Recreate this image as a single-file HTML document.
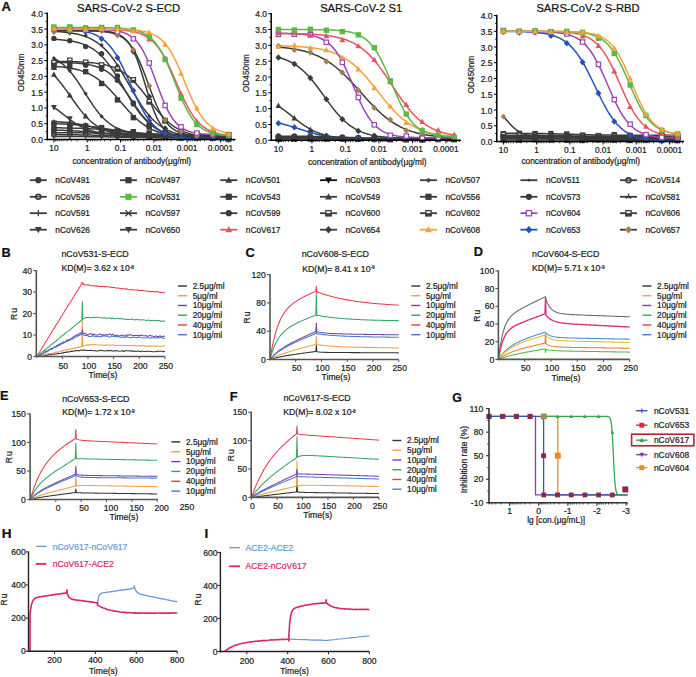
<!DOCTYPE html>
<html><head><meta charset="utf-8"><style>
html,body{margin:0;padding:0;background:#fff;width:696px;height:677px;overflow:hidden}
svg{display:block}
text{font-family:"Liberation Sans", sans-serif; stroke-width:0.22}
</style></head><body>
<svg width="696" height="677" viewBox="0 0 696 677">
<rect width="696" height="677" fill="#fff"/>
<text x="1.5" y="10.8" font-size="13" text-anchor="start" fill="#111" stroke="#111" font-weight="bold" >A</text>
<polyline points="53.9,121.53 56.08,121.66 58.27,121.8 60.45,121.97 62.64,122.15 64.82,122.35 67.01,122.58 69.19,122.83 71.38,123.1 73.56,123.4 75.75,123.73 77.93,124.08 80.12,124.46 82.3,124.86 84.48,125.3 86.67,125.75 88.85,126.22 91.04,126.71 93.22,127.21 95.41,127.72 97.59,128.24 99.78,128.75 101.96,129.26 104.15,129.76 106.33,130.24 108.52,130.71 110.7,131.15 112.88,131.57 115.07,131.97 117.25,132.34 119.44,132.68 121.62,133 123.81,133.29 125.99,133.55 128.18,133.79 130.36,134.01 132.55,134.2 134.73,134.38 136.92,134.54 139.1,134.67 141.28,134.8 143.47,134.91 145.65,135.01 147.84,135.09 150.02,135.17 152.21,135.24 154.39,135.3 156.58,135.35 158.76,135.39 160.95,135.43 163.13,135.47 165.32,135.5 167.5,135.53 169.68,135.55 171.87,135.57 174.05,135.59 176.24,135.6 178.42,135.62 180.61,135.63 182.79,135.64 184.98,135.65 187.16,135.66 189.35,135.67 191.53,135.67 193.72,135.68 195.9,135.68 198.08,135.69 200.27,135.69 202.45,135.69 204.64,135.7 206.82,135.7 209.01,135.7 211.19,135.7 213.38,135.7 215.56,135.7 217.75,135.71 219.93,135.71 222.12,135.71 224.3,135.71 226.48,135.71 228.67,135.71" fill="none" stroke="#3b3b3b" stroke-width="1.5" stroke-linejoin="round" />
<polyline points="53.9,123.68 56.08,123.75 58.27,123.83 60.45,123.91 62.64,124.01 64.82,124.12 67.01,124.24 69.19,124.37 71.38,124.51 73.56,124.67 75.75,124.84 77.93,125.03 80.12,125.23 82.3,125.45 84.48,125.68 86.67,125.93 88.85,126.2 91.04,126.49 93.22,126.78 95.41,127.09 97.59,127.42 99.78,127.75 101.96,128.09 104.15,128.44 106.33,128.79 108.52,129.15 110.7,129.5 112.88,129.84 115.07,130.18 117.25,130.52 119.44,130.84 121.62,131.15 123.81,131.44 125.99,131.72 128.18,131.98 130.36,132.23 132.55,132.46 134.73,132.68 136.92,132.88 139.1,133.06 141.28,133.23 143.47,133.39 145.65,133.53 147.84,133.65 150.02,133.77 152.21,133.87 154.39,133.97 156.58,134.05 158.76,134.13 160.95,134.2 163.13,134.26 165.32,134.32 167.5,134.37 169.68,134.41 171.87,134.45 174.05,134.49 176.24,134.52 178.42,134.55 180.61,134.57 182.79,134.59 184.98,134.61 187.16,134.63 189.35,134.64 191.53,134.66 193.72,134.67 195.9,134.68 198.08,134.69 200.27,134.7 202.45,134.71 204.64,134.71 206.82,134.72 209.01,134.73 211.19,134.73 213.38,134.73 215.56,134.74 217.75,134.74 219.93,134.74 222.12,134.75 224.3,134.75 226.48,134.75 228.67,134.75" fill="none" stroke="#3b3b3b" stroke-width="1.5" stroke-linejoin="round" />
<polyline points="53.9,127.76 56.08,127.79 58.27,127.81 60.45,127.85 62.64,127.88 64.82,127.92 67.01,127.97 69.19,128.01 71.38,128.07 73.56,128.13 75.75,128.19 77.93,128.26 80.12,128.33 82.3,128.42 84.48,128.5 86.67,128.6 88.85,128.71 91.04,128.82 93.22,128.94 95.41,129.07 97.59,129.22 99.78,129.37 101.96,129.53 104.15,129.69 106.33,129.87 108.52,130.06 110.7,130.26 112.88,130.46 115.07,130.67 117.25,130.89 119.44,131.11 121.62,131.34 123.81,131.57 125.99,131.8 128.18,132.04 130.36,132.27 132.55,132.5 134.73,132.73 136.92,132.95 139.1,133.17 141.28,133.38 143.47,133.59 145.65,133.78 147.84,133.97 150.02,134.15 152.21,134.32 154.39,134.48 156.58,134.63 158.76,134.77 160.95,134.9 163.13,135.03 165.32,135.14 167.5,135.25 169.68,135.34 171.87,135.43 174.05,135.52 176.24,135.59 178.42,135.66 180.61,135.73 182.79,135.78 184.98,135.84 187.16,135.89 189.35,135.93 191.53,135.97 193.72,136.01 195.9,136.04 198.08,136.07 200.27,136.1 202.45,136.12 204.64,136.14 206.82,136.16 209.01,136.18 211.19,136.2 213.38,136.21 215.56,136.22 217.75,136.24 219.93,136.25 222.12,136.26 224.3,136.27 226.48,136.27 228.67,136.28" fill="none" stroke="#3b3b3b" stroke-width="1.5" stroke-linejoin="round" />
<polyline points="53.9,130.02 56.08,130.09 58.27,130.16 60.45,130.23 62.64,130.31 64.82,130.4 67.01,130.49 69.19,130.6 71.38,130.71 73.56,130.82 75.75,130.95 77.93,131.08 80.12,131.23 82.3,131.38 84.48,131.54 86.67,131.7 88.85,131.87 91.04,132.05 93.22,132.24 95.41,132.43 97.59,132.62 99.78,132.82 101.96,133.02 104.15,133.22 106.33,133.42 108.52,133.62 110.7,133.81 112.88,134 115.07,134.19 117.25,134.38 119.44,134.55 121.62,134.72 123.81,134.89 125.99,135.04 128.18,135.19 130.36,135.33 132.55,135.46 134.73,135.59 136.92,135.7 139.1,135.81 141.28,135.91 143.47,136.01 145.65,136.09 147.84,136.17 150.02,136.24 152.21,136.31 154.39,136.37 156.58,136.43 158.76,136.48 160.95,136.53 163.13,136.57 165.32,136.61 167.5,136.64 169.68,136.68 171.87,136.7 174.05,136.73 176.24,136.75 178.42,136.78 180.61,136.8 182.79,136.81 184.98,136.83 187.16,136.84 189.35,136.86 191.53,136.87 193.72,136.88 195.9,136.89 198.08,136.9 200.27,136.91 202.45,136.91 204.64,136.92 206.82,136.92 209.01,136.93 211.19,136.93 213.38,136.94 215.56,136.94 217.75,136.95 219.93,136.95 222.12,136.95 224.3,136.95 226.48,136.96 228.67,136.96" fill="none" stroke="#3b3b3b" stroke-width="1.5" stroke-linejoin="round" />
<polyline points="53.9,132.65 56.08,132.66 58.27,132.67 60.45,132.68 62.64,132.69 64.82,132.71 67.01,132.72 69.19,132.74 71.38,132.76 73.56,132.78 75.75,132.8 77.93,132.83 80.12,132.86 82.3,132.89 84.48,132.92 86.67,132.96 88.85,133 91.04,133.05 93.22,133.1 95.41,133.15 97.59,133.21 99.78,133.27 101.96,133.34 104.15,133.41 106.33,133.49 108.52,133.57 110.7,133.66 112.88,133.75 115.07,133.85 117.25,133.95 119.44,134.06 121.62,134.18 123.81,134.3 125.99,134.42 128.18,134.54 130.36,134.67 132.55,134.8 134.73,134.94 136.92,135.07 139.1,135.2 141.28,135.33 143.47,135.47 145.65,135.6 147.84,135.72 150.02,135.84 152.21,135.96 154.39,136.08 156.58,136.19 158.76,136.29 160.95,136.39 163.13,136.49 165.32,136.58 167.5,136.66 169.68,136.74 171.87,136.81 174.05,136.88 176.24,136.95 178.42,137 180.61,137.06 182.79,137.11 184.98,137.15 187.16,137.2 189.35,137.23 191.53,137.27 193.72,137.3 195.9,137.33 198.08,137.36 200.27,137.38 202.45,137.4 204.64,137.42 206.82,137.44 209.01,137.46 211.19,137.47 213.38,137.48 215.56,137.5 217.75,137.51 219.93,137.52 222.12,137.53 224.3,137.53 226.48,137.54 228.67,137.55" fill="none" stroke="#3b3b3b" stroke-width="1.5" stroke-linejoin="round" />
<polyline points="53.9,134.58 56.08,134.6 58.27,134.61 60.45,134.63 62.64,134.65 64.82,134.67 67.01,134.69 69.19,134.72 71.38,134.75 73.56,134.78 75.75,134.81 77.93,134.84 80.12,134.88 82.3,134.92 84.48,134.97 86.67,135.02 88.85,135.07 91.04,135.12 93.22,135.18 95.41,135.25 97.59,135.31 99.78,135.38 101.96,135.46 104.15,135.53 106.33,135.61 108.52,135.7 110.7,135.78 112.88,135.87 115.07,135.96 117.25,136.05 119.44,136.14 121.62,136.23 123.81,136.33 125.99,136.42 128.18,136.51 130.36,136.59 132.55,136.68 134.73,136.76 136.92,136.84 139.1,136.92 141.28,136.99 143.47,137.06 145.65,137.13 147.84,137.19 150.02,137.25 152.21,137.31 154.39,137.36 156.58,137.41 158.76,137.45 160.95,137.49 163.13,137.53 165.32,137.57 167.5,137.6 169.68,137.63 171.87,137.66 174.05,137.68 176.24,137.7 178.42,137.72 180.61,137.74 182.79,137.76 184.98,137.78 187.16,137.79 189.35,137.8 191.53,137.81 193.72,137.83 195.9,137.83 198.08,137.84 200.27,137.85 202.45,137.86 204.64,137.86 206.82,137.87 209.01,137.88 211.19,137.88 213.38,137.88 215.56,137.89 217.75,137.89 219.93,137.89 222.12,137.9 224.3,137.9 226.48,137.9 228.67,137.9" fill="none" stroke="#3b3b3b" stroke-width="1.5" stroke-linejoin="round" />
<polyline points="53.9,136.41 56.08,136.41 58.27,136.42 60.45,136.43 62.64,136.44 64.82,136.44 67.01,136.46 69.19,136.47 71.38,136.48 73.56,136.49 75.75,136.51 77.93,136.52 80.12,136.54 82.3,136.56 84.48,136.58 86.67,136.6 88.85,136.63 91.04,136.65 93.22,136.68 95.41,136.71 97.59,136.74 99.78,136.77 101.96,136.8 104.15,136.84 106.33,136.87 108.52,136.91 110.7,136.95 112.88,136.99 115.07,137.03 117.25,137.07 119.44,137.11 121.62,137.16 123.81,137.2 125.99,137.24 128.18,137.28 130.36,137.32 132.55,137.36 134.73,137.4 136.92,137.43 139.1,137.47 141.28,137.5 143.47,137.53 145.65,137.56 147.84,137.59 150.02,137.62 152.21,137.64 154.39,137.67 156.58,137.69 158.76,137.71 160.95,137.73 163.13,137.74 165.32,137.76 167.5,137.78 169.68,137.79 171.87,137.8 174.05,137.81 176.24,137.82 178.42,137.83 180.61,137.84 182.79,137.85 184.98,137.86 187.16,137.86 189.35,137.87 191.53,137.87 193.72,137.88 195.9,137.88 198.08,137.89 200.27,137.89 202.45,137.89 204.64,137.9 206.82,137.9 209.01,137.9 211.19,137.9 213.38,137.91 215.56,137.91 217.75,137.91 219.93,137.91 222.12,137.91 224.3,137.91 226.48,137.91 228.67,137.91" fill="none" stroke="#3b3b3b" stroke-width="1.5" stroke-linejoin="round" />
<polyline points="53.9,107.32 56.08,108.83 58.27,110.43 60.45,112.09 62.64,113.8 64.82,115.52 67.01,117.24 69.19,118.93 71.38,120.56 73.56,122.11 75.75,123.56 77.93,124.91 80.12,126.15 82.3,127.27 84.48,128.28 86.67,129.18 88.85,129.96 91.04,130.66 93.22,131.26 95.41,131.78 97.59,132.23 99.78,132.61 101.96,132.94 104.15,133.23 106.33,133.47 108.52,133.67 110.7,133.84 112.88,133.99 115.07,134.11 117.25,134.21 119.44,134.3 121.62,134.38 123.81,134.44 125.99,134.49 128.18,134.54 130.36,134.57 132.55,134.6 134.73,134.63 136.92,134.65 139.1,134.67 141.28,134.69 143.47,134.7 145.65,134.71 147.84,134.72 150.02,134.73 152.21,134.73 154.39,134.74 156.58,134.74 158.76,134.75 160.95,134.75 163.13,134.75 165.32,134.76 167.5,134.76 169.68,134.76 171.87,134.76 174.05,134.76 176.24,134.76 178.42,134.76 180.61,134.76 182.79,134.76 184.98,134.77 187.16,134.77 189.35,134.77 191.53,134.77 193.72,134.77 195.9,134.77 198.08,134.77 200.27,134.77 202.45,134.77 204.64,134.77 206.82,134.77 209.01,134.77 211.19,134.77 213.38,134.77 215.56,134.77 217.75,134.77 219.93,134.77 222.12,134.77 224.3,134.77 226.48,134.77 228.67,134.77" fill="none" stroke="#3b3b3b" stroke-width="1.5" stroke-linejoin="round" />
<polyline points="53.9,75.27 56.08,77.55 58.27,80.01 60.45,82.65 62.64,85.44 64.82,88.37 67.01,91.4 69.19,94.49 71.38,97.61 73.56,100.73 75.75,103.8 77.93,106.78 80.12,109.65 82.3,112.38 84.48,114.94 86.67,117.32 88.85,119.52 91.04,121.52 93.22,123.34 95.41,124.97 97.59,126.43 99.78,127.72 101.96,128.87 104.15,129.87 106.33,130.76 108.52,131.53 110.7,132.2 112.88,132.78 115.07,133.28 117.25,133.71 119.44,134.09 121.62,134.41 123.81,134.69 125.99,134.93 128.18,135.13 130.36,135.31 132.55,135.46 134.73,135.59 136.92,135.7 139.1,135.79 141.28,135.87 143.47,135.94 145.65,136 147.84,136.05 150.02,136.09 152.21,136.13 154.39,136.16 156.58,136.19 158.76,136.21 160.95,136.23 163.13,136.25 165.32,136.26 167.5,136.27 169.68,136.28 171.87,136.29 174.05,136.3 176.24,136.31 178.42,136.31 180.61,136.32 182.79,136.32 184.98,136.33 187.16,136.33 189.35,136.33 191.53,136.33 193.72,136.33 195.9,136.34 198.08,136.34 200.27,136.34 202.45,136.34 204.64,136.34 206.82,136.34 209.01,136.34 211.19,136.34 213.38,136.34 215.56,136.34 217.75,136.34 219.93,136.34 222.12,136.34 224.3,136.34 226.48,136.34 228.67,136.34" fill="none" stroke="#3b3b3b" stroke-width="1.5" stroke-linejoin="round" />
<polyline points="53.9,58.32 56.08,59.48 58.27,60.82 60.45,62.33 62.64,64.04 64.82,65.95 67.01,68.08 69.19,70.44 71.38,73.01 73.56,75.8 75.75,78.78 77.93,81.94 80.12,85.23 82.3,88.63 84.48,92.09 86.67,95.56 88.85,98.99 91.04,102.35 93.22,105.58 95.41,108.65 97.59,111.54 99.78,114.22 101.96,116.68 104.15,118.93 106.33,120.95 108.52,122.76 110.7,124.37 112.88,125.79 115.07,127.04 117.25,128.13 119.44,129.08 121.62,129.9 123.81,130.61 125.99,131.22 128.18,131.74 130.36,132.19 132.55,132.57 134.73,132.9 136.92,133.18 139.1,133.42 141.28,133.62 143.47,133.8 145.65,133.94 147.84,134.07 150.02,134.18 152.21,134.27 154.39,134.34 156.58,134.41 158.76,134.46 160.95,134.51 163.13,134.55 165.32,134.58 167.5,134.61 169.68,134.63 171.87,134.65 174.05,134.67 176.24,134.69 178.42,134.7 180.61,134.71 182.79,134.72 184.98,134.73 187.16,134.73 189.35,134.74 191.53,134.74 193.72,134.75 195.9,134.75 198.08,134.75 200.27,134.75 202.45,134.76 204.64,134.76 206.82,134.76 209.01,134.76 211.19,134.76 213.38,134.76 215.56,134.76 217.75,134.76 219.93,134.76 222.12,134.77 224.3,134.77 226.48,134.77 228.67,134.77" fill="none" stroke="#3b3b3b" stroke-width="1.5" stroke-linejoin="round" />
<polyline points="53.9,66.35 56.08,66.49 58.27,66.66 60.45,66.85 62.64,67.07 64.82,67.32 67.01,67.61 69.19,67.94 71.38,68.31 73.56,68.74 75.75,69.22 77.93,69.77 80.12,70.39 82.3,71.09 84.48,71.87 86.67,72.76 88.85,73.74 91.04,74.84 93.22,76.06 95.41,77.41 97.59,78.89 99.78,80.5 101.96,82.26 104.15,84.15 106.33,86.17 108.52,88.31 110.7,90.57 112.88,92.93 115.07,95.37 117.25,97.87 119.44,100.4 121.62,102.95 123.81,105.48 125.99,107.98 128.18,110.42 130.36,112.77 132.55,115.03 134.73,117.17 136.92,119.19 139.1,121.08 141.28,122.82 143.47,124.43 145.65,125.91 147.84,127.25 150.02,128.47 152.21,129.57 154.39,130.55 156.58,131.43 158.76,132.21 160.95,132.91 163.13,133.53 165.32,134.07 167.5,134.55 169.68,134.98 171.87,135.35 174.05,135.68 176.24,135.96 178.42,136.21 180.61,136.43 182.79,136.62 184.98,136.79 187.16,136.94 189.35,137.07 191.53,137.18 193.72,137.27 195.9,137.36 198.08,137.43 200.27,137.5 202.45,137.55 204.64,137.6 206.82,137.64 209.01,137.68 211.19,137.71 213.38,137.74 215.56,137.76 217.75,137.78 219.93,137.8 222.12,137.82 224.3,137.83 226.48,137.84 228.67,137.85" fill="none" stroke="#3b3b3b" stroke-width="1.5" stroke-linejoin="round" />
<polyline points="53.9,62.36 56.08,62.39 58.27,62.43 60.45,62.47 62.64,62.52 64.82,62.58 67.01,62.65 69.19,62.73 71.38,62.83 73.56,62.95 75.75,63.09 77.93,63.26 80.12,63.46 82.3,63.69 84.48,63.96 86.67,64.29 88.85,64.67 91.04,65.12 93.22,65.65 95.41,66.27 97.59,66.99 99.78,67.83 101.96,68.81 104.15,69.93 106.33,71.22 108.52,72.7 110.7,74.37 112.88,76.25 115.07,78.35 117.25,80.66 119.44,83.19 121.62,85.93 123.81,88.85 125.99,91.92 128.18,95.11 130.36,98.37 132.55,101.65 134.73,104.92 136.92,108.11 139.1,111.18 141.28,114.1 143.47,116.85 145.65,119.38 147.84,121.71 150.02,123.81 152.21,125.7 154.39,127.38 156.58,128.86 158.76,130.15 160.95,131.28 163.13,132.26 165.32,133.11 167.5,133.83 169.68,134.46 171.87,134.99 174.05,135.44 176.24,135.83 178.42,136.15 180.61,136.43 182.79,136.66 184.98,136.86 187.16,137.03 189.35,137.17 191.53,137.29 193.72,137.39 195.9,137.47 198.08,137.54 200.27,137.6 202.45,137.66 204.64,137.7 206.82,137.73 209.01,137.76 211.19,137.79 213.38,137.81 215.56,137.83 217.75,137.84 219.93,137.86 222.12,137.87 224.3,137.88 226.48,137.88 228.67,137.89" fill="none" stroke="#3b3b3b" stroke-width="1.5" stroke-linejoin="round" />
<polyline points="53.9,61.36 56.08,61.38 58.27,61.4 60.45,61.43 62.64,61.45 64.82,61.49 67.01,61.52 69.19,61.57 71.38,61.62 73.56,61.68 75.75,61.74 77.93,61.82 80.12,61.91 82.3,62.02 84.48,62.14 86.67,62.29 88.85,62.45 91.04,62.64 93.22,62.86 95.41,63.12 97.59,63.42 99.78,63.76 101.96,64.15 104.15,64.6 106.33,65.12 108.52,65.71 110.7,66.39 112.88,67.16 115.07,68.04 117.25,69.03 119.44,70.15 121.62,71.41 123.81,72.82 125.99,74.38 128.18,76.1 130.36,78 132.55,80.06 134.73,82.28 136.92,84.66 139.1,87.19 141.28,89.84 143.47,92.6 145.65,95.43 147.84,98.31 150.02,101.2 152.21,104.08 154.39,106.9 156.58,109.65 158.76,112.29 160.95,114.8 163.13,117.16 165.32,119.37 167.5,121.41 169.68,123.28 171.87,124.99 174.05,126.53 176.24,127.92 178.42,129.16 180.61,130.27 182.79,131.25 184.98,132.11 187.16,132.87 189.35,133.54 191.53,134.13 193.72,134.63 195.9,135.08 198.08,135.46 200.27,135.8 202.45,136.09 204.64,136.34 206.82,136.56 209.01,136.75 211.19,136.91 213.38,137.05 215.56,137.17 217.75,137.28 219.93,137.37 222.12,137.44 224.3,137.51 226.48,137.57 228.67,137.62" fill="none" stroke="#3b3b3b" stroke-width="1.5" stroke-linejoin="round" />
<polyline points="53.9,39.32 56.08,39.45 58.27,39.6 60.45,39.77 62.64,39.96 64.82,40.19 67.01,40.46 69.19,40.76 71.38,41.11 73.56,41.52 75.75,41.99 77.93,42.53 80.12,43.15 82.3,43.86 84.48,44.68 86.67,45.61 88.85,46.67 91.04,47.87 93.22,49.23 95.41,50.75 97.59,52.47 99.78,54.38 101.96,56.49 104.15,58.82 106.33,61.37 108.52,64.13 110.7,67.11 112.88,70.28 115.07,73.62 117.25,77.12 119.44,80.74 121.62,84.45 123.81,88.19 125.99,91.94 128.18,95.64 130.36,99.27 132.55,102.77 134.73,106.12 136.92,109.29 139.1,112.27 141.28,115.04 143.47,117.59 145.65,119.93 147.84,122.05 150.02,123.96 152.21,125.68 154.39,127.21 156.58,128.57 158.76,129.77 160.95,130.83 163.13,131.77 165.32,132.58 167.5,133.3 169.68,133.92 171.87,134.46 174.05,134.93 176.24,135.34 178.42,135.69 180.61,136 182.79,136.27 184.98,136.49 187.16,136.69 189.35,136.86 191.53,137.01 193.72,137.14 195.9,137.25 198.08,137.34 200.27,137.42 202.45,137.49 204.64,137.55 206.82,137.6 209.01,137.65 211.19,137.69 213.38,137.72 215.56,137.75 217.75,137.77 219.93,137.79 222.12,137.81 224.3,137.83 226.48,137.84 228.67,137.85" fill="none" stroke="#3b3b3b" stroke-width="1.5" stroke-linejoin="round" />
<polyline points="53.9,31.43 56.08,31.55 58.27,31.68 60.45,31.84 62.64,32.02 64.82,32.23 67.01,32.47 69.19,32.75 71.38,33.06 73.56,33.42 75.75,33.84 77.93,34.31 80.12,34.86 82.3,35.47 84.48,36.18 86.67,36.98 88.85,37.89 91.04,38.92 93.22,40.09 95.41,41.4 97.59,42.87 99.78,44.51 101.96,46.34 104.15,48.36 106.33,50.58 108.52,53.02 110.7,55.66 112.88,58.52 115.07,61.58 117.25,64.83 119.44,68.26 121.62,71.83 123.81,75.53 125.99,79.31 128.18,83.15 130.36,86.99 132.55,90.81 134.73,94.56 136.92,98.21 139.1,101.73 141.28,105.09 143.47,108.26 145.65,111.24 147.84,114.01 150.02,116.57 152.21,118.92 154.39,121.06 156.58,123 158.76,124.75 160.95,126.32 163.13,127.73 165.32,128.98 167.5,130.08 169.68,131.07 171.87,131.93 174.05,132.69 176.24,133.36 178.42,133.95 180.61,134.46 182.79,134.91 184.98,135.31 187.16,135.65 189.35,135.95 191.53,136.21 193.72,136.43 195.9,136.63 198.08,136.8 200.27,136.95 202.45,137.08 204.64,137.19 206.82,137.29 209.01,137.37 211.19,137.45 213.38,137.51 215.56,137.56 217.75,137.61 219.93,137.65 222.12,137.69 224.3,137.72 226.48,137.75 228.67,137.77" fill="none" stroke="#3b3b3b" stroke-width="1.5" stroke-linejoin="round" />
<polyline points="53.9,30.65 56.08,30.65 58.27,30.65 60.45,30.66 62.64,30.66 64.82,30.66 67.01,30.66 69.19,30.66 71.38,30.66 73.56,30.67 75.75,30.67 77.93,30.68 80.12,30.69 82.3,30.7 84.48,30.71 86.67,30.73 88.85,30.75 91.04,30.78 93.22,30.82 95.41,30.87 97.59,30.94 99.78,31.03 101.96,31.15 104.15,31.3 106.33,31.5 108.52,31.76 110.7,32.11 112.88,32.55 115.07,33.13 117.25,33.89 119.44,34.86 121.62,36.1 123.81,37.7 125.99,39.71 128.18,42.24 130.36,45.36 132.55,49.16 134.73,53.7 136.92,59 139.1,65.02 141.28,71.65 143.47,78.72 145.65,86 147.84,93.2 150.02,100.1 152.21,106.46 154.39,112.15 156.58,117.1 158.76,121.29 160.95,124.76 163.13,127.59 165.32,129.87 167.5,131.67 169.68,133.09 171.87,134.2 174.05,135.07 176.24,135.73 178.42,136.25 180.61,136.64 182.79,136.94 184.98,137.17 187.16,137.35 189.35,137.49 191.53,137.59 193.72,137.67 195.9,137.73 198.08,137.78 200.27,137.81 202.45,137.84 204.64,137.86 206.82,137.87 209.01,137.88 211.19,137.89 213.38,137.9 215.56,137.91 217.75,137.91 219.93,137.91 222.12,137.92 224.3,137.92 226.48,137.92 228.67,137.92" fill="none" stroke="#3b3b3b" stroke-width="1.5" stroke-linejoin="round" />
<polyline points="53.9,29.27 56.08,29.3 58.27,29.35 60.45,29.4 62.64,29.47 64.82,29.55 67.01,29.64 69.19,29.75 71.38,29.89 73.56,30.05 75.75,30.24 77.93,30.47 80.12,30.74 82.3,31.06 84.48,31.45 86.67,31.91 88.85,32.46 91.04,33.1 93.22,33.87 95.41,34.77 97.59,35.84 99.78,37.08 101.96,38.54 104.15,40.23 106.33,42.18 108.52,44.43 110.7,46.98 112.88,49.87 115.07,53.11 117.25,56.69 119.44,60.61 121.62,64.85 123.81,69.36 125.99,74.1 128.18,79.01 130.36,83.99 132.55,88.99 134.73,93.9 136.92,98.67 139.1,103.21 141.28,107.48 143.47,111.44 145.65,115.07 147.84,118.34 150.02,121.27 152.21,123.86 154.39,126.14 156.58,128.13 158.76,129.85 160.95,131.33 163.13,132.6 165.32,133.68 167.5,134.61 169.68,135.39 171.87,136.05 174.05,136.6 176.24,137.07 178.42,137.47 180.61,137.8 182.79,138.08 184.98,138.31 187.16,138.51 189.35,138.67 191.53,138.81 193.72,138.92 195.9,139.02 198.08,139.1 200.27,139.16 202.45,139.22 204.64,139.27 206.82,139.3 209.01,139.34 211.19,139.36 213.38,139.39 215.56,139.41 217.75,139.42 219.93,139.43 222.12,139.44 224.3,139.45 226.48,139.46 228.67,139.47" fill="none" stroke="#2552b0" stroke-width="1.5" stroke-linejoin="round" />
<polyline points="53.9,30.66 56.08,30.66 58.27,30.66 60.45,30.66 62.64,30.67 64.82,30.67 67.01,30.68 69.19,30.68 71.38,30.69 73.56,30.7 75.75,30.71 77.93,30.73 80.12,30.74 82.3,30.77 84.48,30.8 86.67,30.83 88.85,30.88 91.04,30.93 93.22,31.01 95.41,31.1 97.59,31.21 99.78,31.35 101.96,31.52 104.15,31.74 106.33,32.02 108.52,32.36 110.7,32.78 112.88,33.31 115.07,33.97 117.25,34.78 119.44,35.78 121.62,37 123.81,38.5 125.99,40.31 128.18,42.49 130.36,45.09 132.55,48.15 134.73,51.72 136.92,55.8 139.1,60.39 141.28,65.47 143.47,70.95 145.65,76.73 147.84,82.68 150.02,88.65 152.21,94.49 154.39,100.06 156.58,105.25 158.76,109.98 160.95,114.21 163.13,117.92 165.32,121.11 167.5,123.84 169.68,126.13 171.87,128.04 174.05,129.61 176.24,130.91 178.42,131.96 180.61,132.82 182.79,133.52 184.98,134.08 187.16,134.53 189.35,134.89 191.53,135.18 193.72,135.42 195.9,135.6 198.08,135.75 200.27,135.87 202.45,135.97 204.64,136.04 206.82,136.11 209.01,136.15 211.19,136.19 213.38,136.22 215.56,136.25 217.75,136.27 219.93,136.28 222.12,136.3 224.3,136.31 226.48,136.31 228.67,136.32" fill="none" stroke="#3a3a3a" stroke-width="1.5" stroke-linejoin="round" />
<polyline points="53.9,29.08 56.08,29.08 58.27,29.08 60.45,29.08 62.64,29.08 64.82,29.08 67.01,29.09 69.19,29.09 71.38,29.09 73.56,29.1 75.75,29.1 77.93,29.11 80.12,29.11 82.3,29.12 84.48,29.14 86.67,29.15 88.85,29.17 91.04,29.2 93.22,29.23 95.41,29.27 97.59,29.32 99.78,29.38 101.96,29.46 104.15,29.55 106.33,29.68 108.52,29.83 110.7,30.02 112.88,30.25 115.07,30.55 117.25,30.92 119.44,31.37 121.62,31.94 123.81,32.65 125.99,33.52 128.18,34.59 130.36,35.9 132.55,37.5 134.73,39.43 136.92,41.75 139.1,44.5 141.28,47.74 143.47,51.48 145.65,55.74 147.84,60.5 150.02,65.72 152.21,71.32 154.39,77.17 156.58,83.14 158.76,89.09 160.95,94.85 163.13,100.3 165.32,105.35 167.5,109.91 169.68,113.96 171.87,117.49 174.05,120.52 176.24,123.09 178.42,125.24 180.61,127.03 182.79,128.51 184.98,129.72 187.16,130.7 189.35,131.5 191.53,132.15 193.72,132.67 195.9,133.09 198.08,133.42 200.27,133.69 202.45,133.91 204.64,134.08 206.82,134.22 209.01,134.33 211.19,134.42 213.38,134.49 215.56,134.55 217.75,134.59 219.93,134.63 222.12,134.65 224.3,134.68 226.48,134.7 228.67,134.71" fill="none" stroke="#9c44b8" stroke-width="1.5" stroke-linejoin="round" />
<polyline points="53.9,29.08 56.08,29.08 58.27,29.08 60.45,29.08 62.64,29.08 64.82,29.08 67.01,29.08 69.19,29.09 71.38,29.09 73.56,29.09 75.75,29.09 77.93,29.1 80.12,29.1 82.3,29.11 84.48,29.11 86.67,29.12 88.85,29.13 91.04,29.14 93.22,29.16 95.41,29.17 97.59,29.19 99.78,29.22 101.96,29.25 104.15,29.28 106.33,29.32 108.52,29.38 110.7,29.44 112.88,29.51 115.07,29.61 117.25,29.71 119.44,29.85 121.62,30.01 123.81,30.2 125.99,30.43 128.18,30.7 130.36,31.04 132.55,31.44 134.73,31.91 136.92,32.48 139.1,33.17 141.28,33.98 143.47,34.94 145.65,36.08 147.84,37.42 150.02,39 152.21,40.83 154.39,42.96 156.58,45.41 158.76,48.19 160.95,51.34 163.13,54.86 165.32,58.74 167.5,62.95 169.68,67.47 171.87,72.24 174.05,77.19 176.24,82.23 178.42,87.29 180.61,92.26 182.79,97.07 184.98,101.64 187.16,105.92 189.35,109.86 191.53,113.44 193.72,116.66 195.9,119.52 198.08,122.03 200.27,124.21 202.45,126.1 204.64,127.72 206.82,129.1 209.01,130.28 211.19,131.27 213.38,132.11 215.56,132.82 217.75,133.41 219.93,133.9 222.12,134.31 224.3,134.66 226.48,134.94 228.67,135.18" fill="none" stroke="#e8545e" stroke-width="1.5" stroke-linejoin="round" />
<polyline points="53.9,27.5 56.08,27.5 58.27,27.5 60.45,27.5 62.64,27.5 64.82,27.5 67.01,27.5 69.19,27.5 71.38,27.5 73.56,27.51 75.75,27.51 77.93,27.51 80.12,27.51 82.3,27.52 84.48,27.52 86.67,27.53 88.85,27.53 91.04,27.54 93.22,27.55 95.41,27.56 97.59,27.58 99.78,27.6 101.96,27.62 104.15,27.65 106.33,27.68 108.52,27.72 110.7,27.77 112.88,27.83 115.07,27.91 117.25,28 119.44,28.12 121.62,28.25 123.81,28.42 125.99,28.63 128.18,28.88 130.36,29.19 132.55,29.57 134.73,30.03 136.92,30.58 139.1,31.26 141.28,32.07 143.47,33.05 145.65,34.23 147.84,35.64 150.02,37.32 152.21,39.3 154.39,41.62 156.58,44.32 158.76,47.43 160.95,50.97 163.13,54.94 165.32,59.33 167.5,64.11 169.68,69.22 171.87,74.58 174.05,80.08 176.24,85.62 178.42,91.09 180.61,96.37 182.79,101.38 184.98,106.03 187.16,110.29 189.35,114.11 191.53,117.5 193.72,120.47 195.9,123.04 198.08,125.25 200.27,127.12 202.45,128.7 204.64,130.03 206.82,131.14 209.01,132.06 211.19,132.83 213.38,133.46 215.56,133.98 217.75,134.41 219.93,134.76 222.12,135.05 224.3,135.29 226.48,135.48 228.67,135.64" fill="none" stroke="#5db843" stroke-width="1.5" stroke-linejoin="round" />
<polyline points="53.9,29.08 56.08,29.08 58.27,29.08 60.45,29.08 62.64,29.08 64.82,29.08 67.01,29.08 69.19,29.08 71.38,29.08 73.56,29.08 75.75,29.08 77.93,29.08 80.12,29.08 82.3,29.08 84.48,29.08 86.67,29.09 88.85,29.09 91.04,29.09 93.22,29.1 95.41,29.1 97.59,29.11 99.78,29.11 101.96,29.12 104.15,29.13 106.33,29.14 108.52,29.16 110.7,29.18 112.88,29.2 115.07,29.23 117.25,29.27 119.44,29.31 121.62,29.37 123.81,29.43 125.99,29.51 128.18,29.61 130.36,29.73 132.55,29.88 134.73,30.06 136.92,30.27 139.1,30.54 141.28,30.87 143.47,31.27 145.65,31.75 147.84,32.34 150.02,33.05 152.21,33.9 154.39,34.93 156.58,36.17 158.76,37.64 160.95,39.39 163.13,41.46 165.32,43.86 167.5,46.65 169.68,49.85 171.87,53.46 174.05,57.5 176.24,61.93 178.42,66.71 180.61,71.78 182.79,77.06 184.98,82.43 187.16,87.8 189.35,93.04 191.53,98.07 193.72,102.79 195.9,107.15 198.08,111.1 200.27,114.64 202.45,117.75 204.64,120.47 206.82,122.81 209.01,124.8 211.19,126.5 213.38,127.93 215.56,129.12 217.75,130.12 219.93,130.94 222.12,131.63 224.3,132.19 226.48,132.66 228.67,133.04" fill="none" stroke="#f2a33a" stroke-width="1.5" stroke-linejoin="round" />
<polygon points="53.9,119.12 56.87,124.52 50.93,124.52" fill="#3b3b3b"/>
<polygon points="69.79,119.14 72.76,124.54 66.82,124.54" fill="#3b3b3b"/>
<polygon points="85.68,121.94 88.65,127.34 82.71,127.34" fill="#3b3b3b"/>
<polygon points="101.56,126.52 104.53,131.92 98.59,131.92" fill="#3b3b3b"/>
<polygon points="117.45,129.27 120.42,134.67 114.48,134.67" fill="#3b3b3b"/>
<polygon points="133.34,131.26 136.31,136.66 130.37,136.66" fill="#3b3b3b"/>
<polygon points="149.23,131.75 152.2,137.15 146.26,137.15" fill="#3b3b3b"/>
<polygon points="165.12,131.84 168.09,137.24 162.15,137.24" fill="#3b3b3b"/>
<polygon points="181.01,133.3 183.98,138.7 178.04,138.7" fill="#3b3b3b"/>
<polygon points="196.89,133.47 199.86,138.87 193.92,138.87" fill="#3b3b3b"/>
<polygon points="212.78,131.96 215.75,137.36 209.81,137.36" fill="#3b3b3b"/>
<polygon points="228.67,132.73 231.64,138.13 225.7,138.13" fill="#3b3b3b"/>
<rect x="51.2" y="120.48" width="5.4" height="5.4" fill="#3b3b3b"/>
<rect x="67.09" y="122.65" width="5.4" height="5.4" fill="#3b3b3b"/>
<rect x="82.98" y="123.22" width="5.4" height="5.4" fill="#3b3b3b"/>
<rect x="98.86" y="124.91" width="5.4" height="5.4" fill="#3b3b3b"/>
<rect x="114.75" y="128.36" width="5.4" height="5.4" fill="#3b3b3b"/>
<rect x="130.64" y="129" width="5.4" height="5.4" fill="#3b3b3b"/>
<rect x="146.53" y="130.27" width="5.4" height="5.4" fill="#3b3b3b"/>
<rect x="162.42" y="132.5" width="5.4" height="5.4" fill="#3b3b3b"/>
<rect x="178.31" y="132.77" width="5.4" height="5.4" fill="#3b3b3b"/>
<rect x="194.19" y="131.91" width="5.4" height="5.4" fill="#3b3b3b"/>
<rect x="210.08" y="131.2" width="5.4" height="5.4" fill="#3b3b3b"/>
<rect x="225.97" y="132.28" width="5.4" height="5.4" fill="#3b3b3b"/>
<rect x="51.2" y="125.6" width="5.4" height="5.4" fill="#3b3b3b"/>
<rect x="67.09" y="125.48" width="5.4" height="5.4" fill="#3b3b3b"/>
<rect x="82.98" y="126.75" width="5.4" height="5.4" fill="#3b3b3b"/>
<rect x="98.86" y="127.32" width="5.4" height="5.4" fill="#3b3b3b"/>
<rect x="114.75" y="128.33" width="5.4" height="5.4" fill="#3b3b3b"/>
<rect x="130.64" y="129.89" width="5.4" height="5.4" fill="#3b3b3b"/>
<rect x="146.53" y="131.89" width="5.4" height="5.4" fill="#3b3b3b"/>
<rect x="162.42" y="132.94" width="5.4" height="5.4" fill="#3b3b3b"/>
<rect x="178.31" y="133.57" width="5.4" height="5.4" fill="#3b3b3b"/>
<rect x="194.19" y="133.43" width="5.4" height="5.4" fill="#3b3b3b"/>
<rect x="210.08" y="133.91" width="5.4" height="5.4" fill="#3b3b3b"/>
<rect x="225.97" y="134.49" width="5.4" height="5.4" fill="#3b3b3b"/>
<circle cx="53.9" cy="129.38" r="2.7" fill="#3b3b3b"/>
<circle cx="69.79" cy="130.52" r="2.7" fill="#3b3b3b"/>
<circle cx="85.68" cy="131.36" r="2.7" fill="#3b3b3b"/>
<circle cx="101.56" cy="133.58" r="2.7" fill="#3b3b3b"/>
<circle cx="117.45" cy="133.46" r="2.7" fill="#3b3b3b"/>
<circle cx="133.34" cy="134.83" r="2.7" fill="#3b3b3b"/>
<circle cx="149.23" cy="136.94" r="2.7" fill="#3b3b3b"/>
<circle cx="165.12" cy="136.92" r="2.7" fill="#3b3b3b"/>
<circle cx="181.01" cy="136.38" r="2.7" fill="#3b3b3b"/>
<circle cx="196.89" cy="136.49" r="2.7" fill="#3b3b3b"/>
<circle cx="212.78" cy="136.11" r="2.7" fill="#3b3b3b"/>
<circle cx="228.67" cy="137.11" r="2.7" fill="#3b3b3b"/>
<rect x="51.2" y="129.32" width="5.4" height="5.4" fill="#3b3b3b"/>
<rect x="67.09" y="129.72" width="5.4" height="5.4" fill="#3b3b3b"/>
<rect x="82.98" y="130.62" width="5.4" height="5.4" fill="#3b3b3b"/>
<rect x="98.86" y="130.46" width="5.4" height="5.4" fill="#3b3b3b"/>
<rect x="114.75" y="130.54" width="5.4" height="5.4" fill="#3b3b3b"/>
<rect x="130.64" y="131.5" width="5.4" height="5.4" fill="#3b3b3b"/>
<rect x="146.53" y="133.09" width="5.4" height="5.4" fill="#3b3b3b"/>
<rect x="162.42" y="133.7" width="5.4" height="5.4" fill="#3b3b3b"/>
<rect x="178.31" y="135.25" width="5.4" height="5.4" fill="#3b3b3b"/>
<rect x="194.19" y="135.13" width="5.4" height="5.4" fill="#3b3b3b"/>
<rect x="210.08" y="134.22" width="5.4" height="5.4" fill="#3b3b3b"/>
<rect x="225.97" y="135.01" width="5.4" height="5.4" fill="#3b3b3b"/>
<circle cx="53.9" cy="135" r="2" fill="#fff" stroke="#3b3b3b" stroke-width="1.56"/>
<line x1="51.7" y1="135" x2="56.1" y2="135" stroke="#3b3b3b" stroke-width="1.2"/>
<circle cx="69.79" cy="134.66" r="2" fill="#fff" stroke="#3b3b3b" stroke-width="1.56"/>
<line x1="67.59" y1="134.66" x2="71.99" y2="134.66" stroke="#3b3b3b" stroke-width="1.2"/>
<circle cx="85.68" cy="134.74" r="2" fill="#fff" stroke="#3b3b3b" stroke-width="1.56"/>
<line x1="83.48" y1="134.74" x2="87.88" y2="134.74" stroke="#3b3b3b" stroke-width="1.2"/>
<circle cx="101.56" cy="135.22" r="2" fill="#fff" stroke="#3b3b3b" stroke-width="1.56"/>
<line x1="99.36" y1="135.22" x2="103.76" y2="135.22" stroke="#3b3b3b" stroke-width="1.2"/>
<circle cx="117.45" cy="136.22" r="2" fill="#fff" stroke="#3b3b3b" stroke-width="1.56"/>
<line x1="115.25" y1="136.22" x2="119.65" y2="136.22" stroke="#3b3b3b" stroke-width="1.2"/>
<circle cx="133.34" cy="136.79" r="2" fill="#fff" stroke="#3b3b3b" stroke-width="1.56"/>
<line x1="131.14" y1="136.79" x2="135.54" y2="136.79" stroke="#3b3b3b" stroke-width="1.2"/>
<circle cx="149.23" cy="137.22" r="2" fill="#fff" stroke="#3b3b3b" stroke-width="1.56"/>
<line x1="147.03" y1="137.22" x2="151.43" y2="137.22" stroke="#3b3b3b" stroke-width="1.2"/>
<circle cx="165.12" cy="137.21" r="2" fill="#fff" stroke="#3b3b3b" stroke-width="1.56"/>
<line x1="162.92" y1="137.21" x2="167.32" y2="137.21" stroke="#3b3b3b" stroke-width="1.2"/>
<circle cx="181.01" cy="137.72" r="2" fill="#fff" stroke="#3b3b3b" stroke-width="1.56"/>
<line x1="178.81" y1="137.72" x2="183.21" y2="137.72" stroke="#3b3b3b" stroke-width="1.2"/>
<circle cx="196.89" cy="137.97" r="2" fill="#fff" stroke="#3b3b3b" stroke-width="1.56"/>
<line x1="194.69" y1="137.97" x2="199.09" y2="137.97" stroke="#3b3b3b" stroke-width="1.2"/>
<circle cx="212.78" cy="137.9" r="2" fill="#fff" stroke="#3b3b3b" stroke-width="1.56"/>
<line x1="210.58" y1="137.9" x2="214.98" y2="137.9" stroke="#3b3b3b" stroke-width="1.2"/>
<circle cx="228.67" cy="138.5" r="2" fill="#fff" stroke="#3b3b3b" stroke-width="1.56"/>
<line x1="226.47" y1="138.5" x2="230.87" y2="138.5" stroke="#3b3b3b" stroke-width="1.2"/>
<line x1="53.9" y1="134.28" x2="53.9" y2="139.68" stroke="#3b3b3b" stroke-width="1.2"/>
<line x1="69.79" y1="133.51" x2="69.79" y2="138.91" stroke="#3b3b3b" stroke-width="1.2"/>
<line x1="85.68" y1="133.28" x2="85.68" y2="138.68" stroke="#3b3b3b" stroke-width="1.2"/>
<line x1="101.56" y1="133.98" x2="101.56" y2="139.38" stroke="#3b3b3b" stroke-width="1.2"/>
<line x1="117.45" y1="134.51" x2="117.45" y2="139.91" stroke="#3b3b3b" stroke-width="1.2"/>
<line x1="133.34" y1="135.09" x2="133.34" y2="140.49" stroke="#3b3b3b" stroke-width="1.2"/>
<line x1="149.23" y1="134.91" x2="149.23" y2="140.31" stroke="#3b3b3b" stroke-width="1.2"/>
<line x1="165.12" y1="134.45" x2="165.12" y2="139.85" stroke="#3b3b3b" stroke-width="1.2"/>
<line x1="181.01" y1="134.8" x2="181.01" y2="140.2" stroke="#3b3b3b" stroke-width="1.2"/>
<line x1="196.89" y1="135.13" x2="196.89" y2="140.53" stroke="#3b3b3b" stroke-width="1.2"/>
<line x1="212.78" y1="134.75" x2="212.78" y2="140.15" stroke="#3b3b3b" stroke-width="1.2"/>
<line x1="228.67" y1="135.55" x2="228.67" y2="140.95" stroke="#3b3b3b" stroke-width="1.2"/>
<polygon points="53.9,110.4 56.87,105 50.93,105" fill="#3b3b3b"/>
<polygon points="69.79,121.63 72.76,116.23 66.82,116.23" fill="#3b3b3b"/>
<polygon points="85.68,131.74 88.65,126.34 82.71,126.34" fill="#3b3b3b"/>
<polygon points="101.56,136.07 104.53,130.67 98.59,130.67" fill="#3b3b3b"/>
<polygon points="117.45,137.77 120.42,132.37 114.48,132.37" fill="#3b3b3b"/>
<polygon points="133.34,137.63 136.31,132.23 130.37,132.23" fill="#3b3b3b"/>
<polygon points="149.23,136.96 152.2,131.56 146.26,131.56" fill="#3b3b3b"/>
<polygon points="165.12,138.8 168.09,133.4 162.15,133.4" fill="#3b3b3b"/>
<polygon points="181.01,137.33 183.98,131.93 178.04,131.93" fill="#3b3b3b"/>
<polygon points="196.89,137.26 199.86,131.86 193.92,131.86" fill="#3b3b3b"/>
<polygon points="212.78,137.14 215.75,131.74 209.81,131.74" fill="#3b3b3b"/>
<polygon points="228.67,137.42 231.64,132.02 225.7,132.02" fill="#3b3b3b"/>
<polygon points="53.9,71.38 56.87,76.78 50.93,76.78" fill="#3b3b3b"/>
<polygon points="69.79,92.19 72.76,97.59 66.82,97.59" fill="#3b3b3b"/>
<polygon points="85.68,113 88.65,118.4 82.71,118.4" fill="#3b3b3b"/>
<polygon points="101.56,125.75 104.53,131.15 98.59,131.15" fill="#3b3b3b"/>
<polygon points="117.45,131.77 120.42,137.17 114.48,137.17" fill="#3b3b3b"/>
<polygon points="133.34,131.47 136.31,136.87 130.37,136.87" fill="#3b3b3b"/>
<polygon points="149.23,132.8 152.2,138.2 146.26,138.2" fill="#3b3b3b"/>
<polygon points="165.12,133.91 168.09,139.31 162.15,139.31" fill="#3b3b3b"/>
<polygon points="181.01,133.2 183.98,138.6 178.04,138.6" fill="#3b3b3b"/>
<polygon points="196.89,133.27 199.86,138.67 193.92,138.67" fill="#3b3b3b"/>
<polygon points="212.78,133.6 215.75,139 209.81,139" fill="#3b3b3b"/>
<polygon points="228.67,133.63 231.64,139.03 225.7,139.03" fill="#3b3b3b"/>
<polygon points="53.9,56.06 56.06,58.22 53.9,60.38 51.74,58.22" fill="#3b3b3b"/>
<polygon points="69.79,68.65 71.95,70.81 69.79,72.97 67.63,70.81" fill="#3b3b3b"/>
<polygon points="85.68,91.54 87.84,93.7 85.68,95.86 83.52,93.7" fill="#3b3b3b"/>
<polygon points="101.56,114.2 103.72,116.36 101.56,118.52 99.4,116.36" fill="#3b3b3b"/>
<polygon points="117.45,127.25 119.61,129.41 117.45,131.57 115.29,129.41" fill="#3b3b3b"/>
<polygon points="133.34,131.22 135.5,133.38 133.34,135.54 131.18,133.38" fill="#3b3b3b"/>
<polygon points="149.23,132.79 151.39,134.95 149.23,137.11 147.07,134.95" fill="#3b3b3b"/>
<polygon points="165.12,132.21 167.28,134.37 165.12,136.53 162.96,134.37" fill="#3b3b3b"/>
<polygon points="181.01,131.64 183.17,133.8 181.01,135.96 178.85,133.8" fill="#3b3b3b"/>
<polygon points="196.89,131.84 199.05,134 196.89,136.16 194.73,134" fill="#3b3b3b"/>
<polygon points="212.78,131.85 214.94,134.01 212.78,136.17 210.62,134.01" fill="#3b3b3b"/>
<polygon points="228.67,131.81 230.83,133.97 228.67,136.13 226.51,133.97" fill="#3b3b3b"/>
<rect x="51.2" y="64.57" width="5.4" height="5.4" fill="#3b3b3b"/>
<rect x="67.09" y="64.04" width="5.4" height="5.4" fill="#3b3b3b"/>
<rect x="82.98" y="68.99" width="5.4" height="5.4" fill="#3b3b3b"/>
<rect x="98.86" y="80.81" width="5.4" height="5.4" fill="#3b3b3b"/>
<rect x="114.75" y="97.23" width="5.4" height="5.4" fill="#3b3b3b"/>
<rect x="130.64" y="114.96" width="5.4" height="5.4" fill="#3b3b3b"/>
<rect x="146.53" y="124.37" width="5.4" height="5.4" fill="#3b3b3b"/>
<rect x="162.42" y="132.27" width="5.4" height="5.4" fill="#3b3b3b"/>
<rect x="178.31" y="135.25" width="5.4" height="5.4" fill="#3b3b3b"/>
<rect x="194.19" y="134.22" width="5.4" height="5.4" fill="#3b3b3b"/>
<rect x="210.08" y="135.62" width="5.4" height="5.4" fill="#3b3b3b"/>
<rect x="225.97" y="136.78" width="5.4" height="5.4" fill="#3b3b3b"/>
<circle cx="53.9" cy="63.43" r="2.7" fill="#3b3b3b"/>
<circle cx="69.79" cy="62.67" r="2.7" fill="#3b3b3b"/>
<circle cx="85.68" cy="65.18" r="2.7" fill="#3b3b3b"/>
<circle cx="101.56" cy="69.34" r="2.7" fill="#3b3b3b"/>
<circle cx="117.45" cy="80.22" r="2.7" fill="#3b3b3b"/>
<circle cx="133.34" cy="102.99" r="2.7" fill="#3b3b3b"/>
<circle cx="149.23" cy="123.63" r="2.7" fill="#3b3b3b"/>
<circle cx="165.12" cy="133.12" r="2.7" fill="#3b3b3b"/>
<circle cx="181.01" cy="137.98" r="2.7" fill="#3b3b3b"/>
<circle cx="196.89" cy="137.87" r="2.7" fill="#3b3b3b"/>
<circle cx="212.78" cy="138.05" r="2.7" fill="#3b3b3b"/>
<circle cx="228.67" cy="138.87" r="2.7" fill="#3b3b3b"/>
<rect x="51.7" y="60.4" width="4.4" height="4.4" fill="#fff" stroke="#3b3b3b" stroke-width="1.2"/>
<rect x="51.2" y="62.6" width="5.4" height="2.7" fill="#3b3b3b"/>
<rect x="67.59" y="58.12" width="4.4" height="4.4" fill="#fff" stroke="#3b3b3b" stroke-width="1.2"/>
<rect x="67.09" y="60.32" width="5.4" height="2.7" fill="#3b3b3b"/>
<rect x="83.48" y="59.99" width="4.4" height="4.4" fill="#fff" stroke="#3b3b3b" stroke-width="1.2"/>
<rect x="82.98" y="62.19" width="5.4" height="2.7" fill="#3b3b3b"/>
<rect x="99.36" y="62.79" width="4.4" height="4.4" fill="#fff" stroke="#3b3b3b" stroke-width="1.2"/>
<rect x="98.86" y="64.99" width="5.4" height="2.7" fill="#3b3b3b"/>
<rect x="115.25" y="66.59" width="4.4" height="4.4" fill="#fff" stroke="#3b3b3b" stroke-width="1.2"/>
<rect x="114.75" y="68.79" width="5.4" height="2.7" fill="#3b3b3b"/>
<rect x="131.14" y="77.65" width="4.4" height="4.4" fill="#fff" stroke="#3b3b3b" stroke-width="1.2"/>
<rect x="130.64" y="79.85" width="5.4" height="2.7" fill="#3b3b3b"/>
<rect x="147.03" y="99.46" width="4.4" height="4.4" fill="#fff" stroke="#3b3b3b" stroke-width="1.2"/>
<rect x="146.53" y="101.66" width="5.4" height="2.7" fill="#3b3b3b"/>
<rect x="162.92" y="118.5" width="4.4" height="4.4" fill="#fff" stroke="#3b3b3b" stroke-width="1.2"/>
<rect x="162.42" y="120.7" width="5.4" height="2.7" fill="#3b3b3b"/>
<rect x="178.81" y="129.37" width="4.4" height="4.4" fill="#fff" stroke="#3b3b3b" stroke-width="1.2"/>
<rect x="178.31" y="131.57" width="5.4" height="2.7" fill="#3b3b3b"/>
<rect x="194.69" y="132.37" width="4.4" height="4.4" fill="#fff" stroke="#3b3b3b" stroke-width="1.2"/>
<rect x="194.19" y="134.57" width="5.4" height="2.7" fill="#3b3b3b"/>
<rect x="210.58" y="135.89" width="4.4" height="4.4" fill="#fff" stroke="#3b3b3b" stroke-width="1.2"/>
<rect x="210.08" y="138.09" width="5.4" height="2.7" fill="#3b3b3b"/>
<rect x="226.47" y="134.77" width="4.4" height="4.4" fill="#fff" stroke="#3b3b3b" stroke-width="1.2"/>
<rect x="225.97" y="136.97" width="5.4" height="2.7" fill="#3b3b3b"/>
<circle cx="53.9" cy="38.42" r="2.7" fill="#3b3b3b"/>
<circle cx="69.79" cy="40.63" r="2.7" fill="#3b3b3b"/>
<circle cx="85.68" cy="46.58" r="2.7" fill="#3b3b3b"/>
<circle cx="101.56" cy="53.69" r="2.7" fill="#3b3b3b"/>
<circle cx="117.45" cy="75.95" r="2.7" fill="#3b3b3b"/>
<circle cx="133.34" cy="103.92" r="2.7" fill="#3b3b3b"/>
<circle cx="149.23" cy="124.68" r="2.7" fill="#3b3b3b"/>
<circle cx="165.12" cy="131.76" r="2.7" fill="#3b3b3b"/>
<circle cx="181.01" cy="136.58" r="2.7" fill="#3b3b3b"/>
<circle cx="196.89" cy="136.91" r="2.7" fill="#3b3b3b"/>
<circle cx="212.78" cy="138.61" r="2.7" fill="#3b3b3b"/>
<circle cx="228.67" cy="137.19" r="2.7" fill="#3b3b3b"/>
<polygon points="53.9,30.38 56.06,32.54 53.9,34.7 51.74,32.54" fill="#3b3b3b"/>
<polygon points="69.79,31.18 71.95,33.34 69.79,35.5 67.63,33.34" fill="#3b3b3b"/>
<polygon points="85.68,33.26 87.84,35.42 85.68,37.58 83.52,35.42" fill="#3b3b3b"/>
<polygon points="101.56,42.88 103.72,45.04 101.56,47.2 99.4,45.04" fill="#3b3b3b"/>
<polygon points="117.45,63.46 119.61,65.62 117.45,67.78 115.29,65.62" fill="#3b3b3b"/>
<polygon points="133.34,89.12 135.5,91.28 133.34,93.44 131.18,91.28" fill="#3b3b3b"/>
<polygon points="149.23,113.99 151.39,116.15 149.23,118.31 147.07,116.15" fill="#3b3b3b"/>
<polygon points="165.12,125.6 167.28,127.76 165.12,129.92 162.96,127.76" fill="#3b3b3b"/>
<polygon points="181.01,131.77 183.17,133.93 181.01,136.09 178.85,133.93" fill="#3b3b3b"/>
<polygon points="196.89,134.76 199.05,136.92 196.89,139.08 194.73,136.92" fill="#3b3b3b"/>
<polygon points="212.78,135.96 214.94,138.12 212.78,140.28 210.62,138.12" fill="#3b3b3b"/>
<polygon points="228.67,136.85 230.83,139.01 228.67,141.17 226.51,139.01" fill="#3b3b3b"/>
<polygon points="53.9,26.46 56.87,29.7 53.9,32.94 50.93,29.7" fill="#3b3b3b"/>
<polygon points="69.79,28.59 72.76,31.83 69.79,35.07 66.82,31.83" fill="#3b3b3b"/>
<polygon points="85.68,26.67 88.65,29.91 85.68,33.15 82.71,29.91" fill="#3b3b3b"/>
<polygon points="101.56,26.72 104.53,29.96 101.56,33.2 98.59,29.96" fill="#3b3b3b"/>
<polygon points="117.45,30.55 120.42,33.79 117.45,37.03 114.48,33.79" fill="#3b3b3b"/>
<polygon points="133.34,48.31 136.31,51.55 133.34,54.79 130.37,51.55" fill="#3b3b3b"/>
<polygon points="149.23,93.47 152.2,96.71 149.23,99.95 146.26,96.71" fill="#3b3b3b"/>
<polygon points="165.12,125.24 168.09,128.48 165.12,131.72 162.15,128.48" fill="#3b3b3b"/>
<polygon points="181.01,132.95 183.98,136.19 181.01,139.43 178.04,136.19" fill="#3b3b3b"/>
<polygon points="196.89,134.49 199.86,137.73 196.89,140.97 193.92,137.73" fill="#3b3b3b"/>
<polygon points="212.78,134.97 215.75,138.21 212.78,141.45 209.81,138.21" fill="#3b3b3b"/>
<polygon points="228.67,135.07 231.64,138.31 228.67,141.55 225.7,138.31" fill="#3b3b3b"/>
<polygon points="53.9,26.58 56.87,29.82 53.9,33.06 50.93,29.82" fill="#2552b0"/>
<polygon points="69.79,26.22 72.76,29.46 69.79,32.7 66.82,29.46" fill="#2552b0"/>
<polygon points="85.68,28.58 88.65,31.82 85.68,35.06 82.71,31.82" fill="#2552b0"/>
<polygon points="101.56,35.6 104.53,38.84 101.56,42.08 98.59,38.84" fill="#2552b0"/>
<polygon points="117.45,54.54 120.42,57.78 117.45,61.02 114.48,57.78" fill="#2552b0"/>
<polygon points="133.34,87.23 136.31,90.47 133.34,93.71 130.37,90.47" fill="#2552b0"/>
<polygon points="149.23,117.39 152.2,120.63 149.23,123.87 146.26,120.63" fill="#2552b0"/>
<polygon points="165.12,130.35 168.09,133.59 165.12,136.83 162.15,133.59" fill="#2552b0"/>
<polygon points="181.01,134.95 183.98,138.19 181.01,141.43 178.04,138.19" fill="#2552b0"/>
<polygon points="196.89,135.11 199.86,138.35 196.89,141.59 193.92,138.35" fill="#2552b0"/>
<polygon points="212.78,135.38 215.75,138.62 212.78,141.86 209.81,138.62" fill="#2552b0"/>
<polygon points="228.67,136.26 231.64,139.5 228.67,142.74 225.7,139.5" fill="#2552b0"/>
<polygon points="53.9,28.17 56.87,31.41 53.9,34.65 50.93,31.41" fill="#a57d4a"/>
<polygon points="69.79,27.88 72.76,31.12 69.79,34.36 66.82,31.12" fill="#a57d4a"/>
<polygon points="85.68,26.35 88.65,29.59 85.68,32.83 82.71,29.59" fill="#a57d4a"/>
<polygon points="101.56,27.54 104.53,30.78 101.56,34.02 98.59,30.78" fill="#a57d4a"/>
<polygon points="117.45,32.03 120.42,35.27 117.45,38.51 114.48,35.27" fill="#a57d4a"/>
<polygon points="133.34,46.87 136.31,50.11 133.34,53.35 130.37,50.11" fill="#a57d4a"/>
<polygon points="149.23,82.8 152.2,86.04 149.23,89.28 146.26,86.04" fill="#a57d4a"/>
<polygon points="165.12,116.75 168.09,119.99 165.12,123.23 162.15,119.99" fill="#a57d4a"/>
<polygon points="181.01,128.63 183.98,131.87 181.01,135.11 178.04,131.87" fill="#a57d4a"/>
<polygon points="196.89,132.83 199.86,136.07 196.89,139.31 193.92,136.07" fill="#a57d4a"/>
<polygon points="212.78,132.01 215.75,135.25 212.78,138.49 209.81,135.25" fill="#a57d4a"/>
<polygon points="228.67,132.61 231.64,135.85 228.67,139.09 225.7,135.85" fill="#a57d4a"/>
<rect x="51.7" y="26.91" width="4.4" height="4.4" fill="#fff" stroke="#9c44b8" stroke-width="1.2"/>
<rect x="67.59" y="25.97" width="4.4" height="4.4" fill="#fff" stroke="#9c44b8" stroke-width="1.2"/>
<rect x="83.48" y="27.45" width="4.4" height="4.4" fill="#fff" stroke="#9c44b8" stroke-width="1.2"/>
<rect x="99.36" y="26.82" width="4.4" height="4.4" fill="#fff" stroke="#9c44b8" stroke-width="1.2"/>
<rect x="115.25" y="29.54" width="4.4" height="4.4" fill="#fff" stroke="#9c44b8" stroke-width="1.2"/>
<rect x="131.14" y="36.59" width="4.4" height="4.4" fill="#fff" stroke="#9c44b8" stroke-width="1.2"/>
<rect x="147.03" y="60.8" width="4.4" height="4.4" fill="#fff" stroke="#9c44b8" stroke-width="1.2"/>
<rect x="162.92" y="103.25" width="4.4" height="4.4" fill="#fff" stroke="#9c44b8" stroke-width="1.2"/>
<rect x="178.81" y="124.63" width="4.4" height="4.4" fill="#fff" stroke="#9c44b8" stroke-width="1.2"/>
<rect x="194.69" y="130.86" width="4.4" height="4.4" fill="#fff" stroke="#9c44b8" stroke-width="1.2"/>
<rect x="210.58" y="131.63" width="4.4" height="4.4" fill="#fff" stroke="#9c44b8" stroke-width="1.2"/>
<rect x="226.47" y="132.76" width="4.4" height="4.4" fill="#fff" stroke="#9c44b8" stroke-width="1.2"/>
<polygon points="53.9,26.28 56.87,31.68 50.93,31.68" fill="#e8545e"/>
<polygon points="69.79,26.38 72.76,31.78 66.82,31.78" fill="#e8545e"/>
<polygon points="85.68,25.32 88.65,30.72 82.71,30.72" fill="#e8545e"/>
<polygon points="101.56,25.94 104.53,31.34 98.59,31.34" fill="#e8545e"/>
<polygon points="117.45,25.76 120.42,31.16 114.48,31.16" fill="#e8545e"/>
<polygon points="133.34,27.76 136.31,33.16 130.37,33.16" fill="#e8545e"/>
<polygon points="149.23,35.98 152.2,41.38 146.26,41.38" fill="#e8545e"/>
<polygon points="165.12,55.17 168.09,60.57 162.15,60.57" fill="#e8545e"/>
<polygon points="181.01,90.79 183.98,96.19 178.04,96.19" fill="#e8545e"/>
<polygon points="196.89,118.47 199.86,123.87 193.92,123.87" fill="#e8545e"/>
<polygon points="212.78,129.6 215.75,135 209.81,135" fill="#e8545e"/>
<polygon points="228.67,131.38 231.64,136.78 225.7,136.78" fill="#e8545e"/>
<rect x="51.2" y="24.25" width="5.4" height="5.4" fill="#5db843"/>
<rect x="67.09" y="24.18" width="5.4" height="5.4" fill="#5db843"/>
<rect x="82.98" y="25.13" width="5.4" height="5.4" fill="#5db843"/>
<rect x="98.86" y="24.7" width="5.4" height="5.4" fill="#5db843"/>
<rect x="114.75" y="24.78" width="5.4" height="5.4" fill="#5db843"/>
<rect x="130.64" y="27.26" width="5.4" height="5.4" fill="#5db843"/>
<rect x="146.53" y="33.84" width="5.4" height="5.4" fill="#5db843"/>
<rect x="162.42" y="56.74" width="5.4" height="5.4" fill="#5db843"/>
<rect x="178.31" y="95.4" width="5.4" height="5.4" fill="#5db843"/>
<rect x="194.19" y="121.83" width="5.4" height="5.4" fill="#5db843"/>
<rect x="210.08" y="129.86" width="5.4" height="5.4" fill="#5db843"/>
<rect x="225.97" y="132.82" width="5.4" height="5.4" fill="#5db843"/>
<polygon points="53.9,25.17 56.87,30.57 50.93,30.57" fill="#f2a33a"/>
<polygon points="69.79,26.05 72.76,31.45 66.82,31.45" fill="#f2a33a"/>
<polygon points="85.68,26.4 88.65,31.8 82.71,31.8" fill="#f2a33a"/>
<polygon points="101.56,25.47 104.53,30.87 98.59,30.87" fill="#f2a33a"/>
<polygon points="117.45,25.55 120.42,30.95 114.48,30.95" fill="#f2a33a"/>
<polygon points="133.34,27.76 136.31,33.16 130.37,33.16" fill="#f2a33a"/>
<polygon points="149.23,29.34 152.2,34.74 146.26,34.74" fill="#f2a33a"/>
<polygon points="165.12,41.3 168.09,46.7 162.15,46.7" fill="#f2a33a"/>
<polygon points="181.01,70.36 183.98,75.76 178.04,75.76" fill="#f2a33a"/>
<polygon points="196.89,105.16 199.86,110.56 193.92,110.56" fill="#f2a33a"/>
<polygon points="212.78,125.33 215.75,130.73 209.81,130.73" fill="#f2a33a"/>
<polygon points="228.67,130.43 231.64,135.83 225.7,135.83" fill="#f2a33a"/>
<line x1="47.3" y1="12.6" x2="47.3" y2="140.3" stroke="#000" stroke-width="1.5"/>
<line x1="46.6" y1="139.5" x2="235.5" y2="139.5" stroke="#000" stroke-width="1.5"/>
<line x1="44.3" y1="139.5" x2="47.3" y2="139.5" stroke="#000" stroke-width="1.0"/>
<text x="43" y="143" font-size="8.4" text-anchor="end" fill="#1a1a1a" stroke="#1a1a1a" font-weight="normal" >0.0</text>
<line x1="45.7" y1="131.61" x2="47.3" y2="131.61" stroke="#000" stroke-width="1.0"/>
<line x1="44.3" y1="123.72" x2="47.3" y2="123.72" stroke="#000" stroke-width="1.0"/>
<text x="43" y="127.22" font-size="8.4" text-anchor="end" fill="#1a1a1a" stroke="#1a1a1a" font-weight="normal" >0.5</text>
<line x1="45.7" y1="115.84" x2="47.3" y2="115.84" stroke="#000" stroke-width="1.0"/>
<line x1="44.3" y1="107.95" x2="47.3" y2="107.95" stroke="#000" stroke-width="1.0"/>
<text x="43" y="111.45" font-size="8.4" text-anchor="end" fill="#1a1a1a" stroke="#1a1a1a" font-weight="normal" >1.0</text>
<line x1="45.7" y1="100.06" x2="47.3" y2="100.06" stroke="#000" stroke-width="1.0"/>
<line x1="44.3" y1="92.17" x2="47.3" y2="92.17" stroke="#000" stroke-width="1.0"/>
<text x="43" y="95.67" font-size="8.4" text-anchor="end" fill="#1a1a1a" stroke="#1a1a1a" font-weight="normal" >1.5</text>
<line x1="45.7" y1="84.29" x2="47.3" y2="84.29" stroke="#000" stroke-width="1.0"/>
<line x1="44.3" y1="76.4" x2="47.3" y2="76.4" stroke="#000" stroke-width="1.0"/>
<text x="43" y="79.9" font-size="8.4" text-anchor="end" fill="#1a1a1a" stroke="#1a1a1a" font-weight="normal" >2.0</text>
<line x1="45.7" y1="68.51" x2="47.3" y2="68.51" stroke="#000" stroke-width="1.0"/>
<line x1="44.3" y1="60.62" x2="47.3" y2="60.62" stroke="#000" stroke-width="1.0"/>
<text x="43" y="64.12" font-size="8.4" text-anchor="end" fill="#1a1a1a" stroke="#1a1a1a" font-weight="normal" >2.5</text>
<line x1="45.7" y1="52.74" x2="47.3" y2="52.74" stroke="#000" stroke-width="1.0"/>
<line x1="44.3" y1="44.85" x2="47.3" y2="44.85" stroke="#000" stroke-width="1.0"/>
<text x="43" y="48.35" font-size="8.4" text-anchor="end" fill="#1a1a1a" stroke="#1a1a1a" font-weight="normal" >3.0</text>
<line x1="45.7" y1="36.96" x2="47.3" y2="36.96" stroke="#000" stroke-width="1.0"/>
<line x1="44.3" y1="29.08" x2="47.3" y2="29.08" stroke="#000" stroke-width="1.0"/>
<text x="43" y="32.58" font-size="8.4" text-anchor="end" fill="#1a1a1a" stroke="#1a1a1a" font-weight="normal" >3.5</text>
<line x1="45.7" y1="21.19" x2="47.3" y2="21.19" stroke="#000" stroke-width="1.0"/>
<line x1="44.3" y1="13.3" x2="47.3" y2="13.3" stroke="#000" stroke-width="1.0"/>
<text x="43" y="16.8" font-size="8.4" text-anchor="end" fill="#1a1a1a" stroke="#1a1a1a" font-weight="normal" >4.0</text>
<line x1="53.9" y1="139.5" x2="53.9" y2="142.5" stroke="#000" stroke-width="1.0"/>
<text x="53.9" y="150.8" font-size="8.3" text-anchor="middle" fill="#222" stroke="#222" font-weight="normal" >10</text>
<line x1="87.2" y1="139.5" x2="87.2" y2="142.5" stroke="#000" stroke-width="1.0"/>
<text x="87.2" y="150.8" font-size="8.3" text-anchor="middle" fill="#222" stroke="#222" font-weight="normal" >1</text>
<line x1="120.5" y1="139.5" x2="120.5" y2="142.5" stroke="#000" stroke-width="1.0"/>
<text x="120.5" y="150.8" font-size="8.3" text-anchor="middle" fill="#222" stroke="#222" font-weight="normal" >0.1</text>
<line x1="153.8" y1="139.5" x2="153.8" y2="142.5" stroke="#000" stroke-width="1.0"/>
<text x="153.8" y="150.8" font-size="8.3" text-anchor="middle" fill="#222" stroke="#222" font-weight="normal" >0.01</text>
<line x1="187.1" y1="139.5" x2="187.1" y2="142.5" stroke="#000" stroke-width="1.0"/>
<text x="187.1" y="150.8" font-size="8.3" text-anchor="middle" fill="#222" stroke="#222" font-weight="normal" >0.001</text>
<line x1="220.4" y1="139.5" x2="220.4" y2="142.5" stroke="#000" stroke-width="1.0"/>
<text x="220.4" y="150.8" font-size="8.3" text-anchor="middle" fill="#222" stroke="#222" font-weight="normal" >0.0001</text>
<line x1="77.18" y1="139.5" x2="77.18" y2="141.3" stroke="#000" stroke-width="0.8"/>
<line x1="71.31" y1="139.5" x2="71.31" y2="141.3" stroke="#000" stroke-width="0.8"/>
<line x1="67.15" y1="139.5" x2="67.15" y2="141.3" stroke="#000" stroke-width="0.8"/>
<line x1="63.92" y1="139.5" x2="63.92" y2="141.3" stroke="#000" stroke-width="0.8"/>
<line x1="61.29" y1="139.5" x2="61.29" y2="141.3" stroke="#000" stroke-width="0.8"/>
<line x1="59.06" y1="139.5" x2="59.06" y2="141.3" stroke="#000" stroke-width="0.8"/>
<line x1="57.13" y1="139.5" x2="57.13" y2="141.3" stroke="#000" stroke-width="0.8"/>
<line x1="55.42" y1="139.5" x2="55.42" y2="141.3" stroke="#000" stroke-width="0.8"/>
<line x1="110.48" y1="139.5" x2="110.48" y2="141.3" stroke="#000" stroke-width="0.8"/>
<line x1="104.61" y1="139.5" x2="104.61" y2="141.3" stroke="#000" stroke-width="0.8"/>
<line x1="100.45" y1="139.5" x2="100.45" y2="141.3" stroke="#000" stroke-width="0.8"/>
<line x1="97.22" y1="139.5" x2="97.22" y2="141.3" stroke="#000" stroke-width="0.8"/>
<line x1="94.59" y1="139.5" x2="94.59" y2="141.3" stroke="#000" stroke-width="0.8"/>
<line x1="92.36" y1="139.5" x2="92.36" y2="141.3" stroke="#000" stroke-width="0.8"/>
<line x1="90.43" y1="139.5" x2="90.43" y2="141.3" stroke="#000" stroke-width="0.8"/>
<line x1="88.72" y1="139.5" x2="88.72" y2="141.3" stroke="#000" stroke-width="0.8"/>
<line x1="143.78" y1="139.5" x2="143.78" y2="141.3" stroke="#000" stroke-width="0.8"/>
<line x1="137.91" y1="139.5" x2="137.91" y2="141.3" stroke="#000" stroke-width="0.8"/>
<line x1="133.75" y1="139.5" x2="133.75" y2="141.3" stroke="#000" stroke-width="0.8"/>
<line x1="130.52" y1="139.5" x2="130.52" y2="141.3" stroke="#000" stroke-width="0.8"/>
<line x1="127.89" y1="139.5" x2="127.89" y2="141.3" stroke="#000" stroke-width="0.8"/>
<line x1="125.66" y1="139.5" x2="125.66" y2="141.3" stroke="#000" stroke-width="0.8"/>
<line x1="123.73" y1="139.5" x2="123.73" y2="141.3" stroke="#000" stroke-width="0.8"/>
<line x1="122.02" y1="139.5" x2="122.02" y2="141.3" stroke="#000" stroke-width="0.8"/>
<line x1="177.08" y1="139.5" x2="177.08" y2="141.3" stroke="#000" stroke-width="0.8"/>
<line x1="171.21" y1="139.5" x2="171.21" y2="141.3" stroke="#000" stroke-width="0.8"/>
<line x1="167.05" y1="139.5" x2="167.05" y2="141.3" stroke="#000" stroke-width="0.8"/>
<line x1="163.82" y1="139.5" x2="163.82" y2="141.3" stroke="#000" stroke-width="0.8"/>
<line x1="161.19" y1="139.5" x2="161.19" y2="141.3" stroke="#000" stroke-width="0.8"/>
<line x1="158.96" y1="139.5" x2="158.96" y2="141.3" stroke="#000" stroke-width="0.8"/>
<line x1="157.03" y1="139.5" x2="157.03" y2="141.3" stroke="#000" stroke-width="0.8"/>
<line x1="155.32" y1="139.5" x2="155.32" y2="141.3" stroke="#000" stroke-width="0.8"/>
<line x1="210.38" y1="139.5" x2="210.38" y2="141.3" stroke="#000" stroke-width="0.8"/>
<line x1="204.51" y1="139.5" x2="204.51" y2="141.3" stroke="#000" stroke-width="0.8"/>
<line x1="200.35" y1="139.5" x2="200.35" y2="141.3" stroke="#000" stroke-width="0.8"/>
<line x1="197.12" y1="139.5" x2="197.12" y2="141.3" stroke="#000" stroke-width="0.8"/>
<line x1="194.49" y1="139.5" x2="194.49" y2="141.3" stroke="#000" stroke-width="0.8"/>
<line x1="192.26" y1="139.5" x2="192.26" y2="141.3" stroke="#000" stroke-width="0.8"/>
<line x1="190.33" y1="139.5" x2="190.33" y2="141.3" stroke="#000" stroke-width="0.8"/>
<line x1="188.62" y1="139.5" x2="188.62" y2="141.3" stroke="#000" stroke-width="0.8"/>
<line x1="233.65" y1="139.5" x2="233.65" y2="141.3" stroke="#000" stroke-width="0.8"/>
<line x1="230.42" y1="139.5" x2="230.42" y2="141.3" stroke="#000" stroke-width="0.8"/>
<line x1="227.79" y1="139.5" x2="227.79" y2="141.3" stroke="#000" stroke-width="0.8"/>
<line x1="225.56" y1="139.5" x2="225.56" y2="141.3" stroke="#000" stroke-width="0.8"/>
<line x1="223.63" y1="139.5" x2="223.63" y2="141.3" stroke="#000" stroke-width="0.8"/>
<line x1="221.92" y1="139.5" x2="221.92" y2="141.3" stroke="#000" stroke-width="0.8"/>
<text x="128.6" y="11.6" font-size="11.2" text-anchor="middle" fill="#111" stroke="#111" font-weight="normal" >SARS-CoV-2 S-ECD</text>
<text x="23.9" y="72.6" font-size="8.3" text-anchor="middle" fill="#222" stroke="#222" font-weight="normal" transform="rotate(-90 23.9 72.6)">OD450nm</text>
<text x="131.8" y="163.8" font-size="8.3" text-anchor="middle" fill="#222" stroke="#222" font-weight="normal" >concentration of antibody(μg/ml)</text>
<polyline points="278.4,138.41 280.6,138.41 282.8,138.41 284.99,138.41 287.19,138.41 289.39,138.41 291.59,138.42 293.78,138.42 295.98,138.42 298.18,138.42 300.38,138.43 302.58,138.43 304.77,138.44 306.97,138.44 309.17,138.45 311.37,138.46 313.56,138.46 315.76,138.47 317.96,138.48 320.16,138.5 322.35,138.51 324.55,138.52 326.75,138.54 328.95,138.56 331.15,138.57 333.34,138.59 335.54,138.61 337.74,138.64 339.94,138.66 342.13,138.68 344.33,138.71 346.53,138.73 348.73,138.75 350.93,138.78 353.12,138.8 355.32,138.82 357.52,138.84 359.72,138.86 361.91,138.88 364.11,138.9 366.31,138.91 368.51,138.93 370.71,138.94 372.9,138.95 375.1,138.96 377.3,138.97 379.5,138.98 381.69,138.99 383.89,138.99 386.09,139 388.29,139 390.48,139.01 392.68,139.01 394.88,139.01 397.08,139.02 399.28,139.02 401.47,139.02 403.67,139.02 405.87,139.02 408.07,139.03 410.26,139.03 412.46,139.03 414.66,139.03 416.86,139.03 419.06,139.03 421.25,139.03 423.45,139.03 425.65,139.03 427.85,139.03 430.04,139.03 432.24,139.03 434.44,139.03 436.64,139.03 438.84,139.03 441.03,139.03 443.23,139.03 445.43,139.03 447.63,139.03 449.82,139.03 452.02,139.03 454.22,139.03" fill="none" stroke="#3b3b3b" stroke-width="1.5" stroke-linejoin="round" />
<polyline points="278.4,138.72 280.6,138.72 282.8,138.73 284.99,138.73 287.19,138.73 289.39,138.73 291.59,138.73 293.78,138.74 295.98,138.74 298.18,138.74 300.38,138.74 302.58,138.75 304.77,138.75 306.97,138.76 309.17,138.77 311.37,138.77 313.56,138.78 315.76,138.79 317.96,138.8 320.16,138.81 322.35,138.83 324.55,138.84 326.75,138.86 328.95,138.87 331.15,138.89 333.34,138.91 335.54,138.93 337.74,138.95 339.94,138.98 342.13,139 344.33,139.02 346.53,139.05 348.73,139.07 350.93,139.09 353.12,139.12 355.32,139.14 357.52,139.16 359.72,139.18 361.91,139.2 364.11,139.21 366.31,139.23 368.51,139.24 370.71,139.26 372.9,139.27 375.1,139.28 377.3,139.29 379.5,139.3 381.69,139.3 383.89,139.31 386.09,139.31 388.29,139.32 390.48,139.32 392.68,139.33 394.88,139.33 397.08,139.33 399.28,139.34 401.47,139.34 403.67,139.34 405.87,139.34 408.07,139.34 410.26,139.34 412.46,139.34 414.66,139.35 416.86,139.35 419.06,139.35 421.25,139.35 423.45,139.35 425.65,139.35 427.85,139.35 430.04,139.35 432.24,139.35 434.44,139.35 436.64,139.35 438.84,139.35 441.03,139.35 443.23,139.35 445.43,139.35 447.63,139.35 449.82,139.35 452.02,139.35 454.22,139.35" fill="none" stroke="#3b3b3b" stroke-width="1.5" stroke-linejoin="round" />
<polyline points="278.4,137.46 280.6,137.46 282.8,137.46 284.99,137.47 287.19,137.47 289.39,137.47 291.59,137.47 293.78,137.48 295.98,137.48 298.18,137.49 300.38,137.49 302.58,137.5 304.77,137.51 306.97,137.51 309.17,137.52 311.37,137.53 313.56,137.55 315.76,137.56 317.96,137.58 320.16,137.59 322.35,137.61 324.55,137.63 326.75,137.66 328.95,137.68 331.15,137.71 333.34,137.74 335.54,137.77 337.74,137.8 339.94,137.84 342.13,137.87 344.33,137.91 346.53,137.94 348.73,137.98 350.93,138.02 353.12,138.05 355.32,138.08 357.52,138.11 359.72,138.14 361.91,138.17 364.11,138.2 366.31,138.22 368.51,138.24 370.71,138.26 372.9,138.28 375.1,138.29 377.3,138.31 379.5,138.32 381.69,138.33 383.89,138.34 386.09,138.35 388.29,138.35 390.48,138.36 392.68,138.37 394.88,138.37 397.08,138.37 399.28,138.38 401.47,138.38 403.67,138.38 405.87,138.39 408.07,138.39 410.26,138.39 412.46,138.39 414.66,138.39 416.86,138.39 419.06,138.4 421.25,138.4 423.45,138.4 425.65,138.4 427.85,138.4 430.04,138.4 432.24,138.4 434.44,138.4 436.64,138.4 438.84,138.4 441.03,138.4 443.23,138.4 445.43,138.4 447.63,138.4 449.82,138.4 452.02,138.4 454.22,138.4" fill="none" stroke="#3b3b3b" stroke-width="1.5" stroke-linejoin="round" />
<polyline points="278.4,136.21 280.6,136.21 282.8,136.22 284.99,136.22 287.19,136.23 289.39,136.23 291.59,136.24 293.78,136.25 295.98,136.26 298.18,136.27 300.38,136.28 302.58,136.3 304.77,136.31 306.97,136.33 309.17,136.36 311.37,136.38 313.56,136.41 315.76,136.44 317.96,136.48 320.16,136.52 322.35,136.56 324.55,136.61 326.75,136.67 328.95,136.73 331.15,136.79 333.34,136.86 335.54,136.93 337.74,137.01 339.94,137.09 342.13,137.17 344.33,137.25 346.53,137.34 348.73,137.42 350.93,137.5 353.12,137.58 355.32,137.66 357.52,137.73 359.72,137.8 361.91,137.86 364.11,137.92 366.31,137.98 368.51,138.03 370.71,138.07 372.9,138.11 375.1,138.15 377.3,138.18 379.5,138.21 381.69,138.23 383.89,138.25 386.09,138.27 388.29,138.29 390.48,138.31 392.68,138.32 394.88,138.33 397.08,138.34 399.28,138.35 401.47,138.36 403.67,138.36 405.87,138.37 408.07,138.37 410.26,138.38 412.46,138.38 414.66,138.38 416.86,138.38 419.06,138.39 421.25,138.39 423.45,138.39 425.65,138.39 427.85,138.39 430.04,138.39 432.24,138.4 434.44,138.4 436.64,138.4 438.84,138.4 441.03,138.4 443.23,138.4 445.43,138.4 447.63,138.4 449.82,138.4 452.02,138.4 454.22,138.4" fill="none" stroke="#3b3b3b" stroke-width="1.5" stroke-linejoin="round" />
<polyline points="278.4,123.09 280.6,123.57 282.8,124.09 284.99,124.65 287.19,125.24 289.39,125.86 291.59,126.51 293.78,127.18 295.98,127.88 298.18,128.58 300.38,129.29 302.58,130 304.77,130.7 306.97,131.39 309.17,132.06 311.37,132.7 313.56,133.32 315.76,133.9 317.96,134.45 320.16,134.96 322.35,135.44 324.55,135.88 326.75,136.28 328.95,136.65 331.15,136.99 333.34,137.29 335.54,137.56 337.74,137.8 339.94,138.02 342.13,138.22 344.33,138.39 346.53,138.54 348.73,138.68 350.93,138.8 353.12,138.91 355.32,139 357.52,139.08 359.72,139.15 361.91,139.22 364.11,139.27 366.31,139.32 368.51,139.37 370.71,139.4 372.9,139.44 375.1,139.47 377.3,139.49 379.5,139.51 381.69,139.53 383.89,139.55 386.09,139.56 388.29,139.58 390.48,139.59 392.68,139.6 394.88,139.61 397.08,139.62 399.28,139.62 401.47,139.63 403.67,139.63 405.87,139.64 408.07,139.64 410.26,139.64 412.46,139.65 414.66,139.65 416.86,139.65 419.06,139.65 421.25,139.66 423.45,139.66 425.65,139.66 427.85,139.66 430.04,139.66 432.24,139.66 434.44,139.66 436.64,139.66 438.84,139.66 441.03,139.66 443.23,139.66 445.43,139.66 447.63,139.66 449.82,139.67 452.02,139.67 454.22,139.67" fill="none" stroke="#2552b0" stroke-width="1.5" stroke-linejoin="round" />
<polyline points="278.4,106.07 280.6,107.55 282.8,109.11 284.99,110.74 287.19,112.43 289.39,114.16 291.59,115.92 293.78,117.67 295.98,119.41 298.18,121.11 300.38,122.75 302.58,124.33 304.77,125.82 306.97,127.22 309.17,128.53 311.37,129.73 313.56,130.83 315.76,131.84 317.96,132.74 320.16,133.55 322.35,134.28 324.55,134.92 326.75,135.49 328.95,135.99 331.15,136.43 333.34,136.82 335.54,137.16 337.74,137.45 339.94,137.71 342.13,137.93 344.33,138.13 346.53,138.29 348.73,138.44 350.93,138.56 353.12,138.67 355.32,138.77 357.52,138.85 359.72,138.92 361.91,138.98 364.11,139.03 366.31,139.07 368.51,139.11 370.71,139.15 372.9,139.17 375.1,139.2 377.3,139.22 379.5,139.24 381.69,139.25 383.89,139.27 386.09,139.28 388.29,139.29 390.48,139.3 392.68,139.31 394.88,139.31 397.08,139.32 399.28,139.32 401.47,139.33 403.67,139.33 405.87,139.33 408.07,139.33 410.26,139.34 412.46,139.34 414.66,139.34 416.86,139.34 419.06,139.34 421.25,139.34 423.45,139.35 425.65,139.35 427.85,139.35 430.04,139.35 432.24,139.35 434.44,139.35 436.64,139.35 438.84,139.35 441.03,139.35 443.23,139.35 445.43,139.35 447.63,139.35 449.82,139.35 452.02,139.35 454.22,139.35" fill="none" stroke="#3b3b3b" stroke-width="1.5" stroke-linejoin="round" />
<polyline points="278.4,57.41 280.6,58.02 282.8,58.71 284.99,59.48 287.19,60.36 289.39,61.36 291.59,62.47 293.78,63.72 295.98,65.11 298.18,66.65 300.38,68.35 302.58,70.22 304.77,72.25 306.97,74.45 309.17,76.82 311.37,79.35 313.56,82.02 315.76,84.82 317.96,87.72 320.16,90.71 322.35,93.75 324.55,96.82 326.75,99.87 328.95,102.89 331.15,105.83 333.34,108.69 335.54,111.42 337.74,114.01 339.94,116.45 342.13,118.73 344.33,120.85 346.53,122.79 348.73,124.57 350.93,126.18 353.12,127.64 355.32,128.95 357.52,130.13 359.72,131.17 361.91,132.1 364.11,132.93 366.31,133.66 368.51,134.3 370.71,134.86 372.9,135.36 375.1,135.79 377.3,136.17 379.5,136.5 381.69,136.79 383.89,137.04 386.09,137.26 388.29,137.46 390.48,137.62 392.68,137.77 394.88,137.89 397.08,138 399.28,138.1 401.47,138.18 403.67,138.25 405.87,138.31 408.07,138.37 410.26,138.41 412.46,138.45 414.66,138.49 416.86,138.52 419.06,138.55 421.25,138.57 423.45,138.59 425.65,138.61 427.85,138.62 430.04,138.63 432.24,138.64 434.44,138.65 436.64,138.66 438.84,138.67 441.03,138.68 443.23,138.68 445.43,138.69 447.63,138.69 449.82,138.69 452.02,138.7 454.22,138.7" fill="none" stroke="#3b3b3b" stroke-width="1.5" stroke-linejoin="round" />
<polyline points="278.4,47.12 280.6,47.31 282.8,47.52 284.99,47.76 287.19,48.02 289.39,48.31 291.59,48.63 293.78,48.98 295.98,49.36 298.18,49.79 300.38,50.26 302.58,50.77 304.77,51.34 306.97,51.96 309.17,52.64 311.37,53.38 313.56,54.2 315.76,55.08 317.96,56.04 320.16,57.08 322.35,58.21 324.55,59.43 326.75,60.74 328.95,62.15 331.15,63.66 333.34,65.26 335.54,66.97 337.74,68.77 339.94,70.68 342.13,72.68 344.33,74.76 346.53,76.93 348.73,79.18 350.93,81.49 353.12,83.86 355.32,86.27 357.52,88.72 359.72,91.18 361.91,93.65 364.11,96.11 366.31,98.54 368.51,100.94 370.71,103.3 372.9,105.59 375.1,107.81 377.3,109.96 379.5,112.02 381.69,113.99 383.89,115.86 386.09,117.64 388.29,119.31 390.48,120.89 392.68,122.37 394.88,123.74 397.08,125.02 399.28,126.21 401.47,127.32 403.67,128.33 405.87,129.27 408.07,130.13 410.26,130.92 412.46,131.64 414.66,132.3 416.86,132.91 419.06,133.46 421.25,133.96 423.45,134.41 425.65,134.83 427.85,135.2 430.04,135.54 432.24,135.85 434.44,136.13 436.64,136.39 438.84,136.61 441.03,136.82 443.23,137.01 445.43,137.18 447.63,137.33 449.82,137.47 452.02,137.59 454.22,137.7" fill="none" stroke="#3a3a3a" stroke-width="1.5" stroke-linejoin="round" />
<polyline points="278.4,45.74 280.6,45.79 282.8,45.84 284.99,45.91 287.19,45.98 289.39,46.06 291.59,46.15 293.78,46.25 295.98,46.36 298.18,46.49 300.38,46.63 302.58,46.8 304.77,46.98 306.97,47.18 309.17,47.41 311.37,47.67 313.56,47.96 315.76,48.29 317.96,48.65 320.16,49.06 322.35,49.51 324.55,50.02 326.75,50.59 328.95,51.22 331.15,51.92 333.34,52.69 335.54,53.55 337.74,54.5 339.94,55.55 342.13,56.7 344.33,57.96 346.53,59.33 348.73,60.83 350.93,62.45 353.12,64.19 355.32,66.07 357.52,68.08 359.72,70.21 361.91,72.47 364.11,74.84 366.31,77.32 368.51,79.89 370.71,82.54 372.9,85.26 375.1,88.02 377.3,90.8 379.5,93.59 381.69,96.37 383.89,99.11 386.09,101.8 388.29,104.41 390.48,106.94 392.68,109.37 394.88,111.69 397.08,113.9 399.28,115.97 401.47,117.92 403.67,119.74 405.87,121.43 408.07,122.99 410.26,124.43 412.46,125.75 414.66,126.96 416.86,128.06 419.06,129.06 421.25,129.97 423.45,130.79 425.65,131.53 427.85,132.2 430.04,132.8 432.24,133.34 434.44,133.82 436.64,134.25 438.84,134.64 441.03,134.98 443.23,135.29 445.43,135.57 447.63,135.81 449.82,136.03 452.02,136.23 454.22,136.4" fill="none" stroke="#f2a33a" stroke-width="1.5" stroke-linejoin="round" />
<polyline points="278.4,33.44 280.6,33.46 282.8,33.49 284.99,33.53 287.19,33.57 289.39,33.63 291.59,33.7 293.78,33.78 295.98,33.88 298.18,34.01 300.38,34.16 302.58,34.34 304.77,34.57 306.97,34.84 309.17,35.17 311.37,35.57 313.56,36.06 315.76,36.65 317.96,37.36 320.16,38.22 322.35,39.25 324.55,40.48 326.75,41.94 328.95,43.66 331.15,45.69 333.34,48.06 335.54,50.79 337.74,53.91 339.94,57.43 342.13,61.35 344.33,65.66 346.53,70.31 348.73,75.23 350.93,80.36 353.12,85.59 355.32,90.82 357.52,95.94 359.72,100.86 361.91,105.51 364.11,109.81 366.31,113.72 368.51,117.24 370.71,120.35 372.9,123.08 375.1,125.44 377.3,127.46 379.5,129.18 381.69,130.64 383.89,131.86 386.09,132.89 388.29,133.74 390.48,134.45 392.68,135.04 394.88,135.52 397.08,135.93 399.28,136.26 401.47,136.53 403.67,136.75 405.87,136.94 408.07,137.09 410.26,137.21 412.46,137.31 414.66,137.39 416.86,137.46 419.06,137.52 421.25,137.56 423.45,137.6 425.65,137.63 427.85,137.66 430.04,137.68 432.24,137.69 434.44,137.71 436.64,137.72 438.84,137.73 441.03,137.73 443.23,137.74 445.43,137.75 447.63,137.75 449.82,137.75 452.02,137.76 454.22,137.76" fill="none" stroke="#9c44b8" stroke-width="1.5" stroke-linejoin="round" />
<polyline points="278.4,33.46 280.6,33.48 282.8,33.5 284.99,33.52 287.19,33.55 289.39,33.58 291.59,33.61 293.78,33.65 295.98,33.7 298.18,33.75 300.38,33.81 302.58,33.87 304.77,33.95 306.97,34.03 309.17,34.13 311.37,34.24 313.56,34.36 315.76,34.5 317.96,34.66 320.16,34.84 322.35,35.05 324.55,35.28 326.75,35.54 328.95,35.84 331.15,36.18 333.34,36.55 335.54,36.98 337.74,37.46 339.94,38 342.13,38.61 344.33,39.3 346.53,40.06 348.73,40.92 350.93,41.87 353.12,42.94 355.32,44.12 357.52,45.43 359.72,46.87 361.91,48.46 364.11,50.19 366.31,52.09 368.51,54.15 370.71,56.37 372.9,58.76 375.1,61.31 377.3,64.02 379.5,66.88 381.69,69.86 383.89,72.97 386.09,76.17 388.29,79.45 390.48,82.78 392.68,86.13 394.88,89.47 397.08,92.79 399.28,96.04 401.47,99.21 403.67,102.28 405.87,105.23 408.07,108.03 410.26,110.68 412.46,113.18 414.66,115.51 416.86,117.68 419.06,119.68 421.25,121.52 423.45,123.2 425.65,124.74 427.85,126.14 430.04,127.4 432.24,128.54 434.44,129.56 436.64,130.48 438.84,131.31 441.03,132.04 443.23,132.7 445.43,133.28 447.63,133.8 449.82,134.26 452.02,134.67 454.22,135.04" fill="none" stroke="#e8545e" stroke-width="1.5" stroke-linejoin="round" />
<polyline points="278.4,29.53 280.6,29.53 282.8,29.53 284.99,29.53 287.19,29.53 289.39,29.54 291.59,29.54 293.78,29.54 295.98,29.55 298.18,29.55 300.38,29.56 302.58,29.56 304.77,29.57 306.97,29.58 309.17,29.59 311.37,29.61 313.56,29.63 315.76,29.65 317.96,29.67 320.16,29.71 322.35,29.75 324.55,29.79 326.75,29.85 328.95,29.92 331.15,30.01 333.34,30.11 335.54,30.24 337.74,30.39 339.94,30.58 342.13,30.8 344.33,31.07 346.53,31.4 348.73,31.8 350.93,32.29 353.12,32.87 355.32,33.56 357.52,34.4 359.72,35.4 361.91,36.59 364.11,38 366.31,39.67 368.51,41.62 370.71,43.9 372.9,46.53 375.1,49.53 377.3,52.92 379.5,56.72 381.69,60.9 383.89,65.44 386.09,70.28 388.29,75.35 390.48,80.58 392.68,85.86 394.88,91.09 397.08,96.17 399.28,101.03 401.47,105.58 403.67,109.77 405.87,113.58 408.07,117 410.26,120.02 412.46,122.66 414.66,124.95 416.86,126.91 419.06,128.59 421.25,130.01 423.45,131.21 425.65,132.22 427.85,133.06 430.04,133.77 432.24,134.35 434.44,134.84 436.64,135.24 438.84,135.57 441.03,135.85 443.23,136.08 445.43,136.26 447.63,136.42 449.82,136.54 452.02,136.65 454.22,136.74" fill="none" stroke="#5db843" stroke-width="1.5" stroke-linejoin="round" />
<rect x="275.7" y="135.42" width="5.4" height="5.4" fill="#3b3b3b"/>
<rect x="291.68" y="135.44" width="5.4" height="5.4" fill="#3b3b3b"/>
<rect x="307.67" y="136.03" width="5.4" height="5.4" fill="#3b3b3b"/>
<rect x="323.65" y="136.1" width="5.4" height="5.4" fill="#3b3b3b"/>
<rect x="339.63" y="135.77" width="5.4" height="5.4" fill="#3b3b3b"/>
<rect x="355.62" y="136" width="5.4" height="5.4" fill="#3b3b3b"/>
<rect x="371.6" y="136.15" width="5.4" height="5.4" fill="#3b3b3b"/>
<rect x="387.58" y="136.43" width="5.4" height="5.4" fill="#3b3b3b"/>
<rect x="403.57" y="136.26" width="5.4" height="5.4" fill="#3b3b3b"/>
<rect x="419.55" y="136.26" width="5.4" height="5.4" fill="#3b3b3b"/>
<rect x="435.54" y="136.28" width="5.4" height="5.4" fill="#3b3b3b"/>
<rect x="451.52" y="136.55" width="5.4" height="5.4" fill="#3b3b3b"/>
<rect x="276.2" y="136.57" width="4.4" height="4.4" fill="#fff" stroke="#3b3b3b" stroke-width="1.2"/>
<rect x="275.7" y="138.77" width="5.4" height="2.7" fill="#3b3b3b"/>
<rect x="292.18" y="136.6" width="4.4" height="4.4" fill="#fff" stroke="#3b3b3b" stroke-width="1.2"/>
<rect x="291.68" y="138.8" width="5.4" height="2.7" fill="#3b3b3b"/>
<rect x="308.17" y="136.43" width="4.4" height="4.4" fill="#fff" stroke="#3b3b3b" stroke-width="1.2"/>
<rect x="307.67" y="138.63" width="5.4" height="2.7" fill="#3b3b3b"/>
<rect x="324.15" y="136.34" width="4.4" height="4.4" fill="#fff" stroke="#3b3b3b" stroke-width="1.2"/>
<rect x="323.65" y="138.54" width="5.4" height="2.7" fill="#3b3b3b"/>
<rect x="340.13" y="136.52" width="4.4" height="4.4" fill="#fff" stroke="#3b3b3b" stroke-width="1.2"/>
<rect x="339.63" y="138.72" width="5.4" height="2.7" fill="#3b3b3b"/>
<rect x="356.12" y="136.94" width="4.4" height="4.4" fill="#fff" stroke="#3b3b3b" stroke-width="1.2"/>
<rect x="355.62" y="139.14" width="5.4" height="2.7" fill="#3b3b3b"/>
<rect x="372.1" y="137.11" width="4.4" height="4.4" fill="#fff" stroke="#3b3b3b" stroke-width="1.2"/>
<rect x="371.6" y="139.31" width="5.4" height="2.7" fill="#3b3b3b"/>
<rect x="388.08" y="137.27" width="4.4" height="4.4" fill="#fff" stroke="#3b3b3b" stroke-width="1.2"/>
<rect x="387.58" y="139.47" width="5.4" height="2.7" fill="#3b3b3b"/>
<rect x="404.07" y="137.43" width="4.4" height="4.4" fill="#fff" stroke="#3b3b3b" stroke-width="1.2"/>
<rect x="403.57" y="139.63" width="5.4" height="2.7" fill="#3b3b3b"/>
<rect x="420.05" y="137.45" width="4.4" height="4.4" fill="#fff" stroke="#3b3b3b" stroke-width="1.2"/>
<rect x="419.55" y="139.65" width="5.4" height="2.7" fill="#3b3b3b"/>
<rect x="436.04" y="137.17" width="4.4" height="4.4" fill="#fff" stroke="#3b3b3b" stroke-width="1.2"/>
<rect x="435.54" y="139.37" width="5.4" height="2.7" fill="#3b3b3b"/>
<rect x="452.02" y="137.27" width="4.4" height="4.4" fill="#fff" stroke="#3b3b3b" stroke-width="1.2"/>
<rect x="451.52" y="139.47" width="5.4" height="2.7" fill="#3b3b3b"/>
<rect x="275.7" y="134.84" width="5.4" height="5.4" fill="#3b3b3b"/>
<rect x="291.68" y="134.53" width="5.4" height="5.4" fill="#3b3b3b"/>
<rect x="307.67" y="134.81" width="5.4" height="5.4" fill="#3b3b3b"/>
<rect x="323.65" y="134.92" width="5.4" height="5.4" fill="#3b3b3b"/>
<rect x="339.63" y="135.34" width="5.4" height="5.4" fill="#3b3b3b"/>
<rect x="355.62" y="135.73" width="5.4" height="5.4" fill="#3b3b3b"/>
<rect x="371.6" y="135.7" width="5.4" height="5.4" fill="#3b3b3b"/>
<rect x="387.58" y="135.89" width="5.4" height="5.4" fill="#3b3b3b"/>
<rect x="403.57" y="135.68" width="5.4" height="5.4" fill="#3b3b3b"/>
<rect x="419.55" y="135.38" width="5.4" height="5.4" fill="#3b3b3b"/>
<rect x="435.54" y="135.59" width="5.4" height="5.4" fill="#3b3b3b"/>
<rect x="451.52" y="135.9" width="5.4" height="5.4" fill="#3b3b3b"/>
<circle cx="278.4" cy="135.96" r="2.7" fill="#3b3b3b"/>
<circle cx="294.38" cy="136.06" r="2.7" fill="#3b3b3b"/>
<circle cx="310.37" cy="136.22" r="2.7" fill="#3b3b3b"/>
<circle cx="326.35" cy="136.4" r="2.7" fill="#3b3b3b"/>
<circle cx="342.33" cy="137.01" r="2.7" fill="#3b3b3b"/>
<circle cx="358.32" cy="137.57" r="2.7" fill="#3b3b3b"/>
<circle cx="374.3" cy="138.23" r="2.7" fill="#3b3b3b"/>
<circle cx="390.28" cy="138" r="2.7" fill="#3b3b3b"/>
<circle cx="406.27" cy="138.08" r="2.7" fill="#3b3b3b"/>
<circle cx="422.25" cy="138.6" r="2.7" fill="#3b3b3b"/>
<circle cx="438.24" cy="138.24" r="2.7" fill="#3b3b3b"/>
<circle cx="454.22" cy="138.26" r="2.7" fill="#3b3b3b"/>
<polygon points="278.4,119.9 281.37,123.14 278.4,126.38 275.43,123.14" fill="#2552b0"/>
<polygon points="294.38,124.09 297.35,127.33 294.38,130.57 291.41,127.33" fill="#2552b0"/>
<polygon points="310.37,129.18 313.34,132.42 310.37,135.66 307.4,132.42" fill="#2552b0"/>
<polygon points="326.35,132.44 329.32,135.68 326.35,138.92 323.38,135.68" fill="#2552b0"/>
<polygon points="342.33,134.99 345.3,138.23 342.33,141.47 339.36,138.23" fill="#2552b0"/>
<polygon points="358.32,135.45 361.29,138.69 358.32,141.93 355.35,138.69" fill="#2552b0"/>
<polygon points="374.3,136.4 377.27,139.64 374.3,142.88 371.33,139.64" fill="#2552b0"/>
<polygon points="390.28,135.86 393.25,139.1 390.28,142.34 387.31,139.1" fill="#2552b0"/>
<polygon points="406.27,135.89 409.24,139.13 406.27,142.37 403.3,139.13" fill="#2552b0"/>
<polygon points="422.25,136.47 425.22,139.71 422.25,142.95 419.28,139.71" fill="#2552b0"/>
<polygon points="438.24,136.34 441.21,139.58 438.24,142.82 435.27,139.58" fill="#2552b0"/>
<polygon points="454.22,135.89 457.19,139.13 454.22,142.37 451.25,139.13" fill="#2552b0"/>
<polygon points="278.4,102.54 281.37,107.94 275.43,107.94" fill="#3b3b3b"/>
<polygon points="294.38,115.07 297.35,120.47 291.41,120.47" fill="#3b3b3b"/>
<polygon points="310.37,126.62 313.34,132.02 307.4,132.02" fill="#3b3b3b"/>
<polygon points="326.35,132.62 329.32,138.02 323.38,138.02" fill="#3b3b3b"/>
<polygon points="342.33,134.47 345.3,139.87 339.36,139.87" fill="#3b3b3b"/>
<polygon points="358.32,136.4 361.29,141.8 355.35,141.8" fill="#3b3b3b"/>
<polygon points="374.3,135.31 377.27,140.71 371.33,140.71" fill="#3b3b3b"/>
<polygon points="390.28,136.63 393.25,142.03 387.31,142.03" fill="#3b3b3b"/>
<polygon points="406.27,135.45 409.24,140.85 403.3,140.85" fill="#3b3b3b"/>
<polygon points="422.25,136.6 425.22,142 419.28,142" fill="#3b3b3b"/>
<polygon points="438.24,135.37 441.21,140.77 435.27,140.77" fill="#3b3b3b"/>
<polygon points="454.22,135.85 457.19,141.25 451.25,141.25" fill="#3b3b3b"/>
<polygon points="278.4,54.17 281.37,57.41 278.4,60.65 275.43,57.41" fill="#3b3b3b"/>
<polygon points="294.38,60.81 297.35,64.05 294.38,67.29 291.41,64.05" fill="#3b3b3b"/>
<polygon points="310.37,74.65 313.34,77.89 310.37,81.13 307.4,77.89" fill="#3b3b3b"/>
<polygon points="326.35,95.91 329.32,99.15 326.35,102.39 323.38,99.15" fill="#3b3b3b"/>
<polygon points="342.33,116.05 345.3,119.29 342.33,122.53 339.36,119.29" fill="#3b3b3b"/>
<polygon points="358.32,127.84 361.29,131.08 358.32,134.32 355.35,131.08" fill="#3b3b3b"/>
<polygon points="374.3,132.38 377.27,135.62 374.3,138.86 371.33,135.62" fill="#3b3b3b"/>
<polygon points="390.28,133.54 393.25,136.78 390.28,140.02 387.31,136.78" fill="#3b3b3b"/>
<polygon points="406.27,134.85 409.24,138.09 406.27,141.33 403.3,138.09" fill="#3b3b3b"/>
<polygon points="422.25,136.14 425.22,139.38 422.25,142.62 419.28,139.38" fill="#3b3b3b"/>
<polygon points="438.24,134.82 441.21,138.06 438.24,141.3 435.27,138.06" fill="#3b3b3b"/>
<polygon points="454.22,135.03 457.19,138.27 454.22,141.51 451.25,138.27" fill="#3b3b3b"/>
<polygon points="278.4,42.84 281.37,46.08 278.4,49.32 275.43,46.08" fill="#a57d4a"/>
<polygon points="294.38,46.62 297.35,49.86 294.38,53.1 291.41,49.86" fill="#a57d4a"/>
<polygon points="310.37,49.18 313.34,52.42 310.37,55.66 307.4,52.42" fill="#a57d4a"/>
<polygon points="326.35,58.37 329.32,61.61 326.35,64.85 323.38,61.61" fill="#a57d4a"/>
<polygon points="342.33,69.24 345.3,72.48 342.33,75.72 339.36,72.48" fill="#a57d4a"/>
<polygon points="358.32,86.95 361.29,90.19 358.32,93.43 355.35,90.19" fill="#a57d4a"/>
<polygon points="374.3,104.47 377.27,107.71 374.3,110.95 371.33,107.71" fill="#a57d4a"/>
<polygon points="390.28,116.56 393.25,119.8 390.28,123.04 387.31,119.8" fill="#a57d4a"/>
<polygon points="406.27,127.19 409.24,130.43 406.27,133.67 403.3,130.43" fill="#a57d4a"/>
<polygon points="422.25,130.87 425.22,134.11 422.25,137.35 419.28,134.11" fill="#a57d4a"/>
<polygon points="438.24,132.42 441.21,135.66 438.24,138.9 435.27,135.66" fill="#a57d4a"/>
<polygon points="454.22,135.11 457.19,138.35 454.22,141.59 451.25,138.35" fill="#a57d4a"/>
<polygon points="278.4,43.37 281.37,48.77 275.43,48.77" fill="#f2a33a"/>
<polygon points="294.38,42.21 297.35,47.61 291.41,47.61" fill="#f2a33a"/>
<polygon points="310.37,44.64 313.34,50.04 307.4,50.04" fill="#f2a33a"/>
<polygon points="326.35,46.82 329.32,52.22 323.38,52.22" fill="#f2a33a"/>
<polygon points="342.33,54.89 345.3,60.29 339.36,60.29" fill="#f2a33a"/>
<polygon points="358.32,66.08 361.29,71.48 355.35,71.48" fill="#f2a33a"/>
<polygon points="374.3,84.73 377.27,90.13 371.33,90.13" fill="#f2a33a"/>
<polygon points="390.28,103.18 393.25,108.58 387.31,108.58" fill="#f2a33a"/>
<polygon points="406.27,119.67 409.24,125.07 403.3,125.07" fill="#f2a33a"/>
<polygon points="422.25,126.1 425.22,131.5 419.28,131.5" fill="#f2a33a"/>
<polygon points="438.24,132.63 441.21,138.03 435.27,138.03" fill="#f2a33a"/>
<polygon points="454.22,132.71 457.19,138.11 451.25,138.11" fill="#f2a33a"/>
<rect x="276.2" y="32.15" width="4.4" height="4.4" fill="#fff" stroke="#9c44b8" stroke-width="1.2"/>
<rect x="292.18" y="32.07" width="4.4" height="4.4" fill="#fff" stroke="#9c44b8" stroke-width="1.2"/>
<rect x="308.17" y="32.59" width="4.4" height="4.4" fill="#fff" stroke="#9c44b8" stroke-width="1.2"/>
<rect x="324.15" y="40.1" width="4.4" height="4.4" fill="#fff" stroke="#9c44b8" stroke-width="1.2"/>
<rect x="340.13" y="60.13" width="4.4" height="4.4" fill="#fff" stroke="#9c44b8" stroke-width="1.2"/>
<rect x="356.12" y="95.19" width="4.4" height="4.4" fill="#fff" stroke="#9c44b8" stroke-width="1.2"/>
<rect x="372.1" y="122.64" width="4.4" height="4.4" fill="#fff" stroke="#9c44b8" stroke-width="1.2"/>
<rect x="388.08" y="133.06" width="4.4" height="4.4" fill="#fff" stroke="#9c44b8" stroke-width="1.2"/>
<rect x="404.07" y="133.83" width="4.4" height="4.4" fill="#fff" stroke="#9c44b8" stroke-width="1.2"/>
<rect x="420.05" y="136.04" width="4.4" height="4.4" fill="#fff" stroke="#9c44b8" stroke-width="1.2"/>
<rect x="436.04" y="136.41" width="4.4" height="4.4" fill="#fff" stroke="#9c44b8" stroke-width="1.2"/>
<rect x="452.02" y="135.85" width="4.4" height="4.4" fill="#fff" stroke="#9c44b8" stroke-width="1.2"/>
<polygon points="278.4,30.06 281.37,35.46 275.43,35.46" fill="#e8545e"/>
<polygon points="294.38,29.95 297.35,35.35 291.41,35.35" fill="#e8545e"/>
<polygon points="310.37,32.06 313.34,37.46 307.4,37.46" fill="#e8545e"/>
<polygon points="326.35,32.8 329.32,38.2 323.38,38.2" fill="#e8545e"/>
<polygon points="342.33,36.75 345.3,42.15 339.36,42.15" fill="#e8545e"/>
<polygon points="358.32,42.96 361.29,48.36 355.35,48.36" fill="#e8545e"/>
<polygon points="374.3,56.59 377.27,61.99 371.33,61.99" fill="#e8545e"/>
<polygon points="390.28,78.76 393.25,84.16 387.31,84.16" fill="#e8545e"/>
<polygon points="406.27,101.62 409.24,107.02 403.3,107.02" fill="#e8545e"/>
<polygon points="422.25,118.55 425.22,123.95 419.28,123.95" fill="#e8545e"/>
<polygon points="438.24,127.07 441.21,132.47 435.27,132.47" fill="#e8545e"/>
<polygon points="454.22,131.41 457.19,136.81 451.25,136.81" fill="#e8545e"/>
<rect x="275.7" y="26.88" width="5.4" height="5.4" fill="#5db843"/>
<rect x="291.68" y="27.36" width="5.4" height="5.4" fill="#5db843"/>
<rect x="307.67" y="26.6" width="5.4" height="5.4" fill="#5db843"/>
<rect x="323.65" y="27.49" width="5.4" height="5.4" fill="#5db843"/>
<rect x="339.63" y="28.88" width="5.4" height="5.4" fill="#5db843"/>
<rect x="355.62" y="32.14" width="5.4" height="5.4" fill="#5db843"/>
<rect x="371.6" y="44.98" width="5.4" height="5.4" fill="#5db843"/>
<rect x="387.58" y="78.11" width="5.4" height="5.4" fill="#5db843"/>
<rect x="403.57" y="111.37" width="5.4" height="5.4" fill="#5db843"/>
<rect x="419.55" y="128.09" width="5.4" height="5.4" fill="#5db843"/>
<rect x="435.54" y="132.76" width="5.4" height="5.4" fill="#5db843"/>
<rect x="451.52" y="134.71" width="5.4" height="5.4" fill="#5db843"/>
<line x1="271.2" y1="13" x2="271.2" y2="141.1" stroke="#000" stroke-width="1.5"/>
<line x1="270.5" y1="140.3" x2="460.9" y2="140.3" stroke="#000" stroke-width="1.5"/>
<line x1="268.2" y1="140.3" x2="271.2" y2="140.3" stroke="#000" stroke-width="1.0"/>
<text x="266.9" y="143.8" font-size="8.4" text-anchor="end" fill="#1a1a1a" stroke="#1a1a1a" font-weight="normal" >0.0</text>
<line x1="269.6" y1="132.39" x2="271.2" y2="132.39" stroke="#000" stroke-width="1.0"/>
<line x1="268.2" y1="124.48" x2="271.2" y2="124.48" stroke="#000" stroke-width="1.0"/>
<text x="266.9" y="127.98" font-size="8.4" text-anchor="end" fill="#1a1a1a" stroke="#1a1a1a" font-weight="normal" >0.5</text>
<line x1="269.6" y1="116.56" x2="271.2" y2="116.56" stroke="#000" stroke-width="1.0"/>
<line x1="268.2" y1="108.65" x2="271.2" y2="108.65" stroke="#000" stroke-width="1.0"/>
<text x="266.9" y="112.15" font-size="8.4" text-anchor="end" fill="#1a1a1a" stroke="#1a1a1a" font-weight="normal" >1.0</text>
<line x1="269.6" y1="100.74" x2="271.2" y2="100.74" stroke="#000" stroke-width="1.0"/>
<line x1="268.2" y1="92.83" x2="271.2" y2="92.83" stroke="#000" stroke-width="1.0"/>
<text x="266.9" y="96.33" font-size="8.4" text-anchor="end" fill="#1a1a1a" stroke="#1a1a1a" font-weight="normal" >1.5</text>
<line x1="269.6" y1="84.91" x2="271.2" y2="84.91" stroke="#000" stroke-width="1.0"/>
<line x1="268.2" y1="77" x2="271.2" y2="77" stroke="#000" stroke-width="1.0"/>
<text x="266.9" y="80.5" font-size="8.4" text-anchor="end" fill="#1a1a1a" stroke="#1a1a1a" font-weight="normal" >2.0</text>
<line x1="269.6" y1="69.09" x2="271.2" y2="69.09" stroke="#000" stroke-width="1.0"/>
<line x1="268.2" y1="61.18" x2="271.2" y2="61.18" stroke="#000" stroke-width="1.0"/>
<text x="266.9" y="64.68" font-size="8.4" text-anchor="end" fill="#1a1a1a" stroke="#1a1a1a" font-weight="normal" >2.5</text>
<line x1="269.6" y1="53.26" x2="271.2" y2="53.26" stroke="#000" stroke-width="1.0"/>
<line x1="268.2" y1="45.35" x2="271.2" y2="45.35" stroke="#000" stroke-width="1.0"/>
<text x="266.9" y="48.85" font-size="8.4" text-anchor="end" fill="#1a1a1a" stroke="#1a1a1a" font-weight="normal" >3.0</text>
<line x1="269.6" y1="37.44" x2="271.2" y2="37.44" stroke="#000" stroke-width="1.0"/>
<line x1="268.2" y1="29.53" x2="271.2" y2="29.53" stroke="#000" stroke-width="1.0"/>
<text x="266.9" y="33.03" font-size="8.4" text-anchor="end" fill="#1a1a1a" stroke="#1a1a1a" font-weight="normal" >3.5</text>
<line x1="269.6" y1="21.61" x2="271.2" y2="21.61" stroke="#000" stroke-width="1.0"/>
<line x1="268.2" y1="13.7" x2="271.2" y2="13.7" stroke="#000" stroke-width="1.0"/>
<text x="266.9" y="17.2" font-size="8.4" text-anchor="end" fill="#1a1a1a" stroke="#1a1a1a" font-weight="normal" >4.0</text>
<line x1="278.4" y1="140.3" x2="278.4" y2="143.3" stroke="#000" stroke-width="1.0"/>
<text x="278.4" y="151.6" font-size="8.3" text-anchor="middle" fill="#222" stroke="#222" font-weight="normal" >10</text>
<line x1="311.9" y1="140.3" x2="311.9" y2="143.3" stroke="#000" stroke-width="1.0"/>
<text x="311.9" y="151.6" font-size="8.3" text-anchor="middle" fill="#222" stroke="#222" font-weight="normal" >1</text>
<line x1="345.4" y1="140.3" x2="345.4" y2="143.3" stroke="#000" stroke-width="1.0"/>
<text x="345.4" y="151.6" font-size="8.3" text-anchor="middle" fill="#222" stroke="#222" font-weight="normal" >0.1</text>
<line x1="378.9" y1="140.3" x2="378.9" y2="143.3" stroke="#000" stroke-width="1.0"/>
<text x="378.9" y="151.6" font-size="8.3" text-anchor="middle" fill="#222" stroke="#222" font-weight="normal" >0.01</text>
<line x1="412.4" y1="140.3" x2="412.4" y2="143.3" stroke="#000" stroke-width="1.0"/>
<text x="412.4" y="151.6" font-size="8.3" text-anchor="middle" fill="#222" stroke="#222" font-weight="normal" >0.001</text>
<line x1="445.9" y1="140.3" x2="445.9" y2="143.3" stroke="#000" stroke-width="1.0"/>
<text x="445.9" y="151.6" font-size="8.3" text-anchor="middle" fill="#222" stroke="#222" font-weight="normal" >0.0001</text>
<line x1="301.82" y1="140.3" x2="301.82" y2="142.1" stroke="#000" stroke-width="0.8"/>
<line x1="295.92" y1="140.3" x2="295.92" y2="142.1" stroke="#000" stroke-width="0.8"/>
<line x1="291.73" y1="140.3" x2="291.73" y2="142.1" stroke="#000" stroke-width="0.8"/>
<line x1="288.48" y1="140.3" x2="288.48" y2="142.1" stroke="#000" stroke-width="0.8"/>
<line x1="285.83" y1="140.3" x2="285.83" y2="142.1" stroke="#000" stroke-width="0.8"/>
<line x1="283.59" y1="140.3" x2="283.59" y2="142.1" stroke="#000" stroke-width="0.8"/>
<line x1="281.65" y1="140.3" x2="281.65" y2="142.1" stroke="#000" stroke-width="0.8"/>
<line x1="279.93" y1="140.3" x2="279.93" y2="142.1" stroke="#000" stroke-width="0.8"/>
<line x1="335.32" y1="140.3" x2="335.32" y2="142.1" stroke="#000" stroke-width="0.8"/>
<line x1="329.42" y1="140.3" x2="329.42" y2="142.1" stroke="#000" stroke-width="0.8"/>
<line x1="325.23" y1="140.3" x2="325.23" y2="142.1" stroke="#000" stroke-width="0.8"/>
<line x1="321.98" y1="140.3" x2="321.98" y2="142.1" stroke="#000" stroke-width="0.8"/>
<line x1="319.33" y1="140.3" x2="319.33" y2="142.1" stroke="#000" stroke-width="0.8"/>
<line x1="317.09" y1="140.3" x2="317.09" y2="142.1" stroke="#000" stroke-width="0.8"/>
<line x1="315.15" y1="140.3" x2="315.15" y2="142.1" stroke="#000" stroke-width="0.8"/>
<line x1="313.43" y1="140.3" x2="313.43" y2="142.1" stroke="#000" stroke-width="0.8"/>
<line x1="368.82" y1="140.3" x2="368.82" y2="142.1" stroke="#000" stroke-width="0.8"/>
<line x1="362.92" y1="140.3" x2="362.92" y2="142.1" stroke="#000" stroke-width="0.8"/>
<line x1="358.73" y1="140.3" x2="358.73" y2="142.1" stroke="#000" stroke-width="0.8"/>
<line x1="355.48" y1="140.3" x2="355.48" y2="142.1" stroke="#000" stroke-width="0.8"/>
<line x1="352.83" y1="140.3" x2="352.83" y2="142.1" stroke="#000" stroke-width="0.8"/>
<line x1="350.59" y1="140.3" x2="350.59" y2="142.1" stroke="#000" stroke-width="0.8"/>
<line x1="348.65" y1="140.3" x2="348.65" y2="142.1" stroke="#000" stroke-width="0.8"/>
<line x1="346.93" y1="140.3" x2="346.93" y2="142.1" stroke="#000" stroke-width="0.8"/>
<line x1="402.32" y1="140.3" x2="402.32" y2="142.1" stroke="#000" stroke-width="0.8"/>
<line x1="396.42" y1="140.3" x2="396.42" y2="142.1" stroke="#000" stroke-width="0.8"/>
<line x1="392.23" y1="140.3" x2="392.23" y2="142.1" stroke="#000" stroke-width="0.8"/>
<line x1="388.98" y1="140.3" x2="388.98" y2="142.1" stroke="#000" stroke-width="0.8"/>
<line x1="386.33" y1="140.3" x2="386.33" y2="142.1" stroke="#000" stroke-width="0.8"/>
<line x1="384.09" y1="140.3" x2="384.09" y2="142.1" stroke="#000" stroke-width="0.8"/>
<line x1="382.15" y1="140.3" x2="382.15" y2="142.1" stroke="#000" stroke-width="0.8"/>
<line x1="380.43" y1="140.3" x2="380.43" y2="142.1" stroke="#000" stroke-width="0.8"/>
<line x1="435.82" y1="140.3" x2="435.82" y2="142.1" stroke="#000" stroke-width="0.8"/>
<line x1="429.92" y1="140.3" x2="429.92" y2="142.1" stroke="#000" stroke-width="0.8"/>
<line x1="425.73" y1="140.3" x2="425.73" y2="142.1" stroke="#000" stroke-width="0.8"/>
<line x1="422.48" y1="140.3" x2="422.48" y2="142.1" stroke="#000" stroke-width="0.8"/>
<line x1="419.83" y1="140.3" x2="419.83" y2="142.1" stroke="#000" stroke-width="0.8"/>
<line x1="417.59" y1="140.3" x2="417.59" y2="142.1" stroke="#000" stroke-width="0.8"/>
<line x1="415.65" y1="140.3" x2="415.65" y2="142.1" stroke="#000" stroke-width="0.8"/>
<line x1="413.93" y1="140.3" x2="413.93" y2="142.1" stroke="#000" stroke-width="0.8"/>
<line x1="459.23" y1="140.3" x2="459.23" y2="142.1" stroke="#000" stroke-width="0.8"/>
<line x1="455.98" y1="140.3" x2="455.98" y2="142.1" stroke="#000" stroke-width="0.8"/>
<line x1="453.33" y1="140.3" x2="453.33" y2="142.1" stroke="#000" stroke-width="0.8"/>
<line x1="451.09" y1="140.3" x2="451.09" y2="142.1" stroke="#000" stroke-width="0.8"/>
<line x1="449.15" y1="140.3" x2="449.15" y2="142.1" stroke="#000" stroke-width="0.8"/>
<line x1="447.43" y1="140.3" x2="447.43" y2="142.1" stroke="#000" stroke-width="0.8"/>
<text x="361.2" y="11.6" font-size="11.2" text-anchor="middle" fill="#111" stroke="#111" font-weight="normal" >SARS-CoV-2 S1</text>
<text x="248.8" y="73.2" font-size="8.3" text-anchor="middle" fill="#222" stroke="#222" font-weight="normal" transform="rotate(-90 248.8 73.2)">OD450nm</text>
<text x="367.3" y="164.6" font-size="8.3" text-anchor="middle" fill="#222" stroke="#222" font-weight="normal" >concentration of antibody(μg/ml)</text>
<polyline points="503.4,133.33 505.58,133.33 507.76,133.34 509.93,133.34 512.11,133.34 514.29,133.35 516.47,133.36 518.65,133.36 520.82,133.37 523,133.38 525.18,133.39 527.36,133.4 529.54,133.42 531.71,133.44 533.89,133.45 536.07,133.48 538.25,133.5 540.43,133.53 542.61,133.56 544.78,133.59 546.96,133.63 549.14,133.67 551.32,133.72 553.5,133.77 555.67,133.83 557.85,133.88 560.03,133.95 562.21,134.01 564.39,134.08 566.56,134.15 568.74,134.22 570.92,134.29 573.1,134.36 575.28,134.43 577.45,134.5 579.63,134.57 581.81,134.63 583.99,134.69 586.17,134.74 588.34,134.79 590.52,134.84 592.7,134.88 594.88,134.92 597.06,134.95 599.23,134.98 601.41,135.01 603.59,135.03 605.77,135.06 607.95,135.07 610.12,135.09 612.3,135.11 614.48,135.12 616.66,135.13 618.84,135.14 621.02,135.15 623.19,135.15 625.37,135.16 627.55,135.17 629.73,135.17 631.91,135.17 634.08,135.18 636.26,135.18 638.44,135.18 640.62,135.19 642.8,135.19 644.97,135.19 647.15,135.19 649.33,135.19 651.51,135.19 653.69,135.19 655.86,135.2 658.04,135.2 660.22,135.2 662.4,135.2 664.58,135.2 666.75,135.2 668.93,135.2 671.11,135.2 673.29,135.2 675.47,135.2 677.64,135.2" fill="none" stroke="#3b3b3b" stroke-width="1.5" stroke-linejoin="round" />
<polyline points="503.4,135.21 505.58,135.21 507.76,135.22 509.93,135.22 512.11,135.22 514.29,135.23 516.47,135.23 518.65,135.24 520.82,135.24 523,135.25 525.18,135.25 527.36,135.26 529.54,135.27 531.71,135.28 533.89,135.3 536.07,135.31 538.25,135.33 540.43,135.35 542.61,135.37 544.78,135.39 546.96,135.41 549.14,135.44 551.32,135.47 553.5,135.51 555.67,135.54 557.85,135.58 560.03,135.62 562.21,135.67 564.39,135.71 566.56,135.76 568.74,135.81 570.92,135.85 573.1,135.9 575.28,135.95 577.45,135.99 579.63,136.04 581.81,136.08 583.99,136.12 586.17,136.15 588.34,136.19 590.52,136.22 592.7,136.25 594.88,136.27 597.06,136.29 599.23,136.32 601.41,136.33 603.59,136.35 605.77,136.36 607.95,136.38 610.12,136.39 612.3,136.4 614.48,136.41 616.66,136.41 618.84,136.42 621.02,136.42 623.19,136.43 625.37,136.43 627.55,136.44 629.73,136.44 631.91,136.44 634.08,136.45 636.26,136.45 638.44,136.45 640.62,136.45 642.8,136.45 644.97,136.45 647.15,136.45 649.33,136.45 651.51,136.46 653.69,136.46 655.86,136.46 658.04,136.46 660.22,136.46 662.4,136.46 664.58,136.46 666.75,136.46 668.93,136.46 671.11,136.46 673.29,136.46 675.47,136.46 677.64,136.46" fill="none" stroke="#3b3b3b" stroke-width="1.5" stroke-linejoin="round" />
<polyline points="503.4,136.47 505.58,136.47 507.76,136.48 509.93,136.48 512.11,136.48 514.29,136.49 516.47,136.49 518.65,136.5 520.82,136.5 523,136.51 525.18,136.51 527.36,136.52 529.54,136.53 531.71,136.54 533.89,136.56 536.07,136.57 538.25,136.59 540.43,136.61 542.61,136.63 544.78,136.65 546.96,136.67 549.14,136.7 551.32,136.73 553.5,136.77 555.67,136.8 557.85,136.84 560.03,136.88 562.21,136.93 564.39,136.97 566.56,137.02 568.74,137.07 570.92,137.11 573.1,137.16 575.28,137.21 577.45,137.25 579.63,137.3 581.81,137.34 583.99,137.38 586.17,137.41 588.34,137.45 590.52,137.48 592.7,137.51 594.88,137.53 597.06,137.55 599.23,137.58 601.41,137.59 603.59,137.61 605.77,137.62 607.95,137.64 610.12,137.65 612.3,137.66 614.48,137.67 616.66,137.67 618.84,137.68 621.02,137.68 623.19,137.69 625.37,137.69 627.55,137.7 629.73,137.7 631.91,137.7 634.08,137.71 636.26,137.71 638.44,137.71 640.62,137.71 642.8,137.71 644.97,137.71 647.15,137.71 649.33,137.71 651.51,137.72 653.69,137.72 655.86,137.72 658.04,137.72 660.22,137.72 662.4,137.72 664.58,137.72 666.75,137.72 668.93,137.72 671.11,137.72 673.29,137.72 675.47,137.72 677.64,137.72" fill="none" stroke="#3b3b3b" stroke-width="1.5" stroke-linejoin="round" />
<polyline points="503.4,137.73 505.58,137.73 507.76,137.73 509.93,137.73 512.11,137.73 514.29,137.73 516.47,137.74 518.65,137.74 520.82,137.74 523,137.74 525.18,137.75 527.36,137.75 529.54,137.76 531.71,137.76 533.89,137.77 536.07,137.78 538.25,137.78 540.43,137.79 542.61,137.8 544.78,137.81 546.96,137.83 549.14,137.84 551.32,137.86 553.5,137.87 555.67,137.89 557.85,137.91 560.03,137.93 562.21,137.95 564.39,137.98 566.56,138 568.74,138.02 570.92,138.05 573.1,138.07 575.28,138.09 577.45,138.12 579.63,138.14 581.81,138.16 583.99,138.18 586.17,138.2 588.34,138.21 590.52,138.23 592.7,138.24 594.88,138.26 597.06,138.27 599.23,138.28 601.41,138.29 603.59,138.29 605.77,138.3 607.95,138.31 610.12,138.31 612.3,138.32 614.48,138.32 616.66,138.33 618.84,138.33 621.02,138.33 623.19,138.33 625.37,138.34 627.55,138.34 629.73,138.34 631.91,138.34 634.08,138.34 636.26,138.34 638.44,138.34 640.62,138.35 642.8,138.35 644.97,138.35 647.15,138.35 649.33,138.35 651.51,138.35 653.69,138.35 655.86,138.35 658.04,138.35 660.22,138.35 662.4,138.35 664.58,138.35 666.75,138.35 668.93,138.35 671.11,138.35 673.29,138.35 675.47,138.35 677.64,138.35" fill="none" stroke="#3b3b3b" stroke-width="1.5" stroke-linejoin="round" />
<polyline points="503.4,138.67 505.58,138.67 507.76,138.67 509.93,138.67 512.11,138.68 514.29,138.68 516.47,138.68 518.65,138.68 520.82,138.69 523,138.69 525.18,138.69 527.36,138.7 529.54,138.7 531.71,138.71 533.89,138.71 536.07,138.72 538.25,138.73 540.43,138.74 542.61,138.75 544.78,138.76 546.96,138.77 549.14,138.79 551.32,138.8 553.5,138.82 555.67,138.84 557.85,138.86 560.03,138.88 562.21,138.9 564.39,138.92 566.56,138.94 568.74,138.97 570.92,138.99 573.1,139.02 575.28,139.04 577.45,139.06 579.63,139.08 581.81,139.1 583.99,139.12 586.17,139.14 588.34,139.16 590.52,139.17 592.7,139.19 594.88,139.2 597.06,139.21 599.23,139.22 601.41,139.23 603.59,139.24 605.77,139.25 607.95,139.25 610.12,139.26 612.3,139.26 614.48,139.27 616.66,139.27 618.84,139.27 621.02,139.28 623.19,139.28 625.37,139.28 627.55,139.28 629.73,139.29 631.91,139.29 634.08,139.29 636.26,139.29 638.44,139.29 640.62,139.29 642.8,139.29 644.97,139.29 647.15,139.29 649.33,139.29 651.51,139.29 653.69,139.29 655.86,139.29 658.04,139.29 660.22,139.29 662.4,139.29 664.58,139.29 666.75,139.29 668.93,139.29 671.11,139.29 673.29,139.29 675.47,139.29 677.64,139.29" fill="none" stroke="#3b3b3b" stroke-width="1.5" stroke-linejoin="round" />
<polyline points="503.4,139.93 505.58,139.93 507.76,139.93 509.93,139.93 512.11,139.93 514.29,139.93 516.47,139.93 518.65,139.93 520.82,139.94 523,139.94 525.18,139.94 527.36,139.94 529.54,139.94 531.71,139.95 533.89,139.95 536.07,139.95 538.25,139.96 540.43,139.96 542.61,139.97 544.78,139.97 546.96,139.98 549.14,139.99 551.32,139.99 553.5,140 555.67,140.01 557.85,140.02 560.03,140.03 562.21,140.04 564.39,140.05 566.56,140.06 568.74,140.08 570.92,140.09 573.1,140.1 575.28,140.11 577.45,140.12 579.63,140.13 581.81,140.14 583.99,140.15 586.17,140.16 588.34,140.17 590.52,140.18 592.7,140.19 594.88,140.19 597.06,140.2 599.23,140.2 601.41,140.21 603.59,140.21 605.77,140.22 607.95,140.22 610.12,140.22 612.3,140.22 614.48,140.23 616.66,140.23 618.84,140.23 621.02,140.23 623.19,140.23 625.37,140.23 627.55,140.23 629.73,140.24 631.91,140.24 634.08,140.24 636.26,140.24 638.44,140.24 640.62,140.24 642.8,140.24 644.97,140.24 647.15,140.24 649.33,140.24 651.51,140.24 653.69,140.24 655.86,140.24 658.04,140.24 660.22,140.24 662.4,140.24 664.58,140.24 666.75,140.24 668.93,140.24 671.11,140.24 673.29,140.24 675.47,140.24 677.64,140.24" fill="none" stroke="#3b3b3b" stroke-width="1.5" stroke-linejoin="round" />
<polyline points="503.4,116.5 505.58,118.93 507.76,121.42 509.93,123.86 512.11,126.15 514.29,128.2 516.47,129.98 518.65,131.47 520.82,132.68 523,133.65 525.18,134.4 527.36,134.99 529.54,135.44 531.71,135.77 533.89,136.03 536.07,136.22 538.25,136.36 540.43,136.47 542.61,136.55 544.78,136.61 546.96,136.65 549.14,136.68 551.32,136.71 553.5,136.72 555.67,136.74 557.85,136.75 560.03,136.75 562.21,136.76 564.39,136.76 566.56,136.77 568.74,136.77 570.92,136.77 573.1,136.77 575.28,136.77 577.45,136.77 579.63,136.77 581.81,136.77 583.99,136.77 586.17,136.77 588.34,136.77 590.52,136.77 592.7,136.77 594.88,136.77 597.06,136.77 599.23,136.77 601.41,136.77 603.59,136.77 605.77,136.77 607.95,136.77 610.12,136.77 612.3,136.77 614.48,136.77 616.66,136.77 618.84,136.77 621.02,136.77 623.19,136.77 625.37,136.77 627.55,136.77 629.73,136.77 631.91,136.77 634.08,136.77 636.26,136.77 638.44,136.77 640.62,136.77 642.8,136.77 644.97,136.77 647.15,136.77 649.33,136.77 651.51,136.77 653.69,136.77 655.86,136.77 658.04,136.77 660.22,136.77 662.4,136.77 664.58,136.77 666.75,136.77 668.93,136.77 671.11,136.77 673.29,136.77 675.47,136.77 677.64,136.77" fill="none" stroke="#3b3b3b" stroke-width="1.5" stroke-linejoin="round" />
<polyline points="503.4,31.35 505.58,31.37 507.76,31.39 509.93,31.42 512.11,31.45 514.29,31.48 516.47,31.52 518.65,31.57 520.82,31.63 523,31.7 525.18,31.78 527.36,31.88 529.54,31.99 531.71,32.12 533.89,32.28 536.07,32.46 538.25,32.68 540.43,32.93 542.61,33.23 544.78,33.58 546.96,34 549.14,34.48 551.32,35.04 553.5,35.7 555.67,36.47 557.85,37.36 560.03,38.39 562.21,39.58 564.39,40.95 566.56,42.53 568.74,44.33 570.92,46.37 573.1,48.67 575.28,51.24 577.45,54.11 579.63,57.27 581.81,60.71 583.99,64.44 586.17,68.41 588.34,72.61 590.52,76.98 592.7,81.49 594.88,86.05 597.06,90.62 599.23,95.14 601.41,99.53 603.59,103.76 605.77,107.77 607.95,111.53 610.12,115.02 612.3,118.21 614.48,121.12 616.66,123.74 618.84,126.08 621.02,128.15 623.19,129.98 625.37,131.59 627.55,132.99 629.73,134.2 631.91,135.26 634.08,136.17 636.26,136.95 638.44,137.62 640.62,138.2 642.8,138.69 644.97,139.11 647.15,139.47 649.33,139.78 651.51,140.04 653.69,140.26 655.86,140.45 658.04,140.61 660.22,140.74 662.4,140.86 664.58,140.96 666.75,141.04 668.93,141.11 671.11,141.17 673.29,141.22 675.47,141.26 677.64,141.3" fill="none" stroke="#2552b0" stroke-width="1.5" stroke-linejoin="round" />
<polyline points="503.4,31.26 505.58,31.27 507.76,31.27 509.93,31.27 512.11,31.28 514.29,31.28 516.47,31.29 518.65,31.3 520.82,31.31 523,31.32 525.18,31.33 527.36,31.35 529.54,31.37 531.71,31.4 533.89,31.43 536.07,31.47 538.25,31.51 540.43,31.56 542.61,31.63 544.78,31.71 546.96,31.8 549.14,31.92 551.32,32.05 553.5,32.22 555.67,32.42 557.85,32.66 560.03,32.95 562.21,33.29 564.39,33.71 566.56,34.21 568.74,34.8 570.92,35.51 573.1,36.35 575.28,37.35 577.45,38.53 579.63,39.93 581.81,41.55 583.99,43.45 586.17,45.65 588.34,48.17 590.52,51.03 592.7,54.26 594.88,57.86 597.06,61.81 599.23,66.09 601.41,70.67 603.59,75.48 605.77,80.45 607.95,85.49 610.12,90.53 612.3,95.46 614.48,100.21 616.66,104.71 618.84,108.91 621.02,112.77 623.19,116.26 625.37,119.39 627.55,122.16 629.73,124.59 631.91,126.7 634.08,128.52 636.26,130.08 638.44,131.41 640.62,132.54 642.8,133.49 644.97,134.3 647.15,134.97 649.33,135.54 651.51,136.01 653.69,136.41 655.86,136.74 658.04,137.01 660.22,137.24 662.4,137.43 664.58,137.59 666.75,137.72 668.93,137.82 671.11,137.91 673.29,137.99 675.47,138.05 677.64,138.1" fill="none" stroke="#9c44b8" stroke-width="1.5" stroke-linejoin="round" />
<polyline points="503.4,31.25 505.58,31.26 507.76,31.26 509.93,31.26 512.11,31.26 514.29,31.26 516.47,31.26 518.65,31.27 520.82,31.27 523,31.27 525.18,31.28 527.36,31.28 529.54,31.29 531.71,31.3 533.89,31.31 536.07,31.32 538.25,31.34 540.43,31.36 542.61,31.38 544.78,31.41 546.96,31.44 549.14,31.48 551.32,31.52 553.5,31.58 555.67,31.65 557.85,31.73 560.03,31.83 562.21,31.95 564.39,32.1 566.56,32.27 568.74,32.48 570.92,32.74 573.1,33.04 575.28,33.4 577.45,33.84 579.63,34.36 581.81,34.99 583.99,35.73 586.17,36.61 588.34,37.66 590.52,38.9 592.7,40.35 594.88,42.04 597.06,44.02 599.23,46.29 601.41,48.9 603.59,51.85 605.77,55.16 607.95,58.83 610.12,62.84 612.3,67.17 614.48,71.77 616.66,76.58 618.84,81.51 621.02,86.49 623.19,91.42 625.37,96.23 627.55,100.83 629.73,105.16 631.91,109.18 634.08,112.85 636.26,116.16 638.44,119.11 640.62,121.72 642.8,124 644.97,125.97 647.15,127.67 649.33,129.12 651.51,130.36 653.69,131.41 655.86,132.29 658.04,133.04 660.22,133.66 662.4,134.18 664.58,134.62 666.75,134.98 668.93,135.29 671.11,135.54 673.29,135.75 675.47,135.93 677.64,136.07" fill="none" stroke="#e8545e" stroke-width="1.5" stroke-linejoin="round" />
<polyline points="503.4,31.25 505.58,31.25 507.76,31.25 509.93,31.25 512.11,31.25 514.29,31.25 516.47,31.25 518.65,31.25 520.82,31.26 523,31.26 525.18,31.26 527.36,31.26 529.54,31.26 531.71,31.27 533.89,31.27 536.07,31.27 538.25,31.28 540.43,31.28 542.61,31.29 544.78,31.3 546.96,31.31 549.14,31.33 551.32,31.34 553.5,31.36 555.67,31.39 557.85,31.42 560.03,31.45 562.21,31.5 564.39,31.55 566.56,31.61 568.74,31.69 570.92,31.79 573.1,31.9 575.28,32.05 577.45,32.22 579.63,32.42 581.81,32.68 583.99,32.98 586.17,33.35 588.34,33.79 590.52,34.33 592.7,34.97 594.88,35.74 597.06,36.67 599.23,37.77 601.41,39.08 603.59,40.62 605.77,42.44 607.95,44.56 610.12,47.01 612.3,49.81 614.48,53 616.66,56.57 618.84,60.52 621.02,64.82 623.19,69.42 625.37,74.28 627.55,79.3 629.73,84.39 631.91,89.47 634.08,94.42 636.26,99.17 638.44,103.65 640.62,107.79 642.8,111.57 644.97,114.96 647.15,117.97 649.33,120.61 651.51,122.9 653.69,124.88 655.86,126.57 658.04,128 660.22,129.21 662.4,130.23 664.58,131.08 666.75,131.79 668.93,132.38 671.11,132.87 673.29,133.28 675.47,133.62 677.64,133.9" fill="none" stroke="#5db843" stroke-width="1.5" stroke-linejoin="round" />
<polyline points="503.4,31.25 505.58,31.25 507.76,31.25 509.93,31.25 512.11,31.25 514.29,31.25 516.47,31.25 518.65,31.25 520.82,31.25 523,31.25 525.18,31.25 527.36,31.26 529.54,31.26 531.71,31.26 533.89,31.26 536.07,31.26 538.25,31.27 540.43,31.27 542.61,31.27 544.78,31.28 546.96,31.29 549.14,31.29 551.32,31.31 553.5,31.32 555.67,31.33 557.85,31.35 560.03,31.37 562.21,31.4 564.39,31.44 566.56,31.48 568.74,31.53 570.92,31.59 573.1,31.67 575.28,31.77 577.45,31.88 579.63,32.02 581.81,32.2 583.99,32.41 586.17,32.67 588.34,32.98 590.52,33.37 592.7,33.84 594.88,34.4 597.06,35.09 599.23,35.92 601.41,36.92 603.59,38.12 605.77,39.54 607.95,41.24 610.12,43.24 612.3,45.58 614.48,48.29 616.66,51.4 618.84,54.92 621.02,58.85 623.19,63.17 625.37,67.85 627.55,72.82 629.73,78 631.91,83.28 634.08,88.56 636.26,93.73 638.44,98.69 640.62,103.37 642.8,107.68 644.97,111.61 647.15,115.12 649.33,118.22 651.51,120.92 653.69,123.25 655.86,125.25 658.04,126.94 660.22,128.36 662.4,129.55 664.58,130.55 666.75,131.38 668.93,132.06 671.11,132.62 673.29,133.09 675.47,133.47 677.64,133.79" fill="none" stroke="#f2a33a" stroke-width="1.5" stroke-linejoin="round" />
<rect x="500.7" y="130.96" width="5.4" height="5.4" fill="#3b3b3b"/>
<rect x="516.54" y="130.61" width="5.4" height="5.4" fill="#3b3b3b"/>
<rect x="532.38" y="130.93" width="5.4" height="5.4" fill="#3b3b3b"/>
<rect x="548.22" y="130.88" width="5.4" height="5.4" fill="#3b3b3b"/>
<rect x="564.06" y="131.3" width="5.4" height="5.4" fill="#3b3b3b"/>
<rect x="579.9" y="132.5" width="5.4" height="5.4" fill="#3b3b3b"/>
<rect x="595.74" y="132.89" width="5.4" height="5.4" fill="#3b3b3b"/>
<rect x="611.58" y="131.99" width="5.4" height="5.4" fill="#3b3b3b"/>
<rect x="627.42" y="132.77" width="5.4" height="5.4" fill="#3b3b3b"/>
<rect x="643.26" y="132.83" width="5.4" height="5.4" fill="#3b3b3b"/>
<rect x="659.1" y="131.87" width="5.4" height="5.4" fill="#3b3b3b"/>
<rect x="674.94" y="132.54" width="5.4" height="5.4" fill="#3b3b3b"/>
<rect x="501.2" y="132.59" width="4.4" height="4.4" fill="#fff" stroke="#3b3b3b" stroke-width="1.2"/>
<rect x="500.7" y="134.79" width="5.4" height="2.7" fill="#3b3b3b"/>
<rect x="517.04" y="133.07" width="4.4" height="4.4" fill="#fff" stroke="#3b3b3b" stroke-width="1.2"/>
<rect x="516.54" y="135.27" width="5.4" height="2.7" fill="#3b3b3b"/>
<rect x="532.88" y="132.93" width="4.4" height="4.4" fill="#fff" stroke="#3b3b3b" stroke-width="1.2"/>
<rect x="532.38" y="135.13" width="5.4" height="2.7" fill="#3b3b3b"/>
<rect x="548.72" y="133.71" width="4.4" height="4.4" fill="#fff" stroke="#3b3b3b" stroke-width="1.2"/>
<rect x="548.22" y="135.91" width="5.4" height="2.7" fill="#3b3b3b"/>
<rect x="564.56" y="133.39" width="4.4" height="4.4" fill="#fff" stroke="#3b3b3b" stroke-width="1.2"/>
<rect x="564.06" y="135.59" width="5.4" height="2.7" fill="#3b3b3b"/>
<rect x="580.4" y="133.43" width="4.4" height="4.4" fill="#fff" stroke="#3b3b3b" stroke-width="1.2"/>
<rect x="579.9" y="135.63" width="5.4" height="2.7" fill="#3b3b3b"/>
<rect x="596.24" y="134.08" width="4.4" height="4.4" fill="#fff" stroke="#3b3b3b" stroke-width="1.2"/>
<rect x="595.74" y="136.28" width="5.4" height="2.7" fill="#3b3b3b"/>
<rect x="612.08" y="133.9" width="4.4" height="4.4" fill="#fff" stroke="#3b3b3b" stroke-width="1.2"/>
<rect x="611.58" y="136.1" width="5.4" height="2.7" fill="#3b3b3b"/>
<rect x="627.92" y="134.03" width="4.4" height="4.4" fill="#fff" stroke="#3b3b3b" stroke-width="1.2"/>
<rect x="627.42" y="136.23" width="5.4" height="2.7" fill="#3b3b3b"/>
<rect x="643.76" y="134.8" width="4.4" height="4.4" fill="#fff" stroke="#3b3b3b" stroke-width="1.2"/>
<rect x="643.26" y="137" width="5.4" height="2.7" fill="#3b3b3b"/>
<rect x="659.6" y="133.93" width="4.4" height="4.4" fill="#fff" stroke="#3b3b3b" stroke-width="1.2"/>
<rect x="659.1" y="136.13" width="5.4" height="2.7" fill="#3b3b3b"/>
<rect x="675.44" y="134.14" width="4.4" height="4.4" fill="#fff" stroke="#3b3b3b" stroke-width="1.2"/>
<rect x="674.94" y="136.34" width="5.4" height="2.7" fill="#3b3b3b"/>
<rect x="500.7" y="134.02" width="5.4" height="5.4" fill="#3b3b3b"/>
<rect x="516.54" y="134.39" width="5.4" height="5.4" fill="#3b3b3b"/>
<rect x="532.38" y="133.4" width="5.4" height="5.4" fill="#3b3b3b"/>
<rect x="548.22" y="134.06" width="5.4" height="5.4" fill="#3b3b3b"/>
<rect x="564.06" y="134.05" width="5.4" height="5.4" fill="#3b3b3b"/>
<rect x="579.9" y="134.18" width="5.4" height="5.4" fill="#3b3b3b"/>
<rect x="595.74" y="134.6" width="5.4" height="5.4" fill="#3b3b3b"/>
<rect x="611.58" y="134.43" width="5.4" height="5.4" fill="#3b3b3b"/>
<rect x="627.42" y="135.13" width="5.4" height="5.4" fill="#3b3b3b"/>
<rect x="643.26" y="134.63" width="5.4" height="5.4" fill="#3b3b3b"/>
<rect x="659.1" y="135.09" width="5.4" height="5.4" fill="#3b3b3b"/>
<rect x="674.94" y="134.47" width="5.4" height="5.4" fill="#3b3b3b"/>
<circle cx="503.4" cy="137.25" r="2.7" fill="#3b3b3b"/>
<circle cx="519.24" cy="138.25" r="2.7" fill="#3b3b3b"/>
<circle cx="535.08" cy="138.23" r="2.7" fill="#3b3b3b"/>
<circle cx="550.92" cy="138.21" r="2.7" fill="#3b3b3b"/>
<circle cx="566.76" cy="137.42" r="2.7" fill="#3b3b3b"/>
<circle cx="582.6" cy="138.25" r="2.7" fill="#3b3b3b"/>
<circle cx="598.44" cy="138.11" r="2.7" fill="#3b3b3b"/>
<circle cx="614.28" cy="138.57" r="2.7" fill="#3b3b3b"/>
<circle cx="630.12" cy="138.33" r="2.7" fill="#3b3b3b"/>
<circle cx="645.96" cy="138.49" r="2.7" fill="#3b3b3b"/>
<circle cx="661.8" cy="138.54" r="2.7" fill="#3b3b3b"/>
<circle cx="677.64" cy="138.24" r="2.7" fill="#3b3b3b"/>
<rect x="500.7" y="135.87" width="5.4" height="5.4" fill="#3b3b3b"/>
<rect x="516.54" y="135.47" width="5.4" height="5.4" fill="#3b3b3b"/>
<rect x="532.38" y="135.79" width="5.4" height="5.4" fill="#3b3b3b"/>
<rect x="548.22" y="135.56" width="5.4" height="5.4" fill="#3b3b3b"/>
<rect x="564.06" y="135.8" width="5.4" height="5.4" fill="#3b3b3b"/>
<rect x="579.9" y="135.79" width="5.4" height="5.4" fill="#3b3b3b"/>
<rect x="595.74" y="136.3" width="5.4" height="5.4" fill="#3b3b3b"/>
<rect x="611.58" y="136.99" width="5.4" height="5.4" fill="#3b3b3b"/>
<rect x="627.42" y="136.13" width="5.4" height="5.4" fill="#3b3b3b"/>
<rect x="643.26" y="136.01" width="5.4" height="5.4" fill="#3b3b3b"/>
<rect x="659.1" y="136.08" width="5.4" height="5.4" fill="#3b3b3b"/>
<rect x="674.94" y="136.51" width="5.4" height="5.4" fill="#3b3b3b"/>
<rect x="500.7" y="137.09" width="5.4" height="5.4" fill="#3b3b3b"/>
<rect x="516.54" y="137.42" width="5.4" height="5.4" fill="#3b3b3b"/>
<rect x="532.38" y="137.04" width="5.4" height="5.4" fill="#3b3b3b"/>
<rect x="548.22" y="137.25" width="5.4" height="5.4" fill="#3b3b3b"/>
<rect x="564.06" y="137.5" width="5.4" height="5.4" fill="#3b3b3b"/>
<rect x="579.9" y="137.72" width="5.4" height="5.4" fill="#3b3b3b"/>
<rect x="595.74" y="137.28" width="5.4" height="5.4" fill="#3b3b3b"/>
<rect x="611.58" y="137.22" width="5.4" height="5.4" fill="#3b3b3b"/>
<rect x="627.42" y="137.79" width="5.4" height="5.4" fill="#3b3b3b"/>
<rect x="643.26" y="137.35" width="5.4" height="5.4" fill="#3b3b3b"/>
<rect x="659.1" y="137.6" width="5.4" height="5.4" fill="#3b3b3b"/>
<rect x="674.94" y="137.76" width="5.4" height="5.4" fill="#3b3b3b"/>
<polygon points="503.4,28.47 506.37,31.71 503.4,34.95 500.43,31.71" fill="#2552b0"/>
<polygon points="519.24,29.15 522.21,32.39 519.24,35.63 516.27,32.39" fill="#2552b0"/>
<polygon points="535.08,28.95 538.05,32.19 535.08,35.43 532.11,32.19" fill="#2552b0"/>
<polygon points="550.92,32.58 553.89,35.82 550.92,39.06 547.95,35.82" fill="#2552b0"/>
<polygon points="566.76,40.02 569.73,43.26 566.76,46.5 563.79,43.26" fill="#2552b0"/>
<polygon points="582.6,58.97 585.57,62.21 582.6,65.45 579.63,62.21" fill="#2552b0"/>
<polygon points="598.44,90.06 601.41,93.3 598.44,96.54 595.47,93.3" fill="#2552b0"/>
<polygon points="614.28,118.28 617.25,121.52 614.28,124.76 611.31,121.52" fill="#2552b0"/>
<polygon points="630.12,132.03 633.09,135.27 630.12,138.51 627.15,135.27" fill="#2552b0"/>
<polygon points="645.96,135.35 648.93,138.59 645.96,141.83 642.99,138.59" fill="#2552b0"/>
<polygon points="661.8,137.94 664.77,141.18 661.8,144.42 658.83,141.18" fill="#2552b0"/>
<polygon points="677.64,137.19 680.61,140.43 677.64,143.67 674.67,140.43" fill="#2552b0"/>
<rect x="501.2" y="28.31" width="4.4" height="4.4" fill="#fff" stroke="#9c44b8" stroke-width="1.2"/>
<rect x="517.04" y="29.33" width="4.4" height="4.4" fill="#fff" stroke="#9c44b8" stroke-width="1.2"/>
<rect x="532.88" y="29.32" width="4.4" height="4.4" fill="#fff" stroke="#9c44b8" stroke-width="1.2"/>
<rect x="548.72" y="29.79" width="4.4" height="4.4" fill="#fff" stroke="#9c44b8" stroke-width="1.2"/>
<rect x="564.56" y="31.78" width="4.4" height="4.4" fill="#fff" stroke="#9c44b8" stroke-width="1.2"/>
<rect x="580.4" y="39.83" width="4.4" height="4.4" fill="#fff" stroke="#9c44b8" stroke-width="1.2"/>
<rect x="596.24" y="62.19" width="4.4" height="4.4" fill="#fff" stroke="#9c44b8" stroke-width="1.2"/>
<rect x="612.08" y="97.36" width="4.4" height="4.4" fill="#fff" stroke="#9c44b8" stroke-width="1.2"/>
<rect x="627.92" y="121.96" width="4.4" height="4.4" fill="#fff" stroke="#9c44b8" stroke-width="1.2"/>
<rect x="643.76" y="132.41" width="4.4" height="4.4" fill="#fff" stroke="#9c44b8" stroke-width="1.2"/>
<rect x="659.6" y="135.31" width="4.4" height="4.4" fill="#fff" stroke="#9c44b8" stroke-width="1.2"/>
<rect x="675.44" y="135.49" width="4.4" height="4.4" fill="#fff" stroke="#9c44b8" stroke-width="1.2"/>
<polygon points="503.4,28.65 506.37,34.05 500.43,34.05" fill="#e8545e"/>
<polygon points="519.24,28.54 522.21,33.94 516.27,33.94" fill="#e8545e"/>
<polygon points="535.08,27.31 538.05,32.71 532.11,32.71" fill="#e8545e"/>
<polygon points="550.92,28.37 553.89,33.77 547.95,33.77" fill="#e8545e"/>
<polygon points="566.76,29.09 569.73,34.49 563.79,34.49" fill="#e8545e"/>
<polygon points="582.6,33.06 585.57,38.46 579.63,38.46" fill="#e8545e"/>
<polygon points="598.44,42.48 601.41,47.88 595.47,47.88" fill="#e8545e"/>
<polygon points="614.28,68.09 617.25,73.49 611.31,73.49" fill="#e8545e"/>
<polygon points="630.12,103.72 633.09,109.12 627.15,109.12" fill="#e8545e"/>
<polygon points="645.96,123.45 648.93,128.85 642.99,128.85" fill="#e8545e"/>
<polygon points="661.8,130.69 664.77,136.09 658.83,136.09" fill="#e8545e"/>
<polygon points="677.64,133.8 680.61,139.2 674.67,139.2" fill="#e8545e"/>
<rect x="500.7" y="28.31" width="5.4" height="5.4" fill="#5db843"/>
<rect x="516.54" y="28.62" width="5.4" height="5.4" fill="#5db843"/>
<rect x="532.38" y="28.23" width="5.4" height="5.4" fill="#5db843"/>
<rect x="548.22" y="28.92" width="5.4" height="5.4" fill="#5db843"/>
<rect x="564.06" y="28.53" width="5.4" height="5.4" fill="#5db843"/>
<rect x="579.9" y="29.63" width="5.4" height="5.4" fill="#5db843"/>
<rect x="595.74" y="35.55" width="5.4" height="5.4" fill="#5db843"/>
<rect x="611.58" y="50.82" width="5.4" height="5.4" fill="#5db843"/>
<rect x="627.42" y="82.29" width="5.4" height="5.4" fill="#5db843"/>
<rect x="643.26" y="112.8" width="5.4" height="5.4" fill="#5db843"/>
<rect x="659.1" y="127.74" width="5.4" height="5.4" fill="#5db843"/>
<rect x="674.94" y="131.28" width="5.4" height="5.4" fill="#5db843"/>
<polygon points="503.4,27.97 506.37,33.37 500.43,33.37" fill="#f2a33a"/>
<polygon points="519.24,28.49 522.21,33.89 516.27,33.89" fill="#f2a33a"/>
<polygon points="535.08,28.41 538.05,33.81 532.11,33.81" fill="#f2a33a"/>
<polygon points="550.92,28.55 553.89,33.95 547.95,33.95" fill="#f2a33a"/>
<polygon points="566.76,28.63 569.73,34.03 563.79,34.03" fill="#f2a33a"/>
<polygon points="582.6,28.98 585.57,34.38 579.63,34.38" fill="#f2a33a"/>
<polygon points="598.44,32.87 601.41,38.27 595.47,38.27" fill="#f2a33a"/>
<polygon points="614.28,45.15 617.25,50.55 611.31,50.55" fill="#f2a33a"/>
<polygon points="630.12,75.33 633.09,80.73 627.15,80.73" fill="#f2a33a"/>
<polygon points="645.96,111.04 648.93,116.44 642.99,116.44" fill="#f2a33a"/>
<polygon points="661.8,126.01 664.77,131.41 658.83,131.41" fill="#f2a33a"/>
<polygon points="677.64,130.24 680.61,135.64 674.67,135.64" fill="#f2a33a"/>
<line x1="496.8" y1="14.8" x2="496.8" y2="142.3" stroke="#000" stroke-width="1.5"/>
<line x1="496.1" y1="141.5" x2="684" y2="141.5" stroke="#000" stroke-width="1.5"/>
<line x1="493.8" y1="141.5" x2="496.8" y2="141.5" stroke="#000" stroke-width="1.0"/>
<text x="492.5" y="145" font-size="8.4" text-anchor="end" fill="#1a1a1a" stroke="#1a1a1a" font-weight="normal" >0.0</text>
<line x1="495.2" y1="133.62" x2="496.8" y2="133.62" stroke="#000" stroke-width="1.0"/>
<line x1="493.8" y1="125.75" x2="496.8" y2="125.75" stroke="#000" stroke-width="1.0"/>
<text x="492.5" y="129.25" font-size="8.4" text-anchor="end" fill="#1a1a1a" stroke="#1a1a1a" font-weight="normal" >0.5</text>
<line x1="495.2" y1="117.88" x2="496.8" y2="117.88" stroke="#000" stroke-width="1.0"/>
<line x1="493.8" y1="110" x2="496.8" y2="110" stroke="#000" stroke-width="1.0"/>
<text x="492.5" y="113.5" font-size="8.4" text-anchor="end" fill="#1a1a1a" stroke="#1a1a1a" font-weight="normal" >1.0</text>
<line x1="495.2" y1="102.12" x2="496.8" y2="102.12" stroke="#000" stroke-width="1.0"/>
<line x1="493.8" y1="94.25" x2="496.8" y2="94.25" stroke="#000" stroke-width="1.0"/>
<text x="492.5" y="97.75" font-size="8.4" text-anchor="end" fill="#1a1a1a" stroke="#1a1a1a" font-weight="normal" >1.5</text>
<line x1="495.2" y1="86.38" x2="496.8" y2="86.38" stroke="#000" stroke-width="1.0"/>
<line x1="493.8" y1="78.5" x2="496.8" y2="78.5" stroke="#000" stroke-width="1.0"/>
<text x="492.5" y="82" font-size="8.4" text-anchor="end" fill="#1a1a1a" stroke="#1a1a1a" font-weight="normal" >2.0</text>
<line x1="495.2" y1="70.62" x2="496.8" y2="70.62" stroke="#000" stroke-width="1.0"/>
<line x1="493.8" y1="62.75" x2="496.8" y2="62.75" stroke="#000" stroke-width="1.0"/>
<text x="492.5" y="66.25" font-size="8.4" text-anchor="end" fill="#1a1a1a" stroke="#1a1a1a" font-weight="normal" >2.5</text>
<line x1="495.2" y1="54.88" x2="496.8" y2="54.88" stroke="#000" stroke-width="1.0"/>
<line x1="493.8" y1="47" x2="496.8" y2="47" stroke="#000" stroke-width="1.0"/>
<text x="492.5" y="50.5" font-size="8.4" text-anchor="end" fill="#1a1a1a" stroke="#1a1a1a" font-weight="normal" >3.0</text>
<line x1="495.2" y1="39.12" x2="496.8" y2="39.12" stroke="#000" stroke-width="1.0"/>
<line x1="493.8" y1="31.25" x2="496.8" y2="31.25" stroke="#000" stroke-width="1.0"/>
<text x="492.5" y="34.75" font-size="8.4" text-anchor="end" fill="#1a1a1a" stroke="#1a1a1a" font-weight="normal" >3.5</text>
<line x1="495.2" y1="23.38" x2="496.8" y2="23.38" stroke="#000" stroke-width="1.0"/>
<line x1="493.8" y1="15.5" x2="496.8" y2="15.5" stroke="#000" stroke-width="1.0"/>
<text x="492.5" y="19" font-size="8.4" text-anchor="end" fill="#1a1a1a" stroke="#1a1a1a" font-weight="normal" >4.0</text>
<line x1="503.4" y1="141.5" x2="503.4" y2="144.5" stroke="#000" stroke-width="1.0"/>
<text x="503.4" y="152.8" font-size="8.3" text-anchor="middle" fill="#222" stroke="#222" font-weight="normal" >10</text>
<line x1="536.6" y1="141.5" x2="536.6" y2="144.5" stroke="#000" stroke-width="1.0"/>
<text x="536.6" y="152.8" font-size="8.3" text-anchor="middle" fill="#222" stroke="#222" font-weight="normal" >1</text>
<line x1="569.8" y1="141.5" x2="569.8" y2="144.5" stroke="#000" stroke-width="1.0"/>
<text x="569.8" y="152.8" font-size="8.3" text-anchor="middle" fill="#222" stroke="#222" font-weight="normal" >0.1</text>
<line x1="603" y1="141.5" x2="603" y2="144.5" stroke="#000" stroke-width="1.0"/>
<text x="603" y="152.8" font-size="8.3" text-anchor="middle" fill="#222" stroke="#222" font-weight="normal" >0.01</text>
<line x1="636.2" y1="141.5" x2="636.2" y2="144.5" stroke="#000" stroke-width="1.0"/>
<text x="636.2" y="152.8" font-size="8.3" text-anchor="middle" fill="#222" stroke="#222" font-weight="normal" >0.001</text>
<line x1="669.4" y1="141.5" x2="669.4" y2="144.5" stroke="#000" stroke-width="1.0"/>
<text x="669.4" y="152.8" font-size="8.3" text-anchor="middle" fill="#222" stroke="#222" font-weight="normal" >0.0001</text>
<line x1="526.61" y1="141.5" x2="526.61" y2="143.3" stroke="#000" stroke-width="0.8"/>
<line x1="520.76" y1="141.5" x2="520.76" y2="143.3" stroke="#000" stroke-width="0.8"/>
<line x1="516.61" y1="141.5" x2="516.61" y2="143.3" stroke="#000" stroke-width="0.8"/>
<line x1="513.39" y1="141.5" x2="513.39" y2="143.3" stroke="#000" stroke-width="0.8"/>
<line x1="510.77" y1="141.5" x2="510.77" y2="143.3" stroke="#000" stroke-width="0.8"/>
<line x1="508.54" y1="141.5" x2="508.54" y2="143.3" stroke="#000" stroke-width="0.8"/>
<line x1="506.62" y1="141.5" x2="506.62" y2="143.3" stroke="#000" stroke-width="0.8"/>
<line x1="504.92" y1="141.5" x2="504.92" y2="143.3" stroke="#000" stroke-width="0.8"/>
<line x1="559.81" y1="141.5" x2="559.81" y2="143.3" stroke="#000" stroke-width="0.8"/>
<line x1="553.96" y1="141.5" x2="553.96" y2="143.3" stroke="#000" stroke-width="0.8"/>
<line x1="549.81" y1="141.5" x2="549.81" y2="143.3" stroke="#000" stroke-width="0.8"/>
<line x1="546.59" y1="141.5" x2="546.59" y2="143.3" stroke="#000" stroke-width="0.8"/>
<line x1="543.97" y1="141.5" x2="543.97" y2="143.3" stroke="#000" stroke-width="0.8"/>
<line x1="541.74" y1="141.5" x2="541.74" y2="143.3" stroke="#000" stroke-width="0.8"/>
<line x1="539.82" y1="141.5" x2="539.82" y2="143.3" stroke="#000" stroke-width="0.8"/>
<line x1="538.12" y1="141.5" x2="538.12" y2="143.3" stroke="#000" stroke-width="0.8"/>
<line x1="593.01" y1="141.5" x2="593.01" y2="143.3" stroke="#000" stroke-width="0.8"/>
<line x1="587.16" y1="141.5" x2="587.16" y2="143.3" stroke="#000" stroke-width="0.8"/>
<line x1="583.01" y1="141.5" x2="583.01" y2="143.3" stroke="#000" stroke-width="0.8"/>
<line x1="579.79" y1="141.5" x2="579.79" y2="143.3" stroke="#000" stroke-width="0.8"/>
<line x1="577.17" y1="141.5" x2="577.17" y2="143.3" stroke="#000" stroke-width="0.8"/>
<line x1="574.94" y1="141.5" x2="574.94" y2="143.3" stroke="#000" stroke-width="0.8"/>
<line x1="573.02" y1="141.5" x2="573.02" y2="143.3" stroke="#000" stroke-width="0.8"/>
<line x1="571.32" y1="141.5" x2="571.32" y2="143.3" stroke="#000" stroke-width="0.8"/>
<line x1="626.21" y1="141.5" x2="626.21" y2="143.3" stroke="#000" stroke-width="0.8"/>
<line x1="620.36" y1="141.5" x2="620.36" y2="143.3" stroke="#000" stroke-width="0.8"/>
<line x1="616.21" y1="141.5" x2="616.21" y2="143.3" stroke="#000" stroke-width="0.8"/>
<line x1="612.99" y1="141.5" x2="612.99" y2="143.3" stroke="#000" stroke-width="0.8"/>
<line x1="610.37" y1="141.5" x2="610.37" y2="143.3" stroke="#000" stroke-width="0.8"/>
<line x1="608.14" y1="141.5" x2="608.14" y2="143.3" stroke="#000" stroke-width="0.8"/>
<line x1="606.22" y1="141.5" x2="606.22" y2="143.3" stroke="#000" stroke-width="0.8"/>
<line x1="604.52" y1="141.5" x2="604.52" y2="143.3" stroke="#000" stroke-width="0.8"/>
<line x1="659.41" y1="141.5" x2="659.41" y2="143.3" stroke="#000" stroke-width="0.8"/>
<line x1="653.56" y1="141.5" x2="653.56" y2="143.3" stroke="#000" stroke-width="0.8"/>
<line x1="649.41" y1="141.5" x2="649.41" y2="143.3" stroke="#000" stroke-width="0.8"/>
<line x1="646.19" y1="141.5" x2="646.19" y2="143.3" stroke="#000" stroke-width="0.8"/>
<line x1="643.57" y1="141.5" x2="643.57" y2="143.3" stroke="#000" stroke-width="0.8"/>
<line x1="641.34" y1="141.5" x2="641.34" y2="143.3" stroke="#000" stroke-width="0.8"/>
<line x1="639.42" y1="141.5" x2="639.42" y2="143.3" stroke="#000" stroke-width="0.8"/>
<line x1="637.72" y1="141.5" x2="637.72" y2="143.3" stroke="#000" stroke-width="0.8"/>
<line x1="682.61" y1="141.5" x2="682.61" y2="143.3" stroke="#000" stroke-width="0.8"/>
<line x1="679.39" y1="141.5" x2="679.39" y2="143.3" stroke="#000" stroke-width="0.8"/>
<line x1="676.77" y1="141.5" x2="676.77" y2="143.3" stroke="#000" stroke-width="0.8"/>
<line x1="674.54" y1="141.5" x2="674.54" y2="143.3" stroke="#000" stroke-width="0.8"/>
<line x1="672.62" y1="141.5" x2="672.62" y2="143.3" stroke="#000" stroke-width="0.8"/>
<line x1="670.92" y1="141.5" x2="670.92" y2="143.3" stroke="#000" stroke-width="0.8"/>
<text x="588" y="11.6" font-size="11.2" text-anchor="middle" fill="#111" stroke="#111" font-weight="normal" >SARS-CoV-2 S-RBD</text>
<text x="474.2" y="74.7" font-size="8.3" text-anchor="middle" fill="#222" stroke="#222" font-weight="normal" transform="rotate(-90 474.2 74.7)">OD450nm</text>
<text x="580.8" y="164" font-size="8.3" text-anchor="middle" fill="#222" stroke="#222" font-weight="normal" >concentration of antibody(μg/ml)</text>
<polygon points="503.4,113.73 506.04,116.61 503.4,119.49 500.76,116.61" fill="#a57d4a"/>
<line x1="29.8" y1="180.2" x2="46.8" y2="180.2" stroke="#3b3b3b" stroke-width="1.8"/>
<circle cx="38.3" cy="180.2" r="3.1" fill="#3b3b3b"/>
<text x="55.3" y="183.4" font-size="8.3" text-anchor="start" fill="#222" stroke="#222" font-weight="normal" >nCoV491</text>
<line x1="120" y1="180.2" x2="137" y2="180.2" stroke="#3b3b3b" stroke-width="1.8"/>
<rect x="125.4" y="177.1" width="6.2" height="6.2" fill="#3b3b3b"/>
<text x="145.5" y="183.4" font-size="8.3" text-anchor="start" fill="#222" stroke="#222" font-weight="normal" >nCoV497</text>
<line x1="220.3" y1="180.2" x2="237.3" y2="180.2" stroke="#3b3b3b" stroke-width="1.8"/>
<polygon points="228.8,176.63 232.21,182.83 225.39,182.83" fill="#3b3b3b"/>
<text x="245.8" y="183.4" font-size="8.3" text-anchor="start" fill="#222" stroke="#222" font-weight="normal" >nCoV501</text>
<line x1="320" y1="180.2" x2="337" y2="180.2" stroke="#111" stroke-width="1.8"/>
<polygon points="328.5,183.76 331.91,177.56 325.09,177.56" fill="#111"/>
<text x="345.5" y="183.4" font-size="8.3" text-anchor="start" fill="#222" stroke="#222" font-weight="normal" >nCoV503</text>
<line x1="420" y1="180.2" x2="437" y2="180.2" stroke="#3b3b3b" stroke-width="1.8"/>
<polygon points="428.5,177.64 431.06,180.2 428.5,182.76 425.94,180.2" fill="#3b3b3b"/>
<text x="445.5" y="183.4" font-size="8.3" text-anchor="start" fill="#222" stroke="#222" font-weight="normal" >nCoV507</text>
<line x1="520.4" y1="180.2" x2="537.4" y2="180.2" stroke="#3b3b3b" stroke-width="1.8"/>
<circle cx="528.9" cy="180.2" r="1.4" fill="#3b3b3b"/>
<text x="545.9" y="183.4" font-size="8.3" text-anchor="start" fill="#222" stroke="#222" font-weight="normal" >nCoV511</text>
<line x1="620" y1="180.2" x2="637" y2="180.2" stroke="#3b3b3b" stroke-width="1.8"/>
<circle cx="628.5" cy="180.2" r="2.4" fill="#fff" stroke="#3b3b3b" stroke-width="1.69"/>
<line x1="625.9" y1="180.2" x2="631.1" y2="180.2" stroke="#3b3b3b" stroke-width="1.3"/>
<text x="645.5" y="183.4" font-size="8.3" text-anchor="start" fill="#222" stroke="#222" font-weight="normal" >nCoV514</text>
<line x1="29.8" y1="196.8" x2="46.8" y2="196.8" stroke="#3b3b3b" stroke-width="1.8"/>
<circle cx="38.3" cy="196.8" r="2.4" fill="#fff" stroke="#3b3b3b" stroke-width="1.69"/>
<line x1="35.7" y1="196.8" x2="40.9" y2="196.8" stroke="#3b3b3b" stroke-width="1.3"/>
<text x="55.3" y="200" font-size="8.3" text-anchor="start" fill="#222" stroke="#222" font-weight="normal" >nCoV526</text>
<line x1="120" y1="196.8" x2="137" y2="196.8" stroke="#5db843" stroke-width="1.8"/>
<rect x="125.4" y="193.7" width="6.2" height="6.2" fill="#5db843"/>
<text x="145.5" y="200" font-size="8.3" text-anchor="start" fill="#222" stroke="#222" font-weight="normal" >nCoV531</text>
<line x1="220.3" y1="196.8" x2="237.3" y2="196.8" stroke="#3b3b3b" stroke-width="1.8"/>
<rect x="225.7" y="193.7" width="6.2" height="6.2" fill="#3b3b3b"/>
<text x="245.8" y="200" font-size="8.3" text-anchor="start" fill="#222" stroke="#222" font-weight="normal" >nCoV543</text>
<line x1="320" y1="196.8" x2="337" y2="196.8" stroke="#3b3b3b" stroke-width="1.8"/>
<polygon points="328.5,193.24 331.91,199.44 325.09,199.44" fill="#3b3b3b"/>
<text x="345.5" y="200" font-size="8.3" text-anchor="start" fill="#222" stroke="#222" font-weight="normal" >nCoV549</text>
<line x1="420" y1="196.8" x2="437" y2="196.8" stroke="#3b3b3b" stroke-width="1.8"/>
<rect x="425.4" y="193.7" width="6.2" height="6.2" fill="#3b3b3b"/>
<text x="445.5" y="200" font-size="8.3" text-anchor="start" fill="#222" stroke="#222" font-weight="normal" >nCoV556</text>
<line x1="520.4" y1="196.8" x2="537.4" y2="196.8" stroke="#3b3b3b" stroke-width="1.8"/>
<circle cx="528.9" cy="196.8" r="3.1" fill="#3b3b3b"/>
<text x="545.9" y="200" font-size="8.3" text-anchor="start" fill="#222" stroke="#222" font-weight="normal" >nCoV573</text>
<line x1="620" y1="196.8" x2="637" y2="196.8" stroke="#3b3b3b" stroke-width="1.8"/>
<line x1="628.5" y1="196.8" x2="628.5" y2="193.7" stroke="#3b3b3b" stroke-width="1.3"/>
<line x1="628.5" y1="196.8" x2="625.82" y2="198.35" stroke="#3b3b3b" stroke-width="1.3"/>
<line x1="628.5" y1="196.8" x2="631.18" y2="198.35" stroke="#3b3b3b" stroke-width="1.3"/>
<line x1="625.4" y1="196.8" x2="631.6" y2="196.8" stroke="#3b3b3b" stroke-width="1.3"/>
<text x="645.5" y="200" font-size="8.3" text-anchor="start" fill="#222" stroke="#222" font-weight="normal" >nCoV581</text>
<line x1="29.8" y1="213.2" x2="46.8" y2="213.2" stroke="#3b3b3b" stroke-width="1.8"/>
<line x1="38.3" y1="210.1" x2="38.3" y2="216.3" stroke="#3b3b3b" stroke-width="1.3"/>
<text x="55.3" y="216.4" font-size="8.3" text-anchor="start" fill="#222" stroke="#222" font-weight="normal" >nCoV591</text>
<line x1="120" y1="213.2" x2="137" y2="213.2" stroke="#3b3b3b" stroke-width="1.8"/>
<line x1="125.4" y1="210.1" x2="131.6" y2="216.3" stroke="#3b3b3b" stroke-width="1.3"/>
<line x1="125.4" y1="216.3" x2="131.6" y2="210.1" stroke="#3b3b3b" stroke-width="1.3"/>
<text x="145.5" y="216.4" font-size="8.3" text-anchor="start" fill="#222" stroke="#222" font-weight="normal" >nCoV597</text>
<line x1="220.3" y1="213.2" x2="237.3" y2="213.2" stroke="#3b3b3b" stroke-width="1.8"/>
<circle cx="228.8" cy="213.2" r="3.1" fill="#3b3b3b"/>
<text x="245.8" y="216.4" font-size="8.3" text-anchor="start" fill="#222" stroke="#222" font-weight="normal" >nCoV599</text>
<line x1="320" y1="213.2" x2="337" y2="213.2" stroke="#3b3b3b" stroke-width="1.8"/>
<rect x="325.9" y="210.6" width="5.2" height="5.2" fill="#fff" stroke="#3b3b3b" stroke-width="1.3"/>
<rect x="325.4" y="213.2" width="6.2" height="3.1" fill="#3b3b3b"/>
<text x="345.5" y="216.4" font-size="8.3" text-anchor="start" fill="#222" stroke="#222" font-weight="normal" >nCoV600</text>
<line x1="420" y1="213.2" x2="437" y2="213.2" stroke="#3b3b3b" stroke-width="1.8"/>
<rect x="425.9" y="210.6" width="5.2" height="5.2" fill="#fff" stroke="#3b3b3b" stroke-width="1.3"/>
<rect x="425.4" y="213.2" width="6.2" height="3.1" fill="#3b3b3b"/>
<text x="445.5" y="216.4" font-size="8.3" text-anchor="start" fill="#222" stroke="#222" font-weight="normal" >nCoV602</text>
<line x1="520.4" y1="213.2" x2="537.4" y2="213.2" stroke="#9c44b8" stroke-width="1.8"/>
<rect x="526.3" y="210.6" width="5.2" height="5.2" fill="#fff" stroke="#9c44b8" stroke-width="1.3"/>
<text x="545.9" y="216.4" font-size="8.3" text-anchor="start" fill="#222" stroke="#222" font-weight="normal" >nCoV604</text>
<line x1="620" y1="213.2" x2="637" y2="213.2" stroke="#3b3b3b" stroke-width="1.8"/>
<rect x="625.9" y="210.6" width="5.2" height="5.2" fill="#fff" stroke="#3b3b3b" stroke-width="1.3"/>
<rect x="625.4" y="213.2" width="6.2" height="3.1" fill="#3b3b3b"/>
<text x="645.5" y="216.4" font-size="8.3" text-anchor="start" fill="#222" stroke="#222" font-weight="normal" >nCoV606</text>
<line x1="29.8" y1="229.7" x2="46.8" y2="229.7" stroke="#3b3b3b" stroke-width="1.8"/>
<polygon points="38.3,233.26 41.71,227.06 34.89,227.06" fill="#3b3b3b"/>
<text x="55.3" y="232.9" font-size="8.3" text-anchor="start" fill="#222" stroke="#222" font-weight="normal" >nCoV626</text>
<line x1="120" y1="229.7" x2="137" y2="229.7" stroke="#3b3b3b" stroke-width="1.8"/>
<polygon points="128.5,233.26 131.91,227.06 125.09,227.06" fill="#3b3b3b"/>
<text x="145.5" y="232.9" font-size="8.3" text-anchor="start" fill="#222" stroke="#222" font-weight="normal" >nCoV650</text>
<line x1="220.3" y1="229.7" x2="237.3" y2="229.7" stroke="#e8545e" stroke-width="1.8"/>
<polygon points="228.8,226.13 232.21,232.33 225.39,232.33" fill="#e8545e"/>
<text x="245.8" y="232.9" font-size="8.3" text-anchor="start" fill="#222" stroke="#222" font-weight="normal" >nCoV617</text>
<line x1="320" y1="229.7" x2="337" y2="229.7" stroke="#3b3b3b" stroke-width="1.8"/>
<polygon points="328.5,225.98 331.91,229.7 328.5,233.42 325.09,229.7" fill="#3b3b3b"/>
<text x="345.5" y="232.9" font-size="8.3" text-anchor="start" fill="#222" stroke="#222" font-weight="normal" >nCoV654</text>
<line x1="420" y1="229.7" x2="437" y2="229.7" stroke="#f2a33a" stroke-width="1.8"/>
<polygon points="428.5,226.13 431.91,232.33 425.09,232.33" fill="#f2a33a"/>
<text x="445.5" y="232.9" font-size="8.3" text-anchor="start" fill="#222" stroke="#222" font-weight="normal" >nCoV608</text>
<line x1="520.4" y1="229.7" x2="537.4" y2="229.7" stroke="#2552b0" stroke-width="1.8"/>
<polygon points="528.9,225.98 532.31,229.7 528.9,233.42 525.49,229.7" fill="#2552b0"/>
<text x="545.9" y="232.9" font-size="8.3" text-anchor="start" fill="#222" stroke="#222" font-weight="normal" >nCoV653</text>
<line x1="620" y1="229.7" x2="637" y2="229.7" stroke="#3a3a3a" stroke-width="1.8"/>
<polygon points="628.5,225.98 631.91,229.7 628.5,233.42 625.09,229.7" fill="#a57d4a"/>
<text x="645.5" y="232.9" font-size="8.3" text-anchor="start" fill="#222" stroke="#222" font-weight="normal" >nCoV657</text>
<polyline points="36.7,356.81 37.45,356.09 38.2,356.06 38.96,356.39 39.71,356.07 40.46,356.01 41.21,355.73 41.97,355.5 42.72,355.99 43.47,355.94 44.22,355.14 44.98,355.38 45.73,354.99 46.48,355.53 47.23,355.04 47.99,354.7 48.74,355.01 49.49,354.29 50.24,354.22 51,354.86 51.75,354.76 52.5,354.21 53.25,353.76 54.01,354.13 54.76,354.17 55.51,353.88 56.26,354.11 57.01,353.84 57.77,353.55 58.52,353.39 59.27,353.51 60.02,353.4 60.78,353.31 61.53,352.99 62.28,353.03 63.03,353.15 63.79,352.34 64.54,352.48 65.29,352.3 66.04,352.58 66.8,351.78 67.55,351.79 68.3,352.32 69.05,352.03 69.81,351.59 70.56,351.49 71.31,351.19 72.06,351.52 72.82,351.06 73.57,351.09 74.32,351.3 75.07,350.95 75.82,350.59 76.58,350.51 77.33,350.7 78.08,350.52 78.83,350.89 79.59,350.6 80.34,350.02 81.09,350.24 81.84,350.34 82.36,350.06 82.87,350.12 82.87,350.11 84.24,350.07 85.61,350.18 86.97,350.5 88.34,350.5 89.71,350.49 91.08,350.3 92.45,350.55 93.81,350.69 95.18,350.64 96.55,351.06 97.92,351.07 99.29,350.53 100.65,350.31 102.02,350.66 103.39,350.85 104.76,351.06 106.13,350.8 107.49,350.41 108.86,350.61 110.23,350.82 111.6,350.57 112.97,351.12 114.33,350.9 115.7,350.54 117.07,350.88 118.44,351 119.81,351.18 121.17,350.96 122.54,350.63 123.91,351.46 125.28,350.81 126.65,350.8 128.01,350.76 129.38,350.9 130.75,350.86 132.12,351.13 133.49,351.11 134.85,351.24 136.22,351.58 137.59,350.9 138.96,351.17 140.33,351.51 141.69,351.27 143.06,351.3 144.43,351.43 145.8,351.46 147.17,351.31 148.53,351.25 149.9,351.28 151.27,351.43 152.64,351.82 154.01,351.66 155.37,351.73 156.74,351.39 158.11,351.17 159.48,351.25 160.85,351.27 162.21,351.27 163.58,351.77 164.95,351.28" fill="none" stroke="#333333" stroke-width="1.05" stroke-linejoin="round" />
<polyline points="36.7,356.11 37.45,355.95 38.2,356.55 38.96,356.36 39.71,355.55 40.46,355.47 41.21,355.37 41.97,355.51 42.72,355.09 43.47,354.93 44.22,354.78 44.98,354.98 45.73,354.58 46.48,354.45 47.23,354 47.99,353.61 48.74,353.48 49.49,353.66 50.24,353.58 51,353.57 51.75,353.61 52.5,353.45 53.25,352.91 54.01,352.87 54.76,352.65 55.51,352.05 56.26,352.2 57.01,352 57.77,352.12 58.52,352.13 59.27,351.71 60.02,351.71 60.78,351.22 61.53,350.64 62.28,350.75 63.03,351.01 63.79,350.23 64.54,350.15 65.29,350.04 66.04,349.73 66.8,349.69 67.55,349.5 68.3,349.71 69.05,349.01 69.81,348.86 70.56,349.38 71.31,348.71 72.06,348.58 72.82,348.63 73.57,348.41 74.32,348.28 75.07,347.74 75.82,347.94 76.58,347.49 77.33,347.73 78.08,347.12 78.83,346.94 79.59,347.15 80.34,346.89 81.09,346.43 81.84,346.43 82.36,320.85 82.87,346.33 82.87,346.01 84.24,345.73 85.61,345.35 86.97,344.87 88.34,345.25 89.71,344.57 91.08,345.11 92.45,344.56 93.81,345.09 95.18,344.55 96.55,344.79 97.92,344.98 99.29,345 100.65,344.9 102.02,344.98 103.39,345.25 104.76,345.36 106.13,345.12 107.49,344.79 108.86,345.08 110.23,345.57 111.6,344.96 112.97,345.06 114.33,344.93 115.7,345.57 117.07,345.12 118.44,345.74 119.81,345.25 121.17,345.6 122.54,345.67 123.91,345.14 125.28,345.82 126.65,345.49 128.01,345.23 129.38,345.78 130.75,345.83 132.12,345.28 133.49,345.7 134.85,345.47 136.22,346.09 137.59,345.83 138.96,346.02 140.33,345.61 141.69,346.14 143.06,345.42 144.43,346.24 145.8,345.66 147.17,346.3 148.53,346.12 149.9,345.67 151.27,346.25 152.64,346.26 154.01,345.85 155.37,346.13 156.74,346.45 158.11,345.66 159.48,346.41 160.85,346.53 162.21,346.29 163.58,346.09 164.95,346" fill="none" stroke="#f0a048" stroke-width="1.05" stroke-linejoin="round" />
<polyline points="36.7,356.95 37.45,356.03 38.2,355.94 38.96,355.14 39.71,354.71 40.46,355.28 41.21,354.97 41.97,353.16 42.72,353.76 43.47,353.41 44.22,351.71 44.98,352.22 45.73,351.2 46.48,351.42 47.23,350.75 47.99,351.19 48.74,349.97 49.49,349.17 50.24,349.37 51,348.61 51.75,348.33 52.5,348.98 53.25,347.39 54.01,347.29 54.76,347.39 55.51,347.46 56.26,345.64 57.01,345.92 57.77,345.1 58.52,344.43 59.27,344.32 60.02,343.57 60.78,344.08 61.53,342.99 62.28,343.21 63.03,341.97 63.79,341.68 64.54,342.62 65.29,342.16 66.04,341.63 66.8,339.95 67.55,340.47 68.3,339.75 69.05,339.91 69.81,339.16 70.56,338.98 71.31,338.65 72.06,337.85 72.82,337.46 73.57,336.51 74.32,336.5 75.07,335.68 75.82,335.41 76.58,334.79 77.33,334.95 78.08,335.42 78.83,333.83 79.59,333.26 80.34,332.97 81.09,333.15 81.84,332.51 82.36,329.66 82.87,333.07 82.87,333.83 84.24,333.15 85.61,333.84 86.97,334.5 88.34,334.98 89.71,333.7 91.08,333.53 92.45,335.13 93.81,333.95 95.18,334.66 96.55,335.15 97.92,334.94 99.29,334.16 100.65,334.02 102.02,335.48 103.39,334.53 104.76,335.55 106.13,334.43 107.49,335.13 108.86,334.22 110.23,334.08 111.6,334.94 112.97,334.12 114.33,335.34 115.7,335.78 117.07,334.92 118.44,335.93 119.81,335.68 121.17,335.35 122.54,335.04 123.91,335.86 125.28,336.09 126.65,334.71 128.01,335.69 129.38,334.62 130.75,334.76 132.12,335.69 133.49,335.59 134.85,335.52 136.22,335.34 137.59,335.46 138.96,335.56 140.33,335.49 141.69,334.97 143.06,335.76 144.43,335.92 145.8,335.46 147.17,336.33 148.53,336.25 149.9,335.13 151.27,335.95 152.64,335.94 154.01,336.89 155.37,336.24 156.74,335.99 158.11,336.99 159.48,336 160.85,336.01 162.21,337.02 163.58,336.09 164.95,336.4" fill="none" stroke="#7444a8" stroke-width="1.05" stroke-linejoin="round" />
<polyline points="36.7,356.84 37.45,356.64 38.2,355.88 38.96,355.82 39.71,355.56 40.46,354.75 41.21,353.71 41.97,353.48 42.72,353.15 43.47,353.48 44.22,352.69 44.98,352.65 45.73,352.41 46.48,352.12 47.23,351.61 47.99,350.31 48.74,350.06 49.49,349.72 50.24,349.35 51,349.75 51.75,349.23 52.5,348.44 53.25,347.93 54.01,347.4 54.76,346.99 55.51,347.64 56.26,346.59 57.01,346.13 57.77,345.97 58.52,346.02 59.27,345.26 60.02,345.38 60.78,343.91 61.53,343.63 62.28,343.66 63.03,343.6 63.79,342.44 64.54,342.5 65.29,341.73 66.04,341.39 66.8,341.46 67.55,341.2 68.3,340.59 69.05,340.43 69.81,340.4 70.56,339.84 71.31,338.81 72.06,339.43 72.82,339.05 73.57,337.92 74.32,337.99 75.07,337.29 75.82,336.99 76.58,336.78 77.33,335.57 78.08,336.22 78.83,335.57 79.59,335.46 80.34,334.53 81.09,334.62 81.84,334.14 82.36,331.8 82.87,334.24 82.87,334.3 84.24,335.42 85.61,335.46 86.97,335.24 88.34,336.41 89.71,336.56 91.08,336.42 92.45,335.79 93.81,336.03 95.18,336.56 96.55,336.48 97.92,336.72 99.29,336.39 100.65,336.96 102.02,336.16 103.39,335.94 104.76,335.9 106.13,336.22 107.49,335.96 108.86,337.21 110.23,336.9 111.6,336.06 112.97,336.34 114.33,336.85 115.7,336.2 117.07,336.65 118.44,336.43 119.81,337.14 121.17,337.31 122.54,337.02 123.91,337.45 125.28,337.17 126.65,336.46 128.01,337.31 129.38,337.76 130.75,337.75 132.12,337.63 133.49,336.87 134.85,337.45 136.22,337.58 137.59,337.86 138.96,336.76 140.33,337.51 141.69,337.83 143.06,338.05 144.43,338.09 145.8,337.98 147.17,337.37 148.53,338.08 149.9,338.26 151.27,337.71 152.64,338.06 154.01,337.13 155.37,338.29 156.74,337.81 158.11,337.53 159.48,338.03 160.85,337.32 162.21,338.02 163.58,338.36 164.95,338.17" fill="none" stroke="#4a78c8" stroke-width="1.05" stroke-linejoin="round" />
<polyline points="36.7,356.39 37.45,355.68 38.2,355.03 38.96,354.29 39.71,353.86 40.46,353.09 41.21,353.25 41.97,352.27 42.72,351.25 43.47,350.9 44.22,350.07 44.98,350.14 45.73,349.23 46.48,348.81 47.23,347.94 47.99,347.31 48.74,347.18 49.49,346.4 50.24,345.74 51,344.58 51.75,344.1 52.5,344.01 53.25,342.86 54.01,342.82 54.76,341.8 55.51,341.61 56.26,341.11 57.01,339.75 57.77,339.71 58.52,339.1 59.27,337.83 60.02,337.32 60.78,337.21 61.53,336.02 62.28,335.78 63.03,335.05 63.79,334.85 64.54,333.61 65.29,333.21 66.04,332.37 66.8,331.82 67.55,331.73 68.3,331.06 69.05,330.62 69.81,330.03 70.56,329.49 71.31,328.68 72.06,327.81 72.82,327.72 73.57,326.53 74.32,326.22 75.07,325.63 75.82,324.59 76.58,324.27 77.33,323.8 78.08,323.05 78.83,322.25 79.59,322.2 80.34,320.8 81.09,321.01 81.84,319.78 82.36,301.74 82.87,319.51 82.87,318.69 84.24,318.58 85.61,317.46 86.97,317.59 88.34,317.3 89.71,317.75 91.08,317.73 92.45,317.65 93.81,317.04 95.18,317.75 96.55,317.33 97.92,317.25 99.29,317.31 100.65,317.89 102.02,317.95 103.39,317.88 104.76,317.73 106.13,318.38 107.49,317.9 108.86,317.93 110.23,317.95 111.6,318.73 112.97,318.02 114.33,318.82 115.7,318.68 117.07,318.52 118.44,318.33 119.81,318.9 121.17,318.46 122.54,318.86 123.91,319.13 125.28,319.2 126.65,319.39 128.01,319.55 129.38,319.56 130.75,319.17 132.12,318.98 133.49,319.76 134.85,319.93 136.22,319.2 137.59,319.66 138.96,319.84 140.33,320.06 141.69,319.82 143.06,319.69 144.43,320.08 145.8,320.18 147.17,320.57 148.53,319.9 149.9,320.73 151.27,320.41 152.64,320.18 154.01,320.86 155.37,320.42 156.74,320.3 158.11,320.65 159.48,320.59 160.85,321.24 162.21,321.03 163.58,321.35 164.95,320.82" fill="none" stroke="#33a865" stroke-width="1.05" stroke-linejoin="round" />
<polyline points="36.7,356.25 37.45,355.01 38.2,354.08 38.96,353.05 39.71,352.06 40.46,350.28 41.21,349.22 41.97,347.76 42.72,346.87 43.47,345.32 44.22,344.53 44.98,342.85 45.73,341.7 46.48,340.75 47.23,339.43 47.99,338.09 48.74,337.29 49.49,335.77 50.24,334.33 51,333.58 51.75,331.9 52.5,330.79 53.25,329.43 54.01,328.65 54.76,327.64 55.51,325.82 56.26,324.6 57.01,323.69 57.77,322.78 58.52,321.47 59.27,319.88 60.02,318.95 60.78,317.17 61.53,316.27 62.28,315.38 63.03,313.77 63.79,312.81 64.54,311.1 65.29,309.91 66.04,309.03 66.8,307.7 67.55,306.44 68.3,305.13 69.05,303.76 69.81,303.36 70.56,301.86 71.31,300.43 72.06,299.47 72.82,298.01 73.57,297.22 74.32,295.33 75.07,294.42 75.82,293.55 76.58,291.86 77.33,290.95 78.08,289.83 78.83,288.37 79.59,287.45 80.34,286.17 81.09,284.39 81.84,283.31 82.36,282.41 82.87,283.65 82.87,284.36 84.24,284.14 85.61,285.1 86.97,285.07 88.34,284.77 89.71,285.19 91.08,285.61 92.45,285.7 93.81,285.83 95.18,286.2 96.55,285.59 97.92,286.54 99.29,286.36 100.65,286.22 102.02,286.65 103.39,286.29 104.76,287.06 106.13,286.56 107.49,286.77 108.86,287.1 110.23,287.05 111.6,287.56 112.97,287.37 114.33,287.53 115.7,287.91 117.07,288.09 118.44,288.02 119.81,288.41 121.17,288.82 122.54,288.39 123.91,288.94 125.28,288.89 126.65,288.77 128.01,289.43 129.38,289.7 130.75,289.74 132.12,289.48 133.49,289.81 134.85,290.04 136.22,290.01 137.59,289.73 138.96,290.45 140.33,290.45 141.69,290.18 143.06,290.55 144.43,290.98 145.8,290.94 147.17,291.07 148.53,291.5 149.9,291.43 151.27,291.63 152.64,291.34 154.01,291.88 155.37,291.73 156.74,291.6 158.11,291.78 159.48,292.38 160.85,292.32 162.21,292.7 163.58,292.77 164.95,292.83" fill="none" stroke="#e2404e" stroke-width="1.05" stroke-linejoin="round" />
<line x1="36.3" y1="270.1" x2="36.3" y2="357.3" stroke="#555" stroke-width="1.6"/>
<line x1="35.5" y1="356.5" x2="164.95" y2="356.5" stroke="#555" stroke-width="1.6"/>
<line x1="33.3" y1="356.5" x2="36.3" y2="356.5" stroke="#555" stroke-width="1.1"/>
<text x="32.1" y="359.6" font-size="8.6" text-anchor="end" fill="#222" stroke="#222" font-weight="normal" >0</text>
<line x1="33.3" y1="335.02" x2="36.3" y2="335.02" stroke="#555" stroke-width="1.1"/>
<text x="32.1" y="338.12" font-size="8.6" text-anchor="end" fill="#222" stroke="#222" font-weight="normal" >10</text>
<line x1="33.3" y1="313.55" x2="36.3" y2="313.55" stroke="#555" stroke-width="1.1"/>
<text x="32.1" y="316.65" font-size="8.6" text-anchor="end" fill="#222" stroke="#222" font-weight="normal" >20</text>
<line x1="33.3" y1="292.08" x2="36.3" y2="292.08" stroke="#555" stroke-width="1.1"/>
<text x="32.1" y="295.18" font-size="8.6" text-anchor="end" fill="#222" stroke="#222" font-weight="normal" >30</text>
<line x1="33.3" y1="270.6" x2="36.3" y2="270.6" stroke="#555" stroke-width="1.1"/>
<text x="32.1" y="273.7" font-size="8.6" text-anchor="end" fill="#222" stroke="#222" font-weight="normal" >40</text>
<line x1="62.35" y1="356.5" x2="62.35" y2="359" stroke="#555" stroke-width="1.0"/>
<text x="63.35" y="368.5" font-size="8.6" text-anchor="middle" fill="#222" stroke="#222" font-weight="normal" >50</text>
<line x1="88" y1="356.5" x2="88" y2="359" stroke="#555" stroke-width="1.0"/>
<text x="89" y="368.5" font-size="8.6" text-anchor="middle" fill="#222" stroke="#222" font-weight="normal" >100</text>
<line x1="113.65" y1="356.5" x2="113.65" y2="359" stroke="#555" stroke-width="1.0"/>
<text x="114.65" y="368.5" font-size="8.6" text-anchor="middle" fill="#222" stroke="#222" font-weight="normal" >150</text>
<line x1="139.3" y1="356.5" x2="139.3" y2="359" stroke="#555" stroke-width="1.0"/>
<text x="140.3" y="368.5" font-size="8.6" text-anchor="middle" fill="#222" stroke="#222" font-weight="normal" >200</text>
<line x1="164.95" y1="356.5" x2="164.95" y2="359" stroke="#555" stroke-width="1.0"/>
<text x="165.95" y="368.5" font-size="8.6" text-anchor="middle" fill="#222" stroke="#222" font-weight="normal" >250</text>
<text x="1.4" y="256.8" font-size="12.8" text-anchor="start" fill="#111" stroke="#111" font-weight="bold" >B</text>
<text x="95.1" y="256.6" font-size="8.85" text-anchor="middle" fill="#222" stroke="#222" font-weight="normal" >nCoV531-S-ECD</text>
<text x="61.4" y="271.1" font-size="8.7" fill="#222" stroke="#222">KD(M)= 3.62 x 10<tspan font-size="4.8" dy="-2.4">-8</tspan></text>
<text x="17.5" y="313.55" font-size="8.6" text-anchor="middle" fill="#222" stroke="#222" font-weight="normal" letter-spacing="1" transform="rotate(-90 17.5 313.55)">Ru</text>
<text x="103" y="378" font-size="8.6" text-anchor="middle" fill="#222" stroke="#222" font-weight="normal" >Time(s)</text>
<line x1="178" y1="286" x2="187" y2="286" stroke="#333333" stroke-width="1.4"/>
<text x="192.7" y="288.9" font-size="8.25" text-anchor="start" fill="#222" stroke="#222" font-weight="normal" >2.5μg/ml</text>
<line x1="178" y1="295.74" x2="187" y2="295.74" stroke="#f0a048" stroke-width="1.4"/>
<text x="192.7" y="298.64" font-size="8.25" text-anchor="start" fill="#222" stroke="#222" font-weight="normal" >5μg/ml</text>
<line x1="178" y1="305.48" x2="187" y2="305.48" stroke="#7444a8" stroke-width="1.4"/>
<text x="192.7" y="308.38" font-size="8.25" text-anchor="start" fill="#222" stroke="#222" font-weight="normal" >10μg/ml</text>
<line x1="178" y1="315.22" x2="187" y2="315.22" stroke="#33a865" stroke-width="1.4"/>
<text x="192.7" y="318.12" font-size="8.25" text-anchor="start" fill="#222" stroke="#222" font-weight="normal" >20μg/ml</text>
<line x1="178" y1="324.96" x2="187" y2="324.96" stroke="#e2404e" stroke-width="1.4"/>
<text x="192.7" y="327.86" font-size="8.25" text-anchor="start" fill="#222" stroke="#222" font-weight="normal" >40μg/ml</text>
<line x1="178" y1="334.7" x2="187" y2="334.7" stroke="#4a78c8" stroke-width="1.4"/>
<text x="192.7" y="337.6" font-size="8.25" text-anchor="start" fill="#222" stroke="#222" font-weight="normal" >10μg/ml</text>
<polyline points="270,359.5 270.76,359.25 271.53,359.01 272.29,358.78 273.06,358.56 273.82,358.35 274.58,358.15 275.35,357.95 276.11,357.76 276.88,357.58 277.64,357.4 278.4,357.23 279.17,357.07 279.93,356.9 280.69,356.75 281.46,356.6 282.22,356.45 282.99,356.3 283.75,356.16 284.51,356.02 285.28,355.89 286.04,355.75 286.81,355.62 287.57,355.49 288.33,355.37 289.1,355.24 289.86,355.12 290.63,355 291.39,354.88 292.15,354.76 292.92,354.65 293.68,354.53 294.45,354.42 295.21,354.31 295.97,354.19 296.74,354.08 297.5,353.97 298.26,353.86 299.03,353.76 299.79,353.65 300.56,353.54 301.32,353.43 302.08,353.33 302.85,353.22 303.61,353.12 304.38,353.01 305.14,352.91 305.9,352.81 306.67,352.7 307.43,352.6 308.2,352.5 308.96,352.39 309.72,352.29 310.49,352.19 311.25,352.09 312.02,351.99 312.78,351.89 313.54,351.79 314.31,351.68 315.07,351.58 315.83,351.48 316.35,345.12 316.87,351.62 316.87,351.69 318.23,351.9 319.59,352.05 320.96,352.17 322.32,352.25 323.69,352.31 325.05,352.36 326.42,352.39 327.78,352.42 329.15,352.44 330.51,352.46 331.88,352.47 333.24,352.49 334.61,352.5 335.97,352.51 337.34,352.52 338.7,352.53 340.07,352.53 341.43,352.54 342.8,352.55 344.16,352.56 345.52,352.57 346.89,352.57 348.25,352.58 349.62,352.59 350.98,352.6 352.35,352.6 353.71,352.61 355.08,352.62 356.44,352.63 357.81,352.63 359.17,352.64 360.54,352.65 361.9,352.66 363.27,352.66 364.63,352.67 366,352.68 367.36,352.69 368.73,352.69 370.09,352.7 371.45,352.71 372.82,352.72 374.18,352.72 375.55,352.73 376.91,352.74 378.28,352.75 379.64,352.75 381.01,352.76 382.37,352.77 383.74,352.78 385.1,352.78 386.47,352.79 387.83,352.8 389.2,352.81 390.56,352.81 391.93,352.82 393.29,352.83 394.66,352.84 396.02,352.84 397.39,352.85 398.75,352.86" fill="none" stroke="#333333" stroke-width="1.05" stroke-linejoin="round" />
<polyline points="270,359.5 270.76,359.05 271.53,358.62 272.29,358.21 273.06,357.82 273.82,357.43 274.58,357.06 275.35,356.71 276.11,356.36 276.88,356.03 277.64,355.71 278.4,355.39 279.17,355.09 279.93,354.79 280.69,354.5 281.46,354.21 282.22,353.94 282.99,353.66 283.75,353.4 284.51,353.14 285.28,352.88 286.04,352.63 286.81,352.38 287.57,352.14 288.33,351.9 289.1,351.66 289.86,351.43 290.63,351.2 291.39,350.97 292.15,350.74 292.92,350.52 293.68,350.3 294.45,350.08 295.21,349.86 295.97,349.65 296.74,349.43 297.5,349.22 298.26,349.01 299.03,348.8 299.79,348.59 300.56,348.38 301.32,348.17 302.08,347.97 302.85,347.76 303.61,347.56 304.38,347.35 305.14,347.15 305.9,346.95 306.67,346.74 307.43,346.54 308.2,346.34 308.96,346.14 309.72,345.94 310.49,345.74 311.25,345.54 312.02,345.34 312.78,345.15 313.54,344.95 314.31,344.75 315.07,344.55 315.83,344.35 316.35,336.57 316.87,344.73 316.87,344.53 318.23,344.74 319.59,344.94 320.96,345.12 322.32,345.29 323.69,345.45 325.05,345.59 326.42,345.73 327.78,345.85 329.15,345.97 330.51,346.08 331.88,346.17 333.24,346.27 334.61,346.35 335.97,346.44 337.34,346.51 338.7,346.58 340.07,346.65 341.43,346.71 342.8,346.77 344.16,346.82 345.52,346.88 346.89,346.93 348.25,346.97 349.62,347.02 350.98,347.06 352.35,347.1 353.71,347.14 355.08,347.17 356.44,347.21 357.81,347.24 359.17,347.28 360.54,347.31 361.9,347.34 363.27,347.37 364.63,347.4 366,347.42 367.36,347.45 368.73,347.48 370.09,347.5 371.45,347.53 372.82,347.55 374.18,347.58 375.55,347.6 376.91,347.62 378.28,347.65 379.64,347.67 381.01,347.69 382.37,347.71 383.74,347.73 385.1,347.75 386.47,347.78 387.83,347.8 389.2,347.82 390.56,347.84 391.93,347.86 393.29,347.88 394.66,347.9 396.02,347.92 397.39,347.94 398.75,347.96" fill="none" stroke="#f0a048" stroke-width="1.05" stroke-linejoin="round" />
<polyline points="270,359.5 270.76,358.57 271.53,357.68 272.29,356.83 273.06,356.02 273.82,355.24 274.58,354.5 275.35,353.78 276.11,353.1 276.88,352.44 277.64,351.8 278.4,351.19 279.17,350.59 279.93,350.02 280.69,349.46 281.46,348.92 282.22,348.4 282.99,347.89 283.75,347.39 284.51,346.9 285.28,346.43 286.04,345.97 286.81,345.51 287.57,345.07 288.33,344.63 289.1,344.21 289.86,343.79 290.63,343.37 291.39,342.96 292.15,342.56 292.92,342.17 293.68,341.78 294.45,341.39 295.21,341.01 295.97,340.63 296.74,340.26 297.5,339.89 298.26,339.52 299.03,339.15 299.79,338.79 300.56,338.43 301.32,338.08 302.08,337.72 302.85,337.37 303.61,337.02 304.38,336.67 305.14,336.32 305.9,335.98 306.67,335.64 307.43,335.29 308.2,334.95 308.96,334.61 309.72,334.27 310.49,333.93 311.25,333.6 312.02,333.26 312.78,332.92 313.54,332.59 314.31,332.26 315.07,331.92 315.83,331.59 316.35,323.1 316.87,331.91 316.87,331.81 318.23,332.06 319.59,332.29 320.96,332.49 322.32,332.67 323.69,332.83 325.05,332.97 326.42,333.1 327.78,333.21 329.15,333.31 330.51,333.4 331.88,333.48 333.24,333.56 334.61,333.63 335.97,333.69 337.34,333.74 338.7,333.8 340.07,333.84 341.43,333.89 342.8,333.93 344.16,333.97 345.52,334 346.89,334.03 348.25,334.07 349.62,334.1 350.98,334.12 352.35,334.15 353.71,334.18 355.08,334.2 356.44,334.23 357.81,334.25 359.17,334.28 360.54,334.3 361.9,334.32 363.27,334.34 364.63,334.36 366,334.38 367.36,334.41 368.73,334.43 370.09,334.45 371.45,334.47 372.82,334.49 374.18,334.51 375.55,334.53 376.91,334.55 378.28,334.56 379.64,334.58 381.01,334.6 382.37,334.62 383.74,334.64 385.1,334.66 386.47,334.68 387.83,334.7 389.2,334.72 390.56,334.74 391.93,334.76 393.29,334.77 394.66,334.79 396.02,334.81 397.39,334.83 398.75,334.85" fill="none" stroke="#7444a8" stroke-width="1.05" stroke-linejoin="round" />
<polyline points="270,359.5 270.76,358.64 271.53,357.82 272.29,357.03 273.06,356.28 273.82,355.57 274.58,354.88 275.35,354.22 276.11,353.58 276.88,352.97 277.64,352.38 278.4,351.81 279.17,351.26 279.93,350.73 280.69,350.21 281.46,349.71 282.22,349.22 282.99,348.75 283.75,348.29 284.51,347.84 285.28,347.4 286.04,346.97 286.81,346.54 287.57,346.13 288.33,345.73 289.1,345.33 289.86,344.94 290.63,344.55 291.39,344.17 292.15,343.8 292.92,343.43 293.68,343.06 294.45,342.7 295.21,342.35 295.97,341.99 296.74,341.65 297.5,341.3 298.26,340.96 299.03,340.62 299.79,340.28 300.56,339.94 301.32,339.61 302.08,339.28 302.85,338.95 303.61,338.62 304.38,338.3 305.14,337.97 305.9,337.65 306.67,337.33 307.43,337.01 308.2,336.69 308.96,336.37 309.72,336.06 310.49,335.74 311.25,335.42 312.02,335.11 312.78,334.8 313.54,334.48 314.31,334.17 315.07,333.86 315.83,333.55 316.35,331.43 316.87,334.03 316.87,333.71 318.23,333.91 319.59,334.1 320.96,334.28 322.32,334.45 323.69,334.61 325.05,334.76 326.42,334.9 327.78,335.03 329.15,335.15 330.51,335.27 331.88,335.38 333.24,335.48 334.61,335.58 335.97,335.67 337.34,335.76 338.7,335.84 340.07,335.92 341.43,335.99 342.8,336.06 344.16,336.12 345.52,336.18 346.89,336.24 348.25,336.29 349.62,336.35 350.98,336.4 352.35,336.44 353.71,336.49 355.08,336.53 356.44,336.57 357.81,336.6 359.17,336.64 360.54,336.68 361.9,336.71 363.27,336.74 364.63,336.77 366,336.8 367.36,336.82 368.73,336.85 370.09,336.88 371.45,336.9 372.82,336.92 374.18,336.94 375.55,336.97 376.91,336.99 378.28,337.01 379.64,337.03 381.01,337.04 382.37,337.06 383.74,337.08 385.1,337.1 386.47,337.11 387.83,337.13 389.2,337.15 390.56,337.16 391.93,337.18 393.29,337.19 394.66,337.2 396.02,337.22 397.39,337.23 398.75,337.24" fill="none" stroke="#4a78c8" stroke-width="1.05" stroke-linejoin="round" />
<polyline points="270,359.5 270.76,356.67 271.53,354.09 272.29,351.72 273.06,349.54 273.82,347.54 274.58,345.71 275.35,344.01 276.11,342.45 276.88,341.01 277.64,339.68 278.4,338.44 279.17,337.3 279.93,336.23 280.69,335.23 281.46,334.31 282.22,333.44 282.99,332.62 283.75,331.86 284.51,331.14 285.28,330.46 286.04,329.81 286.81,329.2 287.57,328.62 288.33,328.07 289.1,327.54 289.86,327.03 290.63,326.54 291.39,326.07 292.15,325.62 292.92,325.18 293.68,324.76 294.45,324.35 295.21,323.95 295.97,323.56 296.74,323.17 297.5,322.8 298.26,322.44 299.03,322.08 299.79,321.72 300.56,321.38 301.32,321.03 302.08,320.7 302.85,320.36 303.61,320.03 304.38,319.71 305.14,319.38 305.9,319.06 306.67,318.74 307.43,318.43 308.2,318.11 308.96,317.8 309.72,317.49 310.49,317.18 311.25,316.88 312.02,316.57 312.78,316.27 313.54,315.96 314.31,315.66 315.07,315.36 315.83,315.06 316.35,293.83 316.87,315.96 316.87,315.25 318.23,315.5 319.59,315.74 320.96,315.97 322.32,316.19 323.69,316.41 325.05,316.61 326.42,316.8 327.78,316.98 329.15,317.16 330.51,317.33 331.88,317.49 333.24,317.65 334.61,317.79 335.97,317.93 337.34,318.07 338.7,318.2 340.07,318.32 341.43,318.44 342.8,318.56 344.16,318.66 345.52,318.77 346.89,318.87 348.25,318.96 349.62,319.05 350.98,319.14 352.35,319.22 353.71,319.3 355.08,319.38 356.44,319.45 357.81,319.52 359.17,319.59 360.54,319.65 361.9,319.71 363.27,319.77 364.63,319.83 366,319.88 367.36,319.93 368.73,319.98 370.09,320.03 371.45,320.08 372.82,320.12 374.18,320.16 375.55,320.2 376.91,320.24 378.28,320.27 379.64,320.31 381.01,320.34 382.37,320.37 383.74,320.4 385.1,320.43 386.47,320.46 387.83,320.48 389.2,320.51 390.56,320.53 391.93,320.56 393.29,320.58 394.66,320.6 396.02,320.62 397.39,320.64 398.75,320.66" fill="none" stroke="#33a865" stroke-width="1.05" stroke-linejoin="round" />
<polyline points="270,359.5 270.76,354.8 271.53,350.49 272.29,346.53 273.06,342.9 273.82,339.55 274.58,336.48 275.35,333.65 276.11,331.05 276.88,328.64 277.64,326.42 278.4,324.37 279.17,322.48 279.93,320.72 280.69,319.09 281.46,317.58 282.22,316.17 282.99,314.86 283.75,313.64 284.51,312.5 285.28,311.43 286.04,310.43 286.81,309.49 287.57,308.61 288.33,307.77 289.1,306.98 289.86,306.24 290.63,305.53 291.39,304.85 292.15,304.21 292.92,303.6 293.68,303.01 294.45,302.45 295.21,301.91 295.97,301.39 296.74,300.89 297.5,300.4 298.26,299.93 299.03,299.47 299.79,299.03 300.56,298.6 301.32,298.17 302.08,297.76 302.85,297.36 303.61,296.96 304.38,296.57 305.14,296.19 305.9,295.81 306.67,295.44 307.43,295.08 308.2,294.71 308.96,294.36 309.72,294 310.49,293.65 311.25,293.31 312.02,292.96 312.78,292.62 313.54,292.28 314.31,291.94 315.07,291.61 315.83,291.27 316.35,286.32 316.87,293.4 316.87,291.69 318.23,292.22 319.59,292.73 320.96,293.22 322.32,293.69 323.69,294.15 325.05,294.59 326.42,295.02 327.78,295.43 329.15,295.83 330.51,296.21 331.88,296.58 333.24,296.93 334.61,297.28 335.97,297.61 337.34,297.93 338.7,298.24 340.07,298.53 341.43,298.82 342.8,299.1 344.16,299.36 345.52,299.62 346.89,299.87 348.25,300.11 349.62,300.35 350.98,300.57 352.35,300.79 353.71,301 355.08,301.2 356.44,301.4 357.81,301.58 359.17,301.77 360.54,301.94 361.9,302.12 363.27,302.28 364.63,302.44 366,302.59 367.36,302.74 368.73,302.89 370.09,303.03 371.45,303.16 372.82,303.3 374.18,303.42 375.55,303.55 376.91,303.66 378.28,303.78 379.64,303.89 381.01,304 382.37,304.1 383.74,304.21 385.1,304.3 386.47,304.4 387.83,304.49 389.2,304.58 390.56,304.67 391.93,304.76 393.29,304.84 394.66,304.92 396.02,305 397.39,305.07 398.75,305.15" fill="none" stroke="#e2404e" stroke-width="1.05" stroke-linejoin="round" />
<line x1="270" y1="274.1" x2="270" y2="360.3" stroke="#555" stroke-width="1.6"/>
<line x1="269.2" y1="359.5" x2="398.75" y2="359.5" stroke="#555" stroke-width="1.6"/>
<line x1="267" y1="359.5" x2="270" y2="359.5" stroke="#555" stroke-width="1.1"/>
<text x="265.8" y="362.6" font-size="8.6" text-anchor="end" fill="#222" stroke="#222" font-weight="normal" >0</text>
<line x1="267" y1="331.2" x2="270" y2="331.2" stroke="#555" stroke-width="1.1"/>
<text x="265.8" y="334.3" font-size="8.6" text-anchor="end" fill="#222" stroke="#222" font-weight="normal" >40</text>
<line x1="267" y1="302.9" x2="270" y2="302.9" stroke="#555" stroke-width="1.1"/>
<text x="265.8" y="306" font-size="8.6" text-anchor="end" fill="#222" stroke="#222" font-weight="normal" >80</text>
<line x1="267" y1="274.6" x2="270" y2="274.6" stroke="#555" stroke-width="1.1"/>
<text x="265.8" y="277.7" font-size="8.6" text-anchor="end" fill="#222" stroke="#222" font-weight="normal" >120</text>
<line x1="295.75" y1="359.5" x2="295.75" y2="362" stroke="#555" stroke-width="1.0"/>
<text x="296.75" y="370.5" font-size="8.6" text-anchor="middle" fill="#222" stroke="#222" font-weight="normal" >50</text>
<line x1="321.5" y1="359.5" x2="321.5" y2="362" stroke="#555" stroke-width="1.0"/>
<text x="322.5" y="370.5" font-size="8.6" text-anchor="middle" fill="#222" stroke="#222" font-weight="normal" >100</text>
<line x1="347.25" y1="359.5" x2="347.25" y2="362" stroke="#555" stroke-width="1.0"/>
<text x="348.25" y="370.5" font-size="8.6" text-anchor="middle" fill="#222" stroke="#222" font-weight="normal" >150</text>
<line x1="373" y1="359.5" x2="373" y2="362" stroke="#555" stroke-width="1.0"/>
<text x="374" y="370.5" font-size="8.6" text-anchor="middle" fill="#222" stroke="#222" font-weight="normal" >200</text>
<line x1="398.75" y1="359.5" x2="398.75" y2="362" stroke="#555" stroke-width="1.0"/>
<text x="399.75" y="370.5" font-size="8.6" text-anchor="middle" fill="#222" stroke="#222" font-weight="normal" >250</text>
<text x="245.6" y="256.8" font-size="12.8" text-anchor="start" fill="#111" stroke="#111" font-weight="bold" >C</text>
<text x="335.3" y="256.6" font-size="8.85" text-anchor="middle" fill="#222" stroke="#222" font-weight="normal" >nCoV608-S-ECD</text>
<text x="302.2" y="271.7" font-size="8.7" fill="#222" stroke="#222">KD(M)= 8.41 x 10<tspan font-size="4.8" dy="-2.4">-9</tspan></text>
<text x="250.5" y="317.05" font-size="8.6" text-anchor="middle" fill="#222" stroke="#222" font-weight="normal" letter-spacing="1" transform="rotate(-90 250.5 317.05)">Ru</text>
<text x="336" y="379.6" font-size="8.6" text-anchor="middle" fill="#222" stroke="#222" font-weight="normal" >Time(s)</text>
<line x1="411.3" y1="286" x2="420.3" y2="286" stroke="#333333" stroke-width="1.4"/>
<text x="426" y="288.9" font-size="8.25" text-anchor="start" fill="#222" stroke="#222" font-weight="normal" >2.5μg/ml</text>
<line x1="411.3" y1="295.74" x2="420.3" y2="295.74" stroke="#f0a048" stroke-width="1.4"/>
<text x="426" y="298.64" font-size="8.25" text-anchor="start" fill="#222" stroke="#222" font-weight="normal" >5μg/ml</text>
<line x1="411.3" y1="305.48" x2="420.3" y2="305.48" stroke="#7444a8" stroke-width="1.4"/>
<text x="426" y="308.38" font-size="8.25" text-anchor="start" fill="#222" stroke="#222" font-weight="normal" >10μg/ml</text>
<line x1="411.3" y1="315.22" x2="420.3" y2="315.22" stroke="#33a865" stroke-width="1.4"/>
<text x="426" y="318.12" font-size="8.25" text-anchor="start" fill="#222" stroke="#222" font-weight="normal" >20μg/ml</text>
<line x1="411.3" y1="324.96" x2="420.3" y2="324.96" stroke="#e2404e" stroke-width="1.4"/>
<text x="426" y="327.86" font-size="8.25" text-anchor="start" fill="#222" stroke="#222" font-weight="normal" >40μg/ml</text>
<line x1="411.3" y1="334.7" x2="420.3" y2="334.7" stroke="#4a78c8" stroke-width="1.4"/>
<text x="426" y="337.6" font-size="8.25" text-anchor="start" fill="#222" stroke="#222" font-weight="normal" >10μg/ml</text>
<polyline points="498.5,359.4 499.27,353 500.05,347.51 500.82,342.8 501.6,338.74 502.37,335.23 503.15,332.2 503.92,329.57 504.69,327.28 505.47,325.28 506.24,323.52 507.02,321.98 507.79,320.6 508.57,319.38 509.34,318.29 510.12,317.3 510.89,316.41 511.66,315.6 512.44,314.85 513.21,314.15 513.99,313.51 514.76,312.9 515.54,312.33 516.31,311.79 517.09,311.27 517.86,310.77 518.63,310.29 519.41,309.83 520.18,309.38 520.96,308.94 521.73,308.51 522.51,308.09 523.28,307.67 524.05,307.26 524.83,306.86 525.6,306.45 526.38,306.06 527.15,305.66 527.93,305.27 528.7,304.88 529.48,304.49 530.25,304.1 531.02,303.72 531.8,303.33 532.57,302.95 533.35,302.56 534.12,302.18 534.9,301.8 535.67,301.42 536.44,301.04 537.22,300.66 537.99,300.28 538.77,299.9 539.54,299.52 540.32,299.14 541.09,298.76 541.87,298.38 542.64,298 543.41,297.62 544.19,297.24 544.96,296.86 545.49,296.86 546.01,299.39 546.01,299.95 547.41,303.22 548.8,305.73 550.2,307.67 551.6,309.17 552.99,310.33 554.39,311.23 555.78,311.94 557.18,312.49 558.57,312.93 559.97,313.27 561.36,313.55 562.76,313.77 564.16,313.96 565.55,314.11 566.95,314.24 568.34,314.35 569.74,314.45 571.13,314.53 572.53,314.61 573.92,314.69 575.32,314.75 576.72,314.82 578.11,314.88 579.51,314.94 580.9,314.99 582.3,315.05 583.69,315.1 585.09,315.16 586.49,315.21 587.88,315.27 589.28,315.32 590.67,315.37 592.07,315.42 593.46,315.48 594.86,315.53 596.25,315.58 597.65,315.63 599.05,315.68 600.44,315.74 601.84,315.79 603.23,315.84 604.63,315.89 606.02,315.94 607.42,315.99 608.82,316.05 610.21,316.1 611.61,316.15 613,316.2 614.4,316.25 615.79,316.31 617.19,316.36 618.59,316.41 619.98,316.46 621.38,316.51 622.77,316.56 624.17,316.62 625.56,316.67 626.96,316.72 628.35,316.77 629.75,316.82" fill="none" stroke="#666666" stroke-width="1.05" stroke-linejoin="round" />
<polyline points="498.5,359.4 499.27,354.83 500.05,350.91 500.82,347.54 501.6,344.63 502.37,342.12 503.15,339.95 503.92,338.06 504.69,336.42 505.47,334.97 506.24,333.71 507.02,332.59 507.79,331.6 508.57,330.71 509.34,329.91 510.12,329.2 510.89,328.54 511.66,327.94 512.44,327.39 513.21,326.88 513.99,326.4 514.76,325.96 515.54,325.53 516.31,325.13 517.09,324.74 517.86,324.37 518.63,324.01 519.41,323.67 520.18,323.33 520.96,323 521.73,322.67 522.51,322.35 523.28,322.04 524.05,321.73 524.83,321.42 525.6,321.12 526.38,320.82 527.15,320.52 527.93,320.22 528.7,319.93 529.48,319.63 530.25,319.34 531.02,319.05 531.8,318.76 532.57,318.46 533.35,318.17 534.12,317.88 534.9,317.6 535.67,317.31 536.44,317.02 537.22,316.73 537.99,316.44 538.77,316.15 539.54,315.86 540.32,315.58 541.09,315.29 541.87,315 542.64,314.71 543.41,314.43 544.19,314.14 544.96,313.85 545.49,297.92 546.01,315.18 546.01,315.26 547.41,316.82 548.8,318.08 550.2,319.11 551.6,319.95 552.99,320.63 554.39,321.19 555.78,321.66 557.18,322.05 558.57,322.37 559.97,322.64 561.36,322.87 562.76,323.08 564.16,323.25 565.55,323.4 566.95,323.54 568.34,323.67 569.74,323.78 571.13,323.89 572.53,323.98 573.92,324.08 575.32,324.16 576.72,324.25 578.11,324.33 579.51,324.41 580.9,324.49 582.3,324.57 583.69,324.64 585.09,324.71 586.49,324.79 587.88,324.86 589.28,324.93 590.67,325.01 592.07,325.08 593.46,325.15 594.86,325.22 596.25,325.29 597.65,325.36 599.05,325.43 600.44,325.5 601.84,325.58 603.23,325.65 604.63,325.72 606.02,325.79 607.42,325.86 608.82,325.93 610.21,326 611.61,326.07 613,326.14 614.4,326.21 615.79,326.28 617.19,326.35 618.59,326.42 619.98,326.49 621.38,326.56 622.77,326.64 624.17,326.71 625.56,326.78 626.96,326.85 628.35,326.92 629.75,326.99" fill="none" stroke="#e0307a" stroke-width="1.4" stroke-linejoin="round" />
<polyline points="498.5,359.4 499.27,358.22 500.05,357.11 500.82,356.06 501.6,355.07 502.37,354.13 503.15,353.24 503.92,352.4 504.69,351.6 505.47,350.85 506.24,350.12 507.02,349.44 507.79,348.78 508.57,348.16 509.34,347.56 510.12,346.99 510.89,346.44 511.66,345.92 512.44,345.42 513.21,344.93 513.99,344.46 514.76,344.01 515.54,343.58 516.31,343.15 517.09,342.75 517.86,342.35 518.63,341.97 519.41,341.59 520.18,341.23 520.96,340.87 521.73,340.53 522.51,340.19 523.28,339.86 524.05,339.54 524.83,339.22 525.6,338.91 526.38,338.6 527.15,338.3 527.93,338 528.7,337.71 529.48,337.42 530.25,337.14 531.02,336.86 531.8,336.58 532.57,336.3 533.35,336.03 534.12,335.76 534.9,335.5 535.67,335.23 536.44,334.97 537.22,334.71 537.99,334.45 538.77,334.19 539.54,333.94 540.32,333.68 541.09,333.43 541.87,333.18 542.64,332.93 543.41,332.68 544.19,332.43 544.96,332.19 545.49,332.19 546.01,332.98 546.01,333.17 547.41,334.21 548.8,335.02 550.2,335.64 551.6,336.13 552.99,336.51 554.39,336.8 555.78,337.04 557.18,337.22 558.57,337.37 559.97,337.49 561.36,337.59 562.76,337.68 564.16,337.75 565.55,337.81 566.95,337.86 568.34,337.91 569.74,337.95 571.13,337.99 572.53,338.03 573.92,338.06 575.32,338.09 576.72,338.13 578.11,338.16 579.51,338.19 580.9,338.22 582.3,338.25 583.69,338.28 585.09,338.31 586.49,338.33 587.88,338.36 589.28,338.39 590.67,338.42 592.07,338.45 593.46,338.48 594.86,338.5 596.25,338.53 597.65,338.56 599.05,338.59 600.44,338.62 601.84,338.65 603.23,338.67 604.63,338.7 606.02,338.73 607.42,338.76 608.82,338.79 610.21,338.82 611.61,338.84 613,338.87 614.4,338.9 615.79,338.93 617.19,338.96 618.59,338.99 619.98,339.01 621.38,339.04 622.77,339.07 624.17,339.1 625.56,339.13 626.96,339.15 628.35,339.18 629.75,339.21" fill="none" stroke="#4a88d0" stroke-width="1.05" stroke-linejoin="round" />
<polyline points="498.5,359.4 499.27,358.37 500.05,357.39 500.82,356.47 501.6,355.6 502.37,354.77 503.15,353.99 503.92,353.25 504.69,352.55 505.47,351.88 506.24,351.24 507.02,350.64 507.79,350.06 508.57,349.51 509.34,348.98 510.12,348.47 510.89,347.98 511.66,347.52 512.44,347.07 513.21,346.64 513.99,346.22 514.76,345.82 515.54,345.43 516.31,345.05 517.09,344.69 517.86,344.33 518.63,343.99 519.41,343.65 520.18,343.32 520.96,343 521.73,342.69 522.51,342.39 523.28,342.09 524.05,341.8 524.83,341.51 525.6,341.23 526.38,340.95 527.15,340.68 527.93,340.41 528.7,340.14 529.48,339.88 530.25,339.62 531.02,339.37 531.8,339.12 532.57,338.87 533.35,338.62 534.12,338.37 534.9,338.13 535.67,337.89 536.44,337.65 537.22,337.41 537.99,337.18 538.77,336.94 539.54,336.71 540.32,336.48 541.09,336.25 541.87,336.02 542.64,335.79 543.41,335.56 544.19,335.34 544.96,335.11 545.49,335.11 546.01,335.91 546.01,336.1 547.41,337.15 548.8,337.96 550.2,338.59 551.6,339.09 552.99,339.47 554.39,339.78 555.78,340.02 557.18,340.21 558.57,340.37 559.97,340.49 561.36,340.6 562.76,340.69 564.16,340.77 565.55,340.83 566.95,340.89 568.34,340.95 569.74,341 571.13,341.04 572.53,341.09 573.92,341.13 575.32,341.17 576.72,341.21 578.11,341.25 579.51,341.29 580.9,341.32 582.3,341.36 583.69,341.4 585.09,341.43 586.49,341.47 587.88,341.5 589.28,341.54 590.67,341.57 592.07,341.61 593.46,341.65 594.86,341.68 596.25,341.72 597.65,341.75 599.05,341.79 600.44,341.82 601.84,341.86 603.23,341.89 604.63,341.93 606.02,341.96 607.42,342 608.82,342.03 610.21,342.07 611.61,342.1 613,342.14 614.4,342.18 615.79,342.21 617.19,342.25 618.59,342.28 619.98,342.32 621.38,342.35 622.77,342.39 624.17,342.42 625.56,342.46 626.96,342.49 628.35,342.53 629.75,342.56" fill="none" stroke="#d8c030" stroke-width="1.05" stroke-linejoin="round" />
<polyline points="498.5,359.4 499.27,358.79 500.05,358.21 500.82,357.66 501.6,357.14 502.37,356.64 503.15,356.17 503.92,355.71 504.69,355.28 505.47,354.87 506.24,354.47 507.02,354.09 507.79,353.73 508.57,353.37 509.34,353.04 510.12,352.71 510.89,352.39 511.66,352.09 512.44,351.79 513.21,351.51 513.99,351.23 514.76,350.96 515.54,350.69 516.31,350.44 517.09,350.19 517.86,349.94 518.63,349.7 519.41,349.47 520.18,349.24 520.96,349.01 521.73,348.79 522.51,348.57 523.28,348.36 524.05,348.15 524.83,347.94 525.6,347.73 526.38,347.53 527.15,347.33 527.93,347.13 528.7,346.94 529.48,346.74 530.25,346.55 531.02,346.36 531.8,346.17 532.57,345.98 533.35,345.79 534.12,345.61 534.9,345.42 535.67,345.24 536.44,345.06 537.22,344.88 537.99,344.69 538.77,344.51 539.54,344.34 540.32,344.16 541.09,343.98 541.87,343.8 542.64,343.62 543.41,343.45 544.19,343.27 544.96,343.1 545.49,334.25 546.01,343.69 546.01,343.83 547.41,344.61 548.8,345.22 550.2,345.68 551.6,346.04 552.99,346.32 554.39,346.55 555.78,346.72 557.18,346.86 558.57,346.97 559.97,347.05 561.36,347.13 562.76,347.19 564.16,347.24 565.55,347.28 566.95,347.32 568.34,347.35 569.74,347.38 571.13,347.41 572.53,347.43 573.92,347.45 575.32,347.48 576.72,347.5 578.11,347.52 579.51,347.54 580.9,347.56 582.3,347.58 583.69,347.6 585.09,347.62 586.49,347.64 587.88,347.66 589.28,347.68 590.67,347.7 592.07,347.71 593.46,347.73 594.86,347.75 596.25,347.77 597.65,347.79 599.05,347.81 600.44,347.83 601.84,347.85 603.23,347.87 604.63,347.88 606.02,347.9 607.42,347.92 608.82,347.94 610.21,347.96 611.61,347.98 613,348 614.4,348.02 615.79,348.03 617.19,348.05 618.59,348.07 619.98,348.09 621.38,348.11 622.77,348.13 624.17,348.15 625.56,348.17 626.96,348.19 628.35,348.2 629.75,348.22" fill="none" stroke="#f07838" stroke-width="1.05" stroke-linejoin="round" />
<polyline points="498.5,359.4 499.27,359.08 500.05,358.77 500.82,358.48 501.6,358.2 502.37,357.93 503.15,357.67 503.92,357.42 504.69,357.17 505.47,356.94 506.24,356.71 507.02,356.49 507.79,356.27 508.57,356.07 509.34,355.86 510.12,355.67 510.89,355.47 511.66,355.28 512.44,355.1 513.21,354.92 513.99,354.74 514.76,354.57 515.54,354.4 516.31,354.23 517.09,354.06 517.86,353.9 518.63,353.74 519.41,353.58 520.18,353.43 520.96,353.27 521.73,353.12 522.51,352.97 523.28,352.82 524.05,352.67 524.83,352.52 525.6,352.38 526.38,352.23 527.15,352.09 527.93,351.95 528.7,351.8 529.48,351.66 530.25,351.52 531.02,351.38 531.8,351.24 532.57,351.1 533.35,350.97 534.12,350.83 534.9,350.69 535.67,350.56 536.44,350.42 537.22,350.28 537.99,350.15 538.77,350.01 539.54,349.88 540.32,349.75 541.09,349.61 541.87,349.48 542.64,349.34 543.41,349.21 544.19,349.08 544.96,348.94 545.49,352.48 546.01,349.21 546.01,349.28 547.41,349.64 548.8,349.93 550.2,350.15 551.6,350.33 552.99,350.47 554.39,350.58 555.78,350.67 557.18,350.75 558.57,350.81 559.97,350.87 561.36,350.91 562.76,350.95 564.16,350.99 565.55,351.03 566.95,351.06 568.34,351.09 569.74,351.12 571.13,351.14 572.53,351.17 573.92,351.2 575.32,351.22 576.72,351.25 578.11,351.27 579.51,351.29 580.9,351.32 582.3,351.34 583.69,351.37 585.09,351.39 586.49,351.41 587.88,351.44 589.28,351.46 590.67,351.48 592.07,351.51 593.46,351.53 594.86,351.56 596.25,351.58 597.65,351.6 599.05,351.63 600.44,351.65 601.84,351.67 603.23,351.7 604.63,351.72 606.02,351.74 607.42,351.77 608.82,351.79 610.21,351.81 611.61,351.84 613,351.86 614.4,351.89 615.79,351.91 617.19,351.93 618.59,351.96 619.98,351.98 621.38,352 622.77,352.03 624.17,352.05 625.56,352.07 626.96,352.1 628.35,352.12 629.75,352.14" fill="none" stroke="#50b848" stroke-width="1.05" stroke-linejoin="round" />
<line x1="498.4" y1="270.4" x2="498.4" y2="360.2" stroke="#555" stroke-width="1.6"/>
<line x1="497.6" y1="359.4" x2="629.75" y2="359.4" stroke="#555" stroke-width="1.6"/>
<line x1="495.4" y1="359.4" x2="498.4" y2="359.4" stroke="#555" stroke-width="1.1"/>
<text x="494.2" y="362.5" font-size="8.6" text-anchor="end" fill="#222" stroke="#222" font-weight="normal" >0</text>
<line x1="495.4" y1="341.7" x2="498.4" y2="341.7" stroke="#555" stroke-width="1.1"/>
<text x="494.2" y="344.8" font-size="8.6" text-anchor="end" fill="#222" stroke="#222" font-weight="normal" >20</text>
<line x1="495.4" y1="324" x2="498.4" y2="324" stroke="#555" stroke-width="1.1"/>
<text x="494.2" y="327.1" font-size="8.6" text-anchor="end" fill="#222" stroke="#222" font-weight="normal" >40</text>
<line x1="495.4" y1="306.3" x2="498.4" y2="306.3" stroke="#555" stroke-width="1.1"/>
<text x="494.2" y="309.4" font-size="8.6" text-anchor="end" fill="#222" stroke="#222" font-weight="normal" >60</text>
<line x1="495.4" y1="288.6" x2="498.4" y2="288.6" stroke="#555" stroke-width="1.1"/>
<text x="494.2" y="291.7" font-size="8.6" text-anchor="end" fill="#222" stroke="#222" font-weight="normal" >80</text>
<line x1="495.4" y1="270.9" x2="498.4" y2="270.9" stroke="#555" stroke-width="1.1"/>
<text x="494.2" y="274" font-size="8.6" text-anchor="end" fill="#222" stroke="#222" font-weight="normal" >100</text>
<line x1="524.75" y1="359.4" x2="524.75" y2="361.9" stroke="#555" stroke-width="1.0"/>
<text x="525.75" y="371" font-size="8.6" text-anchor="middle" fill="#222" stroke="#222" font-weight="normal" >50</text>
<line x1="551" y1="359.4" x2="551" y2="361.9" stroke="#555" stroke-width="1.0"/>
<text x="552" y="371" font-size="8.6" text-anchor="middle" fill="#222" stroke="#222" font-weight="normal" >100</text>
<line x1="577.25" y1="359.4" x2="577.25" y2="361.9" stroke="#555" stroke-width="1.0"/>
<text x="578.25" y="371" font-size="8.6" text-anchor="middle" fill="#222" stroke="#222" font-weight="normal" >150</text>
<line x1="603.5" y1="359.4" x2="603.5" y2="361.9" stroke="#555" stroke-width="1.0"/>
<text x="604.5" y="371" font-size="8.6" text-anchor="middle" fill="#222" stroke="#222" font-weight="normal" >200</text>
<line x1="629.75" y1="359.4" x2="629.75" y2="361.9" stroke="#555" stroke-width="1.0"/>
<text x="630.75" y="371" font-size="8.6" text-anchor="middle" fill="#222" stroke="#222" font-weight="normal" >250</text>
<text x="473.8" y="256.4" font-size="12.8" text-anchor="start" fill="#111" stroke="#111" font-weight="bold" >D</text>
<text x="565.7" y="256.6" font-size="8.85" text-anchor="middle" fill="#222" stroke="#222" font-weight="normal" >nCoV604-S-ECD</text>
<text x="532" y="271.1" font-size="8.7" fill="#222" stroke="#222">KD(M)= 5.71 x 10<tspan font-size="4.8" dy="-2.4">-9</tspan></text>
<text x="479.7" y="315.15" font-size="8.6" text-anchor="middle" fill="#222" stroke="#222" font-weight="normal" letter-spacing="1" transform="rotate(-90 479.7 315.15)">Ru</text>
<text x="566" y="380.8" font-size="8.6" text-anchor="middle" fill="#222" stroke="#222" font-weight="normal" >Time(s)</text>
<line x1="642.4" y1="286" x2="651.4" y2="286" stroke="#333333" stroke-width="1.4"/>
<text x="657.1" y="288.9" font-size="8.25" text-anchor="start" fill="#222" stroke="#222" font-weight="normal" >2.5μg/ml</text>
<line x1="642.4" y1="295.74" x2="651.4" y2="295.74" stroke="#f0a048" stroke-width="1.4"/>
<text x="657.1" y="298.64" font-size="8.25" text-anchor="start" fill="#222" stroke="#222" font-weight="normal" >5μg/ml</text>
<line x1="642.4" y1="305.48" x2="651.4" y2="305.48" stroke="#7444a8" stroke-width="1.4"/>
<text x="657.1" y="308.38" font-size="8.25" text-anchor="start" fill="#222" stroke="#222" font-weight="normal" >10μg/ml</text>
<line x1="642.4" y1="315.22" x2="651.4" y2="315.22" stroke="#33a865" stroke-width="1.4"/>
<text x="657.1" y="318.12" font-size="8.25" text-anchor="start" fill="#222" stroke="#222" font-weight="normal" >20μg/ml</text>
<line x1="642.4" y1="324.96" x2="651.4" y2="324.96" stroke="#e2404e" stroke-width="1.4"/>
<text x="657.1" y="327.86" font-size="8.25" text-anchor="start" fill="#222" stroke="#222" font-weight="normal" >40μg/ml</text>
<line x1="642.4" y1="334.7" x2="651.4" y2="334.7" stroke="#4a78c8" stroke-width="1.4"/>
<text x="657.1" y="337.6" font-size="8.25" text-anchor="start" fill="#222" stroke="#222" font-weight="normal" >10μg/ml</text>
<polyline points="30.4,499.5 31.15,499.3 31.9,499.1 32.65,498.92 33.39,498.74 34.14,498.57 34.89,498.41 35.64,498.26 36.39,498.11 37.14,497.96 37.89,497.82 38.63,497.68 39.38,497.55 40.13,497.42 40.88,497.29 41.63,497.17 42.38,497.05 43.13,496.93 43.87,496.81 44.62,496.7 45.37,496.59 46.12,496.47 46.87,496.36 47.62,496.25 48.37,496.15 49.11,496.04 49.86,495.93 50.61,495.83 51.36,495.73 52.11,495.62 52.86,495.52 53.61,495.42 54.35,495.32 55.1,495.21 55.85,495.11 56.6,495.01 57.35,494.91 58.1,494.81 58.85,494.71 59.59,494.61 60.34,494.51 61.09,494.42 61.84,494.32 62.59,494.22 63.34,494.12 64.09,494.02 64.83,493.92 65.58,493.83 66.33,493.73 67.08,493.63 67.83,493.53 68.58,493.44 69.33,493.34 70.07,493.24 70.82,493.14 71.57,493.05 72.32,492.95 73.07,492.85 73.82,492.76 74.57,492.66 75.31,492.56 75.82,489.14 76.33,492.6 76.33,492.64 77.68,492.72 79.03,492.78 80.38,492.83 81.73,492.87 83.07,492.91 84.42,492.94 85.77,492.97 87.12,492.99 88.47,493.01 89.82,493.03 91.17,493.05 92.52,493.07 93.87,493.09 95.22,493.11 96.57,493.13 97.91,493.15 99.26,493.17 100.61,493.19 101.96,493.21 103.31,493.22 104.66,493.24 106.01,493.26 107.36,493.28 108.71,493.3 110.06,493.32 111.41,493.33 112.75,493.35 114.1,493.37 115.45,493.39 116.8,493.41 118.15,493.42 119.5,493.44 120.85,493.46 122.2,493.48 123.55,493.5 124.9,493.52 126.25,493.53 127.59,493.55 128.94,493.57 130.29,493.59 131.64,493.61 132.99,493.62 134.34,493.64 135.69,493.66 137.04,493.68 138.39,493.7 139.74,493.72 141.09,493.73 142.43,493.75 143.78,493.77 145.13,493.79 146.48,493.81 147.83,493.82 149.18,493.84 150.53,493.86 151.88,493.88 153.23,493.9 154.58,493.92 155.93,493.93 157.27,493.95" fill="none" stroke="#333333" stroke-width="1.05" stroke-linejoin="round" />
<polyline points="30.4,499.5 31.15,499.1 31.9,498.72 32.65,498.36 33.39,498.02 34.14,497.69 34.89,497.37 35.64,497.07 36.39,496.78 37.14,496.5 37.89,496.22 38.63,495.96 39.38,495.7 40.13,495.45 40.88,495.21 41.63,494.97 42.38,494.73 43.13,494.5 43.87,494.28 44.62,494.06 45.37,493.84 46.12,493.62 46.87,493.41 47.62,493.2 48.37,493 49.11,492.79 49.86,492.59 50.61,492.39 51.36,492.19 52.11,491.99 52.86,491.79 53.61,491.59 54.35,491.4 55.1,491.21 55.85,491.01 56.6,490.82 57.35,490.63 58.1,490.44 58.85,490.25 59.59,490.06 60.34,489.87 61.09,489.68 61.84,489.49 62.59,489.3 63.34,489.11 64.09,488.92 64.83,488.74 65.58,488.55 66.33,488.36 67.08,488.18 67.83,487.99 68.58,487.8 69.33,487.62 70.07,487.43 70.82,487.24 71.57,487.06 72.32,486.87 73.07,486.69 73.82,486.5 74.57,486.31 75.31,486.13 75.82,477.01 76.33,486 76.33,485.96 77.68,485.79 79.03,485.68 80.38,485.6 81.73,485.56 83.07,485.53 84.42,485.52 85.77,485.51 87.12,485.52 88.47,485.53 89.82,485.54 91.17,485.56 92.52,485.58 93.87,485.59 95.22,485.62 96.57,485.64 97.91,485.66 99.26,485.68 100.61,485.7 101.96,485.72 103.31,485.75 104.66,485.77 106.01,485.79 107.36,485.81 108.71,485.84 110.06,485.86 111.41,485.88 112.75,485.9 114.1,485.93 115.45,485.95 116.8,485.97 118.15,486 119.5,486.02 120.85,486.04 122.2,486.06 123.55,486.09 124.9,486.11 126.25,486.13 127.59,486.15 128.94,486.18 130.29,486.2 131.64,486.22 132.99,486.25 134.34,486.27 135.69,486.29 137.04,486.31 138.39,486.34 139.74,486.36 141.09,486.38 142.43,486.4 143.78,486.43 145.13,486.45 146.48,486.47 147.83,486.5 149.18,486.52 150.53,486.54 151.88,486.56 153.23,486.59 154.58,486.61 155.93,486.63 157.27,486.65" fill="none" stroke="#f0a048" stroke-width="1.05" stroke-linejoin="round" />
<polyline points="30.4,499.5 31.15,498.64 31.9,497.83 32.65,497.06 33.39,496.33 34.14,495.65 34.89,494.99 35.64,494.37 36.39,493.77 37.14,493.2 37.89,492.65 38.63,492.13 39.38,491.62 40.13,491.12 40.88,490.65 41.63,490.19 42.38,489.74 43.13,489.3 43.87,488.87 44.62,488.45 45.37,488.04 46.12,487.64 46.87,487.24 47.62,486.85 48.37,486.47 49.11,486.09 49.86,485.72 50.61,485.35 51.36,484.98 52.11,484.62 52.86,484.26 53.61,483.91 54.35,483.55 55.1,483.2 55.85,482.85 56.6,482.51 57.35,482.16 58.1,481.82 58.85,481.48 59.59,481.14 60.34,480.8 61.09,480.46 61.84,480.12 62.59,479.78 63.34,479.45 64.09,479.11 64.83,478.78 65.58,478.45 66.33,478.11 67.08,477.78 67.83,477.45 68.58,477.12 69.33,476.78 70.07,476.45 70.82,476.12 71.57,475.79 72.32,475.46 73.07,475.13 73.82,474.8 74.57,474.47 75.31,474.14 75.82,466.16 76.33,474.31 76.33,474.41 77.68,474.68 79.03,474.88 80.38,475.02 81.73,475.13 83.07,475.22 84.42,475.28 85.77,475.34 87.12,475.38 88.47,475.41 89.82,475.45 91.17,475.47 92.52,475.5 93.87,475.52 95.22,475.54 96.57,475.56 97.91,475.58 99.26,475.6 100.61,475.62 101.96,475.64 103.31,475.66 104.66,475.68 106.01,475.7 107.36,475.71 108.71,475.73 110.06,475.75 111.41,475.77 112.75,475.79 114.1,475.8 115.45,475.82 116.8,475.84 118.15,475.86 119.5,475.88 120.85,475.9 122.2,475.91 123.55,475.93 124.9,475.95 126.25,475.97 127.59,475.99 128.94,476 130.29,476.02 131.64,476.04 132.99,476.06 134.34,476.08 135.69,476.1 137.04,476.11 138.39,476.13 139.74,476.15 141.09,476.17 142.43,476.19 143.78,476.2 145.13,476.22 146.48,476.24 147.83,476.26 149.18,476.28 150.53,476.3 151.88,476.31 153.23,476.33 154.58,476.35 155.93,476.37 157.27,476.39" fill="none" stroke="#7444a8" stroke-width="1.05" stroke-linejoin="round" />
<polyline points="30.4,499.5 31.15,498.71 31.9,497.96 32.65,497.26 33.39,496.59 34.14,495.95 34.89,495.35 35.64,494.77 36.39,494.22 37.14,493.69 37.89,493.18 38.63,492.69 39.38,492.21 40.13,491.75 40.88,491.31 41.63,490.88 42.38,490.46 43.13,490.05 43.87,489.64 44.62,489.25 45.37,488.87 46.12,488.49 46.87,488.12 47.62,487.75 48.37,487.39 49.11,487.03 49.86,486.68 50.61,486.33 51.36,485.99 52.11,485.64 52.86,485.31 53.61,484.97 54.35,484.64 55.1,484.3 55.85,483.97 56.6,483.65 57.35,483.32 58.1,483 58.85,482.67 59.59,482.35 60.34,482.03 61.09,481.71 61.84,481.39 62.59,481.07 63.34,480.75 64.09,480.43 64.83,480.12 65.58,479.8 66.33,479.48 67.08,479.17 67.83,478.85 68.58,478.54 69.33,478.22 70.07,477.91 70.82,477.6 71.57,477.28 72.32,476.97 73.07,476.66 73.82,476.34 74.57,476.03 75.31,475.72 75.82,473.44 76.33,475.98 76.33,476.11 77.68,476.5 79.03,476.78 80.38,476.98 81.73,477.13 83.07,477.25 84.42,477.33 85.77,477.39 87.12,477.44 88.47,477.48 89.82,477.51 91.17,477.54 92.52,477.56 93.87,477.58 95.22,477.6 96.57,477.61 97.91,477.63 99.26,477.64 100.61,477.65 101.96,477.67 103.31,477.68 104.66,477.69 106.01,477.7 107.36,477.72 108.71,477.73 110.06,477.74 111.41,477.75 112.75,477.77 114.1,477.78 115.45,477.79 116.8,477.8 118.15,477.81 119.5,477.83 120.85,477.84 122.2,477.85 123.55,477.86 124.9,477.87 126.25,477.89 127.59,477.9 128.94,477.91 130.29,477.92 131.64,477.94 132.99,477.95 134.34,477.96 135.69,477.97 137.04,477.98 138.39,478 139.74,478.01 141.09,478.02 142.43,478.03 143.78,478.04 145.13,478.06 146.48,478.07 147.83,478.08 149.18,478.09 150.53,478.11 151.88,478.12 153.23,478.13 154.58,478.14 155.93,478.15 157.27,478.17" fill="none" stroke="#4a78c8" stroke-width="1.05" stroke-linejoin="round" />
<polyline points="30.4,499.5 31.15,497.73 31.9,496.08 32.65,494.56 33.39,493.14 34.14,491.82 34.89,490.58 35.64,489.42 36.39,488.33 37.14,487.31 37.89,486.34 38.63,485.42 39.38,484.54 40.13,483.71 40.88,482.92 41.63,482.15 42.38,481.42 43.13,480.72 43.87,480.03 44.62,479.38 45.37,478.74 46.12,478.11 46.87,477.51 47.62,476.92 48.37,476.34 49.11,475.77 49.86,475.21 50.61,474.67 51.36,474.13 52.11,473.6 52.86,473.07 53.61,472.56 54.35,472.04 55.1,471.54 55.85,471.03 56.6,470.53 57.35,470.04 58.1,469.55 58.85,469.06 59.59,468.57 60.34,468.09 61.09,467.61 61.84,467.13 62.59,466.65 63.34,466.17 64.09,465.7 64.83,465.22 65.58,464.75 66.33,464.28 67.08,463.81 67.83,463.34 68.58,462.87 69.33,462.4 70.07,461.93 70.82,461.46 71.57,461 72.32,460.53 73.07,460.06 73.82,459.6 74.57,459.13 75.31,458.67 75.82,443.28 76.33,458.67 76.33,458.69 77.68,458.72 79.03,458.74 80.38,458.77 81.73,458.8 83.07,458.83 84.42,458.85 85.77,458.88 87.12,458.91 88.47,458.93 89.82,458.96 91.17,458.99 92.52,459.02 93.87,459.04 95.22,459.07 96.57,459.1 97.91,459.13 99.26,459.15 100.61,459.18 101.96,459.21 103.31,459.23 104.66,459.26 106.01,459.29 107.36,459.32 108.71,459.34 110.06,459.37 111.41,459.4 112.75,459.43 114.1,459.45 115.45,459.48 116.8,459.51 118.15,459.53 119.5,459.56 120.85,459.59 122.2,459.62 123.55,459.64 124.9,459.67 126.25,459.7 127.59,459.73 128.94,459.75 130.29,459.78 131.64,459.81 132.99,459.83 134.34,459.86 135.69,459.89 137.04,459.92 138.39,459.94 139.74,459.97 141.09,460 142.43,460.03 143.78,460.05 145.13,460.08 146.48,460.11 147.83,460.13 149.18,460.16 150.53,460.19 151.88,460.22 153.23,460.24 154.58,460.27 155.93,460.3 157.27,460.33" fill="none" stroke="#33a865" stroke-width="1.05" stroke-linejoin="round" />
<polyline points="30.4,499.5 31.15,496.81 31.9,494.27 32.65,491.85 33.39,489.56 34.14,487.39 34.89,485.33 35.64,483.36 36.39,481.5 37.14,479.72 37.89,478.03 38.63,476.41 39.38,474.87 40.13,473.4 40.88,472 41.63,470.66 42.38,469.37 43.13,468.14 43.87,466.95 44.62,465.82 45.37,464.73 46.12,463.68 46.87,462.67 47.62,461.7 48.37,460.76 49.11,459.85 49.86,458.98 50.61,458.13 51.36,457.31 52.11,456.51 52.86,455.74 53.61,454.98 54.35,454.25 55.1,453.54 55.85,452.85 56.6,452.17 57.35,451.51 58.1,450.87 58.85,450.24 59.59,449.62 60.34,449.01 61.09,448.42 61.84,447.83 62.59,447.26 63.34,446.69 64.09,446.14 64.83,445.59 65.58,445.05 66.33,444.52 67.08,444 67.83,443.48 68.58,442.97 69.33,442.46 70.07,441.96 70.82,441.46 71.57,440.97 72.32,440.48 73.07,440 73.82,439.52 74.57,439.05 75.31,438.58 75.82,429.46 76.33,438.83 76.33,439 77.68,439.44 79.03,439.77 80.38,440.02 81.73,440.22 83.07,440.38 84.42,440.51 85.77,440.63 87.12,440.72 88.47,440.81 89.82,440.89 91.17,440.96 92.52,441.03 93.87,441.1 95.22,441.17 96.57,441.23 97.91,441.29 99.26,441.36 100.61,441.42 101.96,441.48 103.31,441.54 104.66,441.6 106.01,441.66 107.36,441.72 108.71,441.79 110.06,441.85 111.41,441.91 112.75,441.97 114.1,442.03 115.45,442.09 116.8,442.15 118.15,442.21 119.5,442.27 120.85,442.33 122.2,442.39 123.55,442.45 124.9,442.51 126.25,442.57 127.59,442.63 128.94,442.69 130.29,442.76 131.64,442.82 132.99,442.88 134.34,442.94 135.69,443 137.04,443.06 138.39,443.12 139.74,443.18 141.09,443.24 142.43,443.3 143.78,443.36 145.13,443.42 146.48,443.48 147.83,443.54 149.18,443.6 150.53,443.66 151.88,443.73 153.23,443.79 154.58,443.85 155.93,443.91 157.27,443.97" fill="none" stroke="#e2404e" stroke-width="1.05" stroke-linejoin="round" />
<line x1="30.1" y1="413.5" x2="30.1" y2="500.3" stroke="#555" stroke-width="1.6"/>
<line x1="29.3" y1="499.5" x2="157.8" y2="499.5" stroke="#555" stroke-width="1.6"/>
<line x1="27.1" y1="499.5" x2="30.1" y2="499.5" stroke="#555" stroke-width="1.1"/>
<text x="25.9" y="502.6" font-size="8.6" text-anchor="end" fill="#222" stroke="#222" font-weight="normal" >0</text>
<line x1="27.1" y1="471" x2="30.1" y2="471" stroke="#555" stroke-width="1.1"/>
<text x="25.9" y="474.1" font-size="8.6" text-anchor="end" fill="#222" stroke="#222" font-weight="normal" >50</text>
<line x1="27.1" y1="442.5" x2="30.1" y2="442.5" stroke="#555" stroke-width="1.1"/>
<text x="25.9" y="445.6" font-size="8.6" text-anchor="end" fill="#222" stroke="#222" font-weight="normal" >100</text>
<line x1="27.1" y1="414" x2="30.1" y2="414" stroke="#555" stroke-width="1.1"/>
<text x="25.9" y="417.1" font-size="8.6" text-anchor="end" fill="#222" stroke="#222" font-weight="normal" >150</text>
<line x1="55.77" y1="499.5" x2="55.77" y2="502" stroke="#555" stroke-width="1.0"/>
<text x="58.1" y="511" font-size="8.6" text-anchor="middle" fill="#222" stroke="#222" font-weight="normal" >0</text>
<line x1="81.15" y1="499.5" x2="81.15" y2="502" stroke="#555" stroke-width="1.0"/>
<text x="84" y="511" font-size="8.6" text-anchor="middle" fill="#222" stroke="#222" font-weight="normal" >50</text>
<line x1="106.52" y1="499.5" x2="106.52" y2="502" stroke="#555" stroke-width="1.0"/>
<text x="111" y="511" font-size="8.6" text-anchor="middle" fill="#222" stroke="#222" font-weight="normal" >100</text>
<line x1="131.9" y1="499.5" x2="131.9" y2="502" stroke="#555" stroke-width="1.0"/>
<text x="136.7" y="511" font-size="8.6" text-anchor="middle" fill="#222" stroke="#222" font-weight="normal" >150</text>
<line x1="157.27" y1="499.5" x2="157.27" y2="502" stroke="#555" stroke-width="1.0"/>
<text x="161.6" y="511" font-size="8.6" text-anchor="middle" fill="#222" stroke="#222" font-weight="normal" >200</text>
<text x="0" y="400.2" font-size="12.8" text-anchor="start" fill="#111" stroke="#111" font-weight="bold" >E</text>
<text x="95.8" y="402" font-size="8.85" text-anchor="middle" fill="#222" stroke="#222" font-weight="normal" >nCoV653-S-ECD</text>
<text x="62.2" y="415.2" font-size="8.7" fill="#222" stroke="#222">KD(M)= 1.72 x 10<tspan font-size="4.8" dy="-2.4">-9</tspan></text>
<text x="12.2" y="456.75" font-size="8.6" text-anchor="middle" fill="#222" stroke="#222" font-weight="normal" letter-spacing="1" transform="rotate(-90 12.2 456.75)">Ru</text>
<text x="123.9" y="520.2" font-size="8.6" text-anchor="middle" fill="#222" stroke="#222" font-weight="normal" >Time(s)</text>
<line x1="171.3" y1="441.9" x2="180.3" y2="441.9" stroke="#333333" stroke-width="1.4"/>
<text x="186" y="444.8" font-size="8.25" text-anchor="start" fill="#222" stroke="#222" font-weight="normal" >2.5μg/ml</text>
<line x1="171.3" y1="451.74" x2="180.3" y2="451.74" stroke="#f0a048" stroke-width="1.4"/>
<text x="186" y="454.64" font-size="8.25" text-anchor="start" fill="#222" stroke="#222" font-weight="normal" >5μg/ml</text>
<line x1="171.3" y1="461.58" x2="180.3" y2="461.58" stroke="#7444a8" stroke-width="1.4"/>
<text x="186" y="464.48" font-size="8.25" text-anchor="start" fill="#222" stroke="#222" font-weight="normal" >10μg/ml</text>
<line x1="171.3" y1="471.42" x2="180.3" y2="471.42" stroke="#33a865" stroke-width="1.4"/>
<text x="186" y="474.32" font-size="8.25" text-anchor="start" fill="#222" stroke="#222" font-weight="normal" >20μg/ml</text>
<line x1="171.3" y1="481.26" x2="180.3" y2="481.26" stroke="#e2404e" stroke-width="1.4"/>
<text x="186" y="484.16" font-size="8.25" text-anchor="start" fill="#222" stroke="#222" font-weight="normal" >40μg/ml</text>
<line x1="171.3" y1="491.1" x2="180.3" y2="491.1" stroke="#4a78c8" stroke-width="1.4"/>
<text x="186" y="494" font-size="8.25" text-anchor="start" fill="#222" stroke="#222" font-weight="normal" >10μg/ml</text>
<text x="187" y="510.2" font-size="8.6" text-anchor="middle" fill="#222" stroke="#222" font-weight="normal" >250</text>
<polyline points="251.5,497.4 252.25,497.31 253,497.22 253.75,497.12 254.5,497.03 255.25,496.94 256,496.85 256.75,496.76 257.5,496.67 258.25,496.57 259,496.48 259.75,496.39 260.5,496.3 261.25,496.21 262,496.11 262.75,496.02 263.5,495.93 264.24,495.84 264.99,495.75 265.74,495.65 266.49,495.56 267.24,495.47 267.99,495.38 268.74,495.29 269.49,495.2 270.24,495.1 270.99,495.01 271.74,494.92 272.49,494.83 273.24,494.74 273.99,494.64 274.74,494.55 275.49,494.46 276.24,494.37 276.99,494.28 277.74,494.19 278.49,494.09 279.24,494 279.99,493.91 280.74,493.82 281.49,493.73 282.24,493.63 282.99,493.54 283.74,493.45 284.49,493.36 285.24,493.27 285.99,493.18 286.74,493.08 287.49,492.99 288.24,492.9 288.99,492.81 289.73,492.72 290.48,492.62 291.23,492.53 291.98,492.44 292.73,492.35 293.48,492.26 294.23,492.16 294.98,492.07 295.73,491.98 296.48,491.89 296.99,482.23 297.5,491.96 297.5,492 298.86,492.12 300.22,492.22 301.58,492.29 302.94,492.34 304.29,492.39 305.65,492.43 307.01,492.46 308.37,492.49 309.73,492.52 311.09,492.54 312.44,492.57 313.8,492.59 315.16,492.61 316.52,492.63 317.88,492.65 319.23,492.67 320.59,492.69 321.95,492.71 323.31,492.73 324.67,492.75 326.03,492.77 327.38,492.79 328.74,492.81 330.1,492.83 331.46,492.85 332.82,492.87 334.18,492.89 335.53,492.91 336.89,492.93 338.25,492.95 339.61,492.97 340.97,492.99 342.33,493.01 343.68,493.03 345.04,493.05 346.4,493.07 347.76,493.09 349.12,493.11 350.48,493.13 351.83,493.15 353.19,493.16 354.55,493.18 355.91,493.2 357.27,493.22 358.63,493.24 359.98,493.26 361.34,493.28 362.7,493.3 364.06,493.32 365.42,493.34 366.78,493.36 368.13,493.38 369.49,493.4 370.85,493.42 372.21,493.44 373.57,493.46 374.93,493.48 376.28,493.5 377.64,493.52 379,493.54" fill="none" stroke="#333333" stroke-width="1.05" stroke-linejoin="round" />
<polyline points="251.5,497.4 252.25,497.15 253,496.91 253.75,496.67 254.5,496.44 255.25,496.22 256,495.99 256.75,495.77 257.5,495.56 258.25,495.35 259,495.14 259.75,494.93 260.5,494.73 261.25,494.53 262,494.33 262.75,494.14 263.5,493.94 264.24,493.75 264.99,493.56 265.74,493.37 266.49,493.19 267.24,493 267.99,492.82 268.74,492.63 269.49,492.45 270.24,492.27 270.99,492.09 271.74,491.91 272.49,491.73 273.24,491.56 273.99,491.38 274.74,491.2 275.49,491.03 276.24,490.85 276.99,490.68 277.74,490.51 278.49,490.33 279.24,490.16 279.99,489.99 280.74,489.82 281.49,489.64 282.24,489.47 282.99,489.3 283.74,489.13 284.49,488.96 285.24,488.79 285.99,488.62 286.74,488.45 287.49,488.28 288.24,488.11 288.99,487.94 289.73,487.77 290.48,487.61 291.23,487.44 291.98,487.27 292.73,487.1 293.48,486.93 294.23,486.76 294.98,486.59 295.73,486.43 296.48,486.26 296.99,461.27 297.5,486.05 297.5,485.96 298.86,485.68 300.22,485.48 301.58,485.35 302.94,485.26 304.29,485.2 305.65,485.17 307.01,485.16 308.37,485.15 309.73,485.16 311.09,485.17 312.44,485.19 313.8,485.21 315.16,485.23 316.52,485.25 317.88,485.27 319.23,485.3 320.59,485.33 321.95,485.35 323.31,485.38 324.67,485.4 326.03,485.43 327.38,485.46 328.74,485.49 330.1,485.51 331.46,485.54 332.82,485.57 334.18,485.59 335.53,485.62 336.89,485.65 338.25,485.68 339.61,485.7 340.97,485.73 342.33,485.76 343.68,485.78 345.04,485.81 346.4,485.84 347.76,485.87 349.12,485.89 350.48,485.92 351.83,485.95 353.19,485.98 354.55,486 355.91,486.03 357.27,486.06 358.63,486.08 359.98,486.11 361.34,486.14 362.7,486.17 364.06,486.19 365.42,486.22 366.78,486.25 368.13,486.27 369.49,486.3 370.85,486.33 372.21,486.36 373.57,486.38 374.93,486.41 376.28,486.44 377.64,486.47 379,486.49" fill="none" stroke="#f0a048" stroke-width="1.05" stroke-linejoin="round" />
<polyline points="251.5,497.4 252.25,496.86 253,496.33 253.75,495.81 254.5,495.31 255.25,494.81 256,494.33 256.75,493.86 257.5,493.4 258.25,492.94 259,492.5 259.75,492.06 260.5,491.63 261.25,491.2 262,490.78 262.75,490.37 263.5,489.96 264.24,489.55 264.99,489.15 265.74,488.76 266.49,488.37 267.24,487.98 267.99,487.59 268.74,487.21 269.49,486.83 270.24,486.45 270.99,486.08 271.74,485.71 272.49,485.34 273.24,484.97 273.99,484.6 274.74,484.24 275.49,483.88 276.24,483.51 276.99,483.15 277.74,482.8 278.49,482.44 279.24,482.08 279.99,481.73 280.74,481.37 281.49,481.02 282.24,480.66 282.99,480.31 283.74,479.96 284.49,479.61 285.24,479.26 285.99,478.91 286.74,478.56 287.49,478.21 288.24,477.86 288.99,477.52 289.73,477.17 290.48,476.82 291.23,476.47 291.98,476.13 292.73,475.78 293.48,475.44 294.23,475.09 294.98,474.74 295.73,474.4 296.48,474.05 296.99,469.51 297.5,474.01 297.5,474.02 298.86,474 300.22,474 301.58,474.01 302.94,474.02 304.29,474.05 305.65,474.08 307.01,474.11 308.37,474.14 309.73,474.18 311.09,474.22 312.44,474.26 313.8,474.3 315.16,474.34 316.52,474.38 317.88,474.42 319.23,474.46 320.59,474.5 321.95,474.54 323.31,474.58 324.67,474.62 326.03,474.66 327.38,474.7 328.74,474.74 330.1,474.78 331.46,474.82 332.82,474.86 334.18,474.9 335.53,474.94 336.89,474.99 338.25,475.03 339.61,475.07 340.97,475.11 342.33,475.15 343.68,475.19 345.04,475.23 346.4,475.27 347.76,475.31 349.12,475.35 350.48,475.39 351.83,475.43 353.19,475.48 354.55,475.52 355.91,475.56 357.27,475.6 358.63,475.64 359.98,475.68 361.34,475.72 362.7,475.76 364.06,475.8 365.42,475.84 366.78,475.88 368.13,475.93 369.49,475.97 370.85,476.01 372.21,476.05 373.57,476.09 374.93,476.13 376.28,476.17 377.64,476.21 379,476.25" fill="none" stroke="#7444a8" stroke-width="1.05" stroke-linejoin="round" />
<polyline points="251.5,497.4 252.25,496.93 253,496.47 253.75,496.02 254.5,495.59 255.25,495.16 256,494.74 256.75,494.32 257.5,493.92 258.25,493.52 259,493.13 259.75,492.74 260.5,492.36 261.25,491.99 262,491.61 262.75,491.25 263.5,490.89 264.24,490.53 264.99,490.17 265.74,489.82 266.49,489.47 267.24,489.13 267.99,488.78 268.74,488.44 269.49,488.1 270.24,487.77 270.99,487.43 271.74,487.1 272.49,486.77 273.24,486.44 273.99,486.11 274.74,485.78 275.49,485.46 276.24,485.13 276.99,484.81 277.74,484.49 278.49,484.17 279.24,483.85 279.99,483.53 280.74,483.21 281.49,482.89 282.24,482.57 282.99,482.26 283.74,481.94 284.49,481.62 285.24,481.31 285.99,480.99 286.74,480.68 287.49,480.37 288.24,480.05 288.99,479.74 289.73,479.43 290.48,479.11 291.23,478.8 291.98,478.49 292.73,478.18 293.48,477.86 294.23,477.55 294.98,477.24 295.73,476.93 296.48,476.62 296.99,474.35 297.5,476.62 297.5,476.65 298.86,476.69 300.22,476.73 301.58,476.77 302.94,476.81 304.29,476.85 305.65,476.89 307.01,476.92 308.37,476.96 309.73,477 311.09,477.04 312.44,477.08 313.8,477.12 315.16,477.16 316.52,477.2 317.88,477.24 319.23,477.28 320.59,477.32 321.95,477.36 323.31,477.4 324.67,477.44 326.03,477.48 327.38,477.51 328.74,477.55 330.1,477.59 331.46,477.63 332.82,477.67 334.18,477.71 335.53,477.75 336.89,477.79 338.25,477.83 339.61,477.87 340.97,477.91 342.33,477.95 343.68,477.99 345.04,478.03 346.4,478.06 347.76,478.1 349.12,478.14 350.48,478.18 351.83,478.22 353.19,478.26 354.55,478.3 355.91,478.34 357.27,478.38 358.63,478.42 359.98,478.46 361.34,478.5 362.7,478.54 364.06,478.58 365.42,478.62 366.78,478.65 368.13,478.69 369.49,478.73 370.85,478.77 372.21,478.81 373.57,478.85 374.93,478.89 376.28,478.93 377.64,478.97 379,479.01" fill="none" stroke="#4a78c8" stroke-width="1.05" stroke-linejoin="round" />
<polyline points="251.5,497.4 252.25,496.33 253,495.3 253.75,494.29 254.5,493.31 255.25,492.36 256,491.44 256.75,490.54 257.5,489.66 258.25,488.81 259,487.97 259.75,487.16 260.5,486.36 261.25,485.58 262,484.81 262.75,484.06 263.5,483.32 264.24,482.6 264.99,481.89 265.74,481.19 266.49,480.51 267.24,479.83 267.99,479.16 268.74,478.51 269.49,477.86 270.24,477.22 270.99,476.59 271.74,475.97 272.49,475.35 273.24,474.74 273.99,474.13 274.74,473.54 275.49,472.94 276.24,472.36 276.99,471.77 277.74,471.2 278.49,470.62 279.24,470.05 279.99,469.49 280.74,468.93 281.49,468.37 282.24,467.81 282.99,467.26 283.74,466.71 284.49,466.16 285.24,465.62 285.99,465.08 286.74,464.54 287.49,464 288.24,463.47 288.99,462.94 289.73,462.41 290.48,461.88 291.23,461.35 291.98,460.82 292.73,460.3 293.48,459.77 294.23,459.25 294.98,458.73 295.73,458.21 296.48,457.69 296.99,436.68 297.5,457.22 297.5,457.06 298.86,456.45 300.22,456.04 301.58,455.76 302.94,455.59 304.29,455.48 305.65,455.43 307.01,455.42 308.37,455.43 309.73,455.46 311.09,455.5 312.44,455.56 313.8,455.62 315.16,455.68 316.52,455.75 317.88,455.82 319.23,455.9 320.59,455.97 321.95,456.05 323.31,456.13 324.67,456.2 326.03,456.28 327.38,456.36 328.74,456.44 330.1,456.52 331.46,456.6 332.82,456.67 334.18,456.75 335.53,456.83 336.89,456.91 338.25,456.99 339.61,457.07 340.97,457.15 342.33,457.22 343.68,457.3 345.04,457.38 346.4,457.46 347.76,457.54 349.12,457.62 350.48,457.7 351.83,457.77 353.19,457.85 354.55,457.93 355.91,458.01 357.27,458.09 358.63,458.17 359.98,458.25 361.34,458.33 362.7,458.4 364.06,458.48 365.42,458.56 366.78,458.64 368.13,458.72 369.49,458.8 370.85,458.88 372.21,458.95 373.57,459.03 374.93,459.11 376.28,459.19 377.64,459.27 379,459.35" fill="none" stroke="#33a865" stroke-width="1.05" stroke-linejoin="round" />
<polyline points="251.5,497.4 252.25,495.26 253,493.19 253.75,491.19 254.5,489.26 255.25,487.39 256,485.59 256.75,483.84 257.5,482.15 258.25,480.51 259,478.92 259.75,477.39 260.5,475.9 261.25,474.45 262,473.05 262.75,471.69 263.5,470.37 264.24,469.08 264.99,467.83 265.74,466.62 266.49,465.44 267.24,464.29 267.99,463.17 268.74,462.08 269.49,461.01 270.24,459.98 270.99,458.97 271.74,457.98 272.49,457.01 273.24,456.07 273.99,455.15 274.74,454.25 275.49,453.37 276.24,452.5 276.99,451.66 277.74,450.83 278.49,450.01 279.24,449.22 279.99,448.43 280.74,447.66 281.49,446.91 282.24,446.17 282.99,445.44 283.74,444.72 284.49,444.01 285.24,443.31 285.99,442.63 286.74,441.95 287.49,441.29 288.24,440.63 288.99,439.98 289.73,439.34 290.48,438.71 291.23,438.08 291.98,437.46 292.73,436.85 293.48,436.25 294.23,435.65 294.98,435.06 295.73,434.47 296.48,433.89 296.99,425.94 297.5,433.96 297.5,434.06 298.86,434.26 300.22,434.42 301.58,434.57 302.94,434.7 304.29,434.83 305.65,434.94 307.01,435.05 308.37,435.15 309.73,435.26 311.09,435.36 312.44,435.46 313.8,435.55 315.16,435.65 316.52,435.75 317.88,435.84 319.23,435.94 320.59,436.03 321.95,436.13 323.31,436.23 324.67,436.32 326.03,436.42 327.38,436.51 328.74,436.61 330.1,436.7 331.46,436.8 332.82,436.89 334.18,436.99 335.53,437.08 336.89,437.18 338.25,437.27 339.61,437.37 340.97,437.47 342.33,437.56 343.68,437.66 345.04,437.75 346.4,437.85 347.76,437.94 349.12,438.04 350.48,438.13 351.83,438.23 353.19,438.32 354.55,438.42 355.91,438.51 357.27,438.61 358.63,438.7 359.98,438.8 361.34,438.9 362.7,438.99 364.06,439.09 365.42,439.18 366.78,439.28 368.13,439.37 369.49,439.47 370.85,439.56 372.21,439.66 373.57,439.75 374.93,439.85 376.28,439.94 377.64,440.04 379,440.13" fill="none" stroke="#e2404e" stroke-width="1.05" stroke-linejoin="round" />
<line x1="251.2" y1="411.7" x2="251.2" y2="498.2" stroke="#555" stroke-width="1.6"/>
<line x1="250.4" y1="497.4" x2="379" y2="497.4" stroke="#555" stroke-width="1.6"/>
<line x1="248.2" y1="497.4" x2="251.2" y2="497.4" stroke="#555" stroke-width="1.1"/>
<text x="247" y="500.5" font-size="8.6" text-anchor="end" fill="#222" stroke="#222" font-weight="normal" >0</text>
<line x1="248.2" y1="469" x2="251.2" y2="469" stroke="#555" stroke-width="1.1"/>
<text x="247" y="472.1" font-size="8.6" text-anchor="end" fill="#222" stroke="#222" font-weight="normal" >50</text>
<line x1="248.2" y1="440.6" x2="251.2" y2="440.6" stroke="#555" stroke-width="1.1"/>
<text x="247" y="443.7" font-size="8.6" text-anchor="end" fill="#222" stroke="#222" font-weight="normal" >100</text>
<line x1="248.2" y1="412.2" x2="251.2" y2="412.2" stroke="#555" stroke-width="1.1"/>
<text x="247" y="415.3" font-size="8.6" text-anchor="end" fill="#222" stroke="#222" font-weight="normal" >150</text>
<line x1="251.5" y1="497.4" x2="251.5" y2="499.9" stroke="#555" stroke-width="1.0"/>
<text x="252.5" y="509.4" font-size="8.6" text-anchor="middle" fill="#222" stroke="#222" font-weight="normal" >0</text>
<line x1="277" y1="497.4" x2="277" y2="499.9" stroke="#555" stroke-width="1.0"/>
<text x="278" y="509.4" font-size="8.6" text-anchor="middle" fill="#222" stroke="#222" font-weight="normal" >50</text>
<line x1="302.5" y1="497.4" x2="302.5" y2="499.9" stroke="#555" stroke-width="1.0"/>
<text x="303.5" y="509.4" font-size="8.6" text-anchor="middle" fill="#222" stroke="#222" font-weight="normal" >100</text>
<line x1="328" y1="497.4" x2="328" y2="499.9" stroke="#555" stroke-width="1.0"/>
<text x="329" y="509.4" font-size="8.6" text-anchor="middle" fill="#222" stroke="#222" font-weight="normal" >150</text>
<line x1="353.5" y1="497.4" x2="353.5" y2="499.9" stroke="#555" stroke-width="1.0"/>
<text x="354.5" y="509.4" font-size="8.6" text-anchor="middle" fill="#222" stroke="#222" font-weight="normal" >200</text>
<line x1="379" y1="497.4" x2="379" y2="499.9" stroke="#555" stroke-width="1.0"/>
<text x="380" y="509.4" font-size="8.6" text-anchor="middle" fill="#222" stroke="#222" font-weight="normal" >250</text>
<text x="229.7" y="400.6" font-size="12.8" text-anchor="start" fill="#111" stroke="#111" font-weight="bold" >F</text>
<text x="317.1" y="401" font-size="8.85" text-anchor="middle" fill="#222" stroke="#222" font-weight="normal" >nCoV617-S-ECD</text>
<text x="283.2" y="415" font-size="8.7" fill="#222" stroke="#222">KD(M)= 8.02 x 10<tspan font-size="4.8" dy="-2.4">-8</tspan></text>
<text x="234.2" y="454.8" font-size="8.6" text-anchor="middle" fill="#222" stroke="#222" font-weight="normal" letter-spacing="1" transform="rotate(-90 234.2 454.8)">Ru</text>
<text x="317.7" y="518.4" font-size="8.6" text-anchor="middle" fill="#222" stroke="#222" font-weight="normal" >Time(s)</text>
<line x1="392.4" y1="440.5" x2="401.4" y2="440.5" stroke="#333333" stroke-width="1.4"/>
<text x="407.1" y="443.4" font-size="8.25" text-anchor="start" fill="#222" stroke="#222" font-weight="normal" >2.5μg/ml</text>
<line x1="392.4" y1="450.24" x2="401.4" y2="450.24" stroke="#f0a048" stroke-width="1.4"/>
<text x="407.1" y="453.14" font-size="8.25" text-anchor="start" fill="#222" stroke="#222" font-weight="normal" >5μg/ml</text>
<line x1="392.4" y1="459.98" x2="401.4" y2="459.98" stroke="#7444a8" stroke-width="1.4"/>
<text x="407.1" y="462.88" font-size="8.25" text-anchor="start" fill="#222" stroke="#222" font-weight="normal" >10μg/ml</text>
<line x1="392.4" y1="469.72" x2="401.4" y2="469.72" stroke="#33a865" stroke-width="1.4"/>
<text x="407.1" y="472.62" font-size="8.25" text-anchor="start" fill="#222" stroke="#222" font-weight="normal" >20μg/ml</text>
<line x1="392.4" y1="479.46" x2="401.4" y2="479.46" stroke="#e2404e" stroke-width="1.4"/>
<text x="407.1" y="482.36" font-size="8.25" text-anchor="start" fill="#222" stroke="#222" font-weight="normal" >40μg/ml</text>
<line x1="392.4" y1="489.2" x2="401.4" y2="489.2" stroke="#4a78c8" stroke-width="1.4"/>
<text x="407.1" y="492.1" font-size="8.25" text-anchor="start" fill="#222" stroke="#222" font-weight="normal" >10μg/ml</text>
<text x="452.2" y="401.5" font-size="12.3" text-anchor="start" fill="#111" stroke="#111" font-weight="bold" >G</text>
<polyline points="489,416.45 535.5,416.45 535.5,494.95 627.5,494.95" fill="none" stroke="#7a48a8" stroke-width="1.3" stroke-linejoin="round" />
<polyline points="489,416.45 543.6,416.45 543.6,494.95 627.5,494.95" fill="none" stroke="#3a56a8" stroke-width="1.3" stroke-linejoin="round" />
<polyline points="543.6,416.45 557.8,416.45 557.8,494.95" fill="none" stroke="#f08a20" stroke-width="1.3" stroke-linejoin="round" />
<polyline points="543.6,416.45 544.25,416.45 544.91,416.45 545.56,416.45 546.21,416.45 546.87,416.45 547.52,416.45 548.17,416.45 548.83,416.45 549.48,416.45 550.13,416.45 550.79,416.45 551.44,416.45 552.09,416.45 552.75,416.45 553.4,416.45 554.05,416.45 554.71,416.45 555.36,416.45 556.01,416.45 556.67,416.45 557.32,416.45 557.97,416.45 558.63,416.45 559.28,416.45 559.93,416.45 560.59,416.45 561.24,416.45 561.89,416.45 562.55,416.45 563.2,416.45 563.85,416.45 564.51,416.45 565.16,416.45 565.81,416.45 566.47,416.45 567.12,416.45 567.77,416.45 568.43,416.45 569.08,416.45 569.73,416.45 570.39,416.45 571.04,416.45 571.69,416.45 572.35,416.45 573,416.45 573.65,416.45 574.31,416.45 574.96,416.45 575.61,416.45 576.27,416.45 576.92,416.45 577.57,416.45 578.23,416.45 578.88,416.45 579.53,416.45 580.19,416.45 580.84,416.45 581.49,416.45 582.15,416.45 582.8,416.45 583.45,416.45 584.11,416.45 584.76,416.45 585.41,416.45 586.07,416.45 586.72,416.45 587.37,416.45 588.03,416.45 588.68,416.45 589.33,416.45 589.99,416.45 590.64,416.45 591.29,416.45 591.95,416.45 592.6,416.45 593.25,416.45 593.91,416.45 594.56,416.45 595.21,416.45 595.87,416.45 596.52,416.45 597.17,416.45 597.83,416.45 598.48,416.45 599.13,416.45 599.79,416.45 600.44,416.45 601.09,416.45 601.75,416.45 602.4,416.45 603.05,416.45 603.71,416.45 604.36,416.45 605.01,416.46 605.67,416.46 606.32,416.48 606.97,416.51 607.63,416.58 608.28,416.71 608.93,417 609.59,417.57 610.24,418.73 610.89,421.01 611.55,425.33 612.2,432.83 612.85,444.13 613.51,458.02 614.16,471.35 614.81,481.44 615.47,487.77 616.12,491.31 616.77,493.14 617.43,494.07 618.08,494.52 618.73,494.74 619.39,494.85 620.04,494.9 620.69,494.93 621.35,494.94 622,494.94 627.5,494.95" fill="none" stroke="#35a850" stroke-width="1.3" stroke-linejoin="round" />
<rect x="486.4" y="413.85" width="5.2" height="5.2" fill="#8a2a48"/>
<rect x="500.1" y="413.85" width="5.2" height="5.2" fill="#8a2a48"/>
<rect x="513.8" y="413.85" width="5.2" height="5.2" fill="#8a2a48"/>
<rect x="527.5" y="413.85" width="5.2" height="5.2" fill="#8a2a48"/>
<rect x="541.2" y="413.85" width="5.2" height="5.2" fill="#8a2a48"/>
<polygon points="557.5,414.38 559.48,417.98 555.52,417.98" fill="#35a850"/>
<polygon points="571.2,414.38 573.18,417.98 569.22,417.98" fill="#35a850"/>
<polygon points="584.9,414.38 586.88,417.98 582.92,417.98" fill="#35a850"/>
<polygon points="598.6,414.38 600.58,417.98 596.62,417.98" fill="#35a850"/>
<rect x="540.8" y="413.65" width="5.6" height="5.6" fill="#a09040"/>
<rect x="541.2" y="453.3" width="4.8" height="4.8" fill="#8a2a48"/>
<rect x="554.8" y="452.7" width="6" height="6" fill="#f08a20"/>
<polygon points="612.4,430.08 614.38,433.68 610.42,433.68" fill="#35a850"/>
<rect x="541.4" y="492.55" width="4.8" height="4.8" fill="#8a2a48"/>
<rect x="555.1" y="492.55" width="4.8" height="4.8" fill="#8a2a48"/>
<rect x="568.8" y="492.55" width="4.8" height="4.8" fill="#8a2a48"/>
<rect x="582.5" y="492.55" width="4.8" height="4.8" fill="#8a2a48"/>
<rect x="596.2" y="492.55" width="4.8" height="4.8" fill="#8a2a48"/>
<rect x="609.9" y="492.55" width="4.8" height="4.8" fill="#8a2a48"/>
<rect x="622.3" y="486.46" width="6" height="6" fill="#8a2a48"/>
<line x1="489" y1="408.1" x2="489" y2="503.6" stroke="#333" stroke-width="1.6"/>
<line x1="488.2" y1="502.8" x2="627.5" y2="502.8" stroke="#333" stroke-width="1.6"/>
<line x1="487.2" y1="420.38" x2="489" y2="420.38" stroke="#333" stroke-width="0.9"/>
<line x1="487.2" y1="443.93" x2="489" y2="443.93" stroke="#333" stroke-width="0.9"/>
<line x1="487.2" y1="467.48" x2="489" y2="467.48" stroke="#333" stroke-width="0.9"/>
<line x1="487.2" y1="491.02" x2="489" y2="491.02" stroke="#333" stroke-width="0.9"/>
<line x1="486" y1="408.6" x2="489" y2="408.6" stroke="#333" stroke-width="1.1"/>
<text x="483.4" y="411.7" font-size="8.7" text-anchor="end" fill="#222" stroke="#222" font-weight="normal" >110</text>
<line x1="486" y1="432.15" x2="489" y2="432.15" stroke="#333" stroke-width="1.1"/>
<text x="483.4" y="435.25" font-size="8.7" text-anchor="end" fill="#222" stroke="#222" font-weight="normal" >80</text>
<line x1="486" y1="455.7" x2="489" y2="455.7" stroke="#333" stroke-width="1.1"/>
<text x="483.4" y="458.8" font-size="8.7" text-anchor="end" fill="#222" stroke="#222" font-weight="normal" >50</text>
<line x1="486" y1="479.25" x2="489" y2="479.25" stroke="#333" stroke-width="1.1"/>
<text x="483.4" y="482.35" font-size="8.7" text-anchor="end" fill="#222" stroke="#222" font-weight="normal" >20</text>
<line x1="486" y1="502.8" x2="489" y2="502.8" stroke="#333" stroke-width="1.1"/>
<text x="483.4" y="505.9" font-size="8.7" text-anchor="end" fill="#222" stroke="#222" font-weight="normal" >-10</text>
<line x1="509.6" y1="502.8" x2="509.6" y2="505.8" stroke="#333" stroke-width="1.0"/>
<text x="509.6" y="514.3" font-size="8.7" text-anchor="middle" fill="#222" stroke="#222" font-weight="normal" >1</text>
<line x1="538.7" y1="502.8" x2="538.7" y2="505.8" stroke="#333" stroke-width="1.0"/>
<text x="538.7" y="514.3" font-size="8.7" text-anchor="middle" fill="#222" stroke="#222" font-weight="normal" >0</text>
<line x1="567.8" y1="502.8" x2="567.8" y2="505.8" stroke="#333" stroke-width="1.0"/>
<text x="567.8" y="514.3" font-size="8.7" text-anchor="middle" fill="#222" stroke="#222" font-weight="normal" >-1</text>
<line x1="596.9" y1="502.8" x2="596.9" y2="505.8" stroke="#333" stroke-width="1.0"/>
<text x="596.9" y="514.3" font-size="8.7" text-anchor="middle" fill="#222" stroke="#222" font-weight="normal" >-2</text>
<line x1="626" y1="502.8" x2="626" y2="505.8" stroke="#333" stroke-width="1.0"/>
<text x="626" y="514.3" font-size="8.7" text-anchor="middle" fill="#222" stroke="#222" font-weight="normal" >-3</text>
<line x1="627.33" y1="502.8" x2="627.33" y2="504.6" stroke="#333" stroke-width="0.8"/>
<line x1="617.24" y1="502.8" x2="617.24" y2="504.6" stroke="#333" stroke-width="0.8"/>
<line x1="612.12" y1="502.8" x2="612.12" y2="504.6" stroke="#333" stroke-width="0.8"/>
<line x1="608.48" y1="502.8" x2="608.48" y2="504.6" stroke="#333" stroke-width="0.8"/>
<line x1="605.66" y1="502.8" x2="605.66" y2="504.6" stroke="#333" stroke-width="0.8"/>
<line x1="603.36" y1="502.8" x2="603.36" y2="504.6" stroke="#333" stroke-width="0.8"/>
<line x1="601.41" y1="502.8" x2="601.41" y2="504.6" stroke="#333" stroke-width="0.8"/>
<line x1="599.72" y1="502.8" x2="599.72" y2="504.6" stroke="#333" stroke-width="0.8"/>
<line x1="598.23" y1="502.8" x2="598.23" y2="504.6" stroke="#333" stroke-width="0.8"/>
<line x1="588.14" y1="502.8" x2="588.14" y2="504.6" stroke="#333" stroke-width="0.8"/>
<line x1="583.02" y1="502.8" x2="583.02" y2="504.6" stroke="#333" stroke-width="0.8"/>
<line x1="579.38" y1="502.8" x2="579.38" y2="504.6" stroke="#333" stroke-width="0.8"/>
<line x1="576.56" y1="502.8" x2="576.56" y2="504.6" stroke="#333" stroke-width="0.8"/>
<line x1="574.26" y1="502.8" x2="574.26" y2="504.6" stroke="#333" stroke-width="0.8"/>
<line x1="572.31" y1="502.8" x2="572.31" y2="504.6" stroke="#333" stroke-width="0.8"/>
<line x1="570.62" y1="502.8" x2="570.62" y2="504.6" stroke="#333" stroke-width="0.8"/>
<line x1="569.13" y1="502.8" x2="569.13" y2="504.6" stroke="#333" stroke-width="0.8"/>
<line x1="559.04" y1="502.8" x2="559.04" y2="504.6" stroke="#333" stroke-width="0.8"/>
<line x1="553.92" y1="502.8" x2="553.92" y2="504.6" stroke="#333" stroke-width="0.8"/>
<line x1="550.28" y1="502.8" x2="550.28" y2="504.6" stroke="#333" stroke-width="0.8"/>
<line x1="547.46" y1="502.8" x2="547.46" y2="504.6" stroke="#333" stroke-width="0.8"/>
<line x1="545.16" y1="502.8" x2="545.16" y2="504.6" stroke="#333" stroke-width="0.8"/>
<line x1="543.21" y1="502.8" x2="543.21" y2="504.6" stroke="#333" stroke-width="0.8"/>
<line x1="541.52" y1="502.8" x2="541.52" y2="504.6" stroke="#333" stroke-width="0.8"/>
<line x1="540.03" y1="502.8" x2="540.03" y2="504.6" stroke="#333" stroke-width="0.8"/>
<line x1="529.94" y1="502.8" x2="529.94" y2="504.6" stroke="#333" stroke-width="0.8"/>
<line x1="524.82" y1="502.8" x2="524.82" y2="504.6" stroke="#333" stroke-width="0.8"/>
<line x1="521.18" y1="502.8" x2="521.18" y2="504.6" stroke="#333" stroke-width="0.8"/>
<line x1="518.36" y1="502.8" x2="518.36" y2="504.6" stroke="#333" stroke-width="0.8"/>
<line x1="516.06" y1="502.8" x2="516.06" y2="504.6" stroke="#333" stroke-width="0.8"/>
<line x1="514.11" y1="502.8" x2="514.11" y2="504.6" stroke="#333" stroke-width="0.8"/>
<line x1="512.42" y1="502.8" x2="512.42" y2="504.6" stroke="#333" stroke-width="0.8"/>
<line x1="510.93" y1="502.8" x2="510.93" y2="504.6" stroke="#333" stroke-width="0.8"/>
<line x1="500.84" y1="502.8" x2="500.84" y2="504.6" stroke="#333" stroke-width="0.8"/>
<line x1="495.72" y1="502.8" x2="495.72" y2="504.6" stroke="#333" stroke-width="0.8"/>
<line x1="492.08" y1="502.8" x2="492.08" y2="504.6" stroke="#333" stroke-width="0.8"/>
<line x1="489.26" y1="502.8" x2="489.26" y2="504.6" stroke="#333" stroke-width="0.8"/>
<text x="467.3" y="459.5" font-size="8.6" text-anchor="middle" fill="#222" stroke="#222" font-weight="normal" transform="rotate(-90 467.3 459.5)">Inhibition rate (%)</text>
<text x="556.2" y="522.8" font-size="8.3" text-anchor="middle" fill="#222" stroke="#222" font-weight="normal" >lg [con.(μg/mL)]</text>
<line x1="636.1" y1="410.7" x2="647.4" y2="410.7" stroke="#3a56a8" stroke-width="1.4"/>
<line x1="641.8" y1="408.5" x2="641.8" y2="412.9" stroke="#3a56a8" stroke-width="1.1"/>
<text x="653.9" y="413.7" font-size="8.45" text-anchor="start" fill="#222" stroke="#222" font-weight="normal" >nCoV531</text>
<line x1="636.1" y1="425.2" x2="647.4" y2="425.2" stroke="#e02838" stroke-width="1.4"/>
<rect x="639.4" y="422.8" width="4.8" height="4.8" fill="#e02838"/>
<text x="653.9" y="428.2" font-size="8.45" text-anchor="start" fill="#222" stroke="#222" font-weight="normal" >nCoV653</text>
<line x1="636.1" y1="440.2" x2="647.4" y2="440.2" stroke="#35a850" stroke-width="1.4"/>
<polygon points="641.8,437.67 644.22,442.07 639.38,442.07" fill="#35a850"/>
<text x="653.9" y="443.2" font-size="8.45" text-anchor="start" fill="#222" stroke="#222" font-weight="normal" >nCoV617</text>
<line x1="636.1" y1="454.7" x2="647.4" y2="454.7" stroke="#7a48a8" stroke-width="1.4"/>
<polygon points="641.8,457.23 644.22,452.83 639.38,452.83" fill="#7a48a8"/>
<text x="653.9" y="457.7" font-size="8.45" text-anchor="start" fill="#222" stroke="#222" font-weight="normal" >nCoV608</text>
<line x1="636.1" y1="467.6" x2="647.4" y2="467.6" stroke="#f08a20" stroke-width="1.4"/>
<rect x="639.4" y="465.2" width="4.8" height="4.8" fill="#f08a20"/>
<text x="653.9" y="470.6" font-size="8.45" text-anchor="start" fill="#222" stroke="#222" font-weight="normal" >nCoV604</text>
<rect x="631.6" y="434.2" width="62.3" height="11.6" fill="none" stroke="#b02838" stroke-width="1.6"/>
<polyline points="97.44,605.16 98.06,599.83 98.67,597.02 99.29,595.17 99.9,594.42 100.51,593.76 101.13,593.29 101.74,593.23 102.35,592.88 102.97,592.82 103.58,592.77 104.19,592.64 104.81,592.56 105.42,592.54 106.03,592.24 106.65,592.35 107.26,592.06 107.87,592.02 108.49,592.2 109.1,592.03 109.72,591.87 110.33,591.67 110.94,591.79 111.56,591.56 112.17,591.55 112.78,591.32 113.4,591.19 114.01,591.15 114.62,591.25 115.24,590.97 115.85,590.99 116.46,590.77 117.08,590.8 117.69,590.57 118.3,590.45 118.92,590.42 119.53,590.33 120.14,590.24 120.76,590.23 121.37,590.27 121.98,589.92 122.6,590 123.21,590.06 123.83,589.83 124.44,589.75 125.05,589.73 125.67,589.39 126.28,589.58 126.89,589.23 127.51,589.26 128.12,589.29 128.73,589.14 129.35,589.02 129.96,589.04 130.57,588.74 131.19,588.69 131.8,588.49 132.41,588.45 133.03,588.37 133.64,588.22 134.25,588.15 134.25,585.93 134.46,585.96 134.66,588.28 135.51,590.05 136.37,591.3 137.22,592.24 138.07,592.89 138.92,593.65 139.77,593.9 140.62,594.33 141.47,594.43 142.32,594.66 143.17,594.88 144.02,594.98 144.87,595.38 145.72,595.39 146.57,595.62 147.42,595.92 148.28,595.84 149.13,596.32 149.98,596.36 150.83,596.51 151.68,596.66 152.53,596.71 153.38,597.02 154.23,597.09 155.08,597.45 155.93,597.56 156.78,597.85 157.63,597.86 158.48,598.1 159.33,598.15 160.19,598.55 161.04,598.6 161.89,598.61 162.74,599.1 163.59,599.05 164.44,599.22 165.29,599.38 166.14,599.6 166.99,599.8 167.84,599.82 168.69,600.21 169.54,600.24 170.39,600.43 171.24,600.58 172.1,600.84 172.95,601.16 173.8,601.08 174.65,601.42 175.5,601.42 176.35,601.53 177.2,601.77" fill="none" stroke="#6a9ad0" stroke-width="1.3" stroke-linejoin="round" />
<polyline points="29.96,651.04 30.06,651.35 30.06,614.32 30.47,610.77 30.88,607.78 31.29,605.73 31.69,603.81 32.1,602.69 32.51,601.33 32.92,600.66 33.33,600.06 33.73,599.46 34.14,598.92 34.55,598.77 34.96,598.36 35.36,598.25 35.77,598.03 36.18,597.83 36.59,597.66 37,597.52 37.4,597.25 37.81,597.27 38.22,597.03 38.63,596.93 39.04,596.85 39.44,596.76 39.85,596.81 40.26,596.71 40.67,596.58 41.07,596.63 41.48,596.69 41.89,596.51 42.3,596.44 42.71,596.5 43.11,596.46 43.52,596.37 43.93,596.14 44.34,596.04 44.75,596.04 45.15,596.05 45.56,596.12 45.97,596.07 46.38,595.8 46.78,595.78 47.19,595.74 47.6,595.78 48.01,595.74 48.42,595.66 48.82,595.62 49.23,595.4 49.64,595.44 50.05,595.3 50.46,595.28 50.86,595.18 51.27,595.05 51.68,594.98 52.09,595.13 52.49,594.81 52.9,594.78 53.31,594.73 53.72,594.79 54.13,594.57 54.53,594.56 54.94,594.69 55.35,594.48 55.76,594.37 56.17,594.34 56.57,594.23 56.98,594.29 57.39,594.19 57.8,594.33 58.2,594.07 58.61,594.18 59.02,593.93 59.43,593.81 59.84,593.93 60.24,593.97 60.65,593.92 61.06,593.7 61.47,593.76 61.88,593.51 62.28,593.5 62.69,593.47 63.1,593.36 63.51,593.47 63.91,593.31 64.32,593.38 64.73,593.16 65.14,593.02 65.55,593.17 65.95,592.93 66.36,592.77 66.77,592.94 66.77,590 66.97,589.98 67.18,592.77 67.78,594.94 68.39,596.06 68.99,597.19 69.6,597.71 70.21,598.16 70.81,598.54 71.42,599.04 72.02,599.14 72.63,599.39 73.23,599.35 73.84,599.66 74.44,599.82 75.05,599.84 75.65,600.04 76.26,600.08 76.86,600.01 77.47,600.21 78.07,600.34 78.68,600.18 79.29,600.48 79.89,600.38 80.5,600.5 81.1,600.62 81.71,600.67 82.31,600.77 82.92,600.76 83.52,600.89 84.13,601.11 84.73,601.06 85.34,601.18 85.94,601.13 86.55,601.47 87.15,601.44 87.76,601.35 88.37,601.72 88.97,601.58 89.58,601.6 90.18,601.78 90.79,602.04 91.39,601.88 92,602.13 92.6,602.12 93.21,602.1 93.81,602.35 94.42,602.45 95.02,602.57 95.63,602.57 96.23,602.73 96.84,602.61 97.44,602.65 97.44,605.22 97.65,605.06 97.65,605.1 98.64,605.67 99.64,606.37 100.63,606.78 101.63,607.19 102.62,607.68 103.62,607.92 104.61,608.32 105.6,608.66 106.6,609.26 107.59,609.6 108.59,609.7 109.58,609.97 110.58,610.32 111.57,610.55 112.57,610.59 113.56,610.79 114.55,611.23 115.55,611.37 116.54,611.34 117.54,611.59 118.53,611.82 119.53,611.69 120.52,612.02 121.51,612.22 122.51,612.21 123.5,612.32 124.5,612.33 125.49,612.38 126.49,612.68 127.48,612.63 128.48,612.56 129.47,612.76 130.46,612.69 131.46,612.75 132.45,612.83 133.45,612.91 134.44,613.12 135.44,612.86 136.43,613.11 137.42,613.13 138.42,613.08 139.41,613.09 140.41,613.03 141.4,613.12 142.4,613 143.39,613.05 144.39,613.11 145.38,613.24 146.37,613.12 147.37,613.17 148.36,613.09 149.36,613.25 150.35,613.07 151.35,613.1 152.34,613.27 153.33,613.02 154.33,613.16 155.32,613.17 156.32,613.2 157.31,613.18 158.31,613.03 159.3,612.99 160.3,613.13 161.29,613.1 162.28,613.11 163.28,613.21 164.27,612.95 165.27,613.09 166.26,613.21 167.26,613.13 168.25,613.1 169.24,612.93 170.24,613.12 171.23,613.11 172.23,612.85 173.22,613.04 174.22,612.81 175.21,613.11 176.21,613.07 177.2,613.01" fill="none" stroke="#d8286a" stroke-width="1.6" stroke-linejoin="round" />
<line x1="28.5" y1="551.4" x2="28.5" y2="652" stroke="#222" stroke-width="1.4"/>
<line x1="27.7" y1="651.2" x2="177.2" y2="651.2" stroke="#222" stroke-width="1.4"/>
<line x1="25.5" y1="651.2" x2="28.5" y2="651.2" stroke="#222" stroke-width="1.0"/>
<text x="25.7" y="654.3" font-size="8.6" text-anchor="end" fill="#222" stroke="#222" font-weight="normal" >0</text>
<line x1="25.5" y1="618.1" x2="28.5" y2="618.1" stroke="#222" stroke-width="1.0"/>
<text x="25.7" y="621.2" font-size="8.6" text-anchor="end" fill="#222" stroke="#222" font-weight="normal" >200</text>
<line x1="25.5" y1="585" x2="28.5" y2="585" stroke="#222" stroke-width="1.0"/>
<text x="25.7" y="588.1" font-size="8.6" text-anchor="end" fill="#222" stroke="#222" font-weight="normal" >400</text>
<line x1="25.5" y1="551.9" x2="28.5" y2="551.9" stroke="#222" stroke-width="1.0"/>
<text x="25.7" y="555" font-size="8.6" text-anchor="end" fill="#222" stroke="#222" font-weight="normal" >600</text>
<line x1="54.5" y1="651.2" x2="54.5" y2="654" stroke="#222" stroke-width="1.0"/>
<text x="54.5" y="663.4" font-size="8.6" text-anchor="middle" fill="#222" stroke="#222" font-weight="normal" >200</text>
<line x1="95.4" y1="651.2" x2="95.4" y2="654" stroke="#222" stroke-width="1.0"/>
<text x="95.4" y="663.4" font-size="8.6" text-anchor="middle" fill="#222" stroke="#222" font-weight="normal" >400</text>
<line x1="136.3" y1="651.2" x2="136.3" y2="654" stroke="#222" stroke-width="1.0"/>
<text x="136.3" y="663.4" font-size="8.6" text-anchor="middle" fill="#222" stroke="#222" font-weight="normal" >600</text>
<line x1="177.2" y1="651.2" x2="177.2" y2="654" stroke="#222" stroke-width="1.0"/>
<text x="177.2" y="663.4" font-size="8.6" text-anchor="middle" fill="#222" stroke="#222" font-weight="normal" >800</text>
<text x="1.7" y="538.4" font-size="13.6" text-anchor="start" fill="#111" stroke="#111" font-weight="bold" >H</text>
<text x="103.3" y="674" font-size="8.6" text-anchor="middle" fill="#222" stroke="#222" font-weight="normal" >Time(s)</text>
<text x="7.3" y="599" font-size="8.6" text-anchor="middle" fill="#222" stroke="#222" font-weight="normal" letter-spacing="1" transform="rotate(-90 7.3 599)">Ru</text>
<line x1="35.8" y1="546.4" x2="46.3" y2="546.4" stroke="#6a9ad0" stroke-width="1.3"/>
<text x="52.7" y="550.2" font-size="8.6" text-anchor="start" fill="#6a9ad0" stroke="#6a9ad0" font-weight="normal" >nCoV617-nCoV617</text>
<line x1="35.8" y1="563.9" x2="46.3" y2="563.9" stroke="#d8286a" stroke-width="1.8"/>
<text x="52.7" y="567.3" font-size="8.6" text-anchor="start" fill="#d8286a" stroke="#d8286a" font-weight="normal" >nCoV617-ACE2</text>
<polyline points="288.72,639.11 290.06,639.14 291.41,639.1 292.75,639.31 294.09,639.36 295.44,639.28 296.78,639.4 298.12,639.48 299.46,639.52 300.81,639.59 302.15,639.69 303.49,639.58 304.84,639.54 306.18,639.66 307.52,639.72 308.87,639.87 310.21,639.88 311.55,640.03 312.89,639.88 314.24,640.07 315.58,640.12 316.92,639.94 318.27,640.2 319.61,640.03 320.95,640.2 322.3,640.2 323.64,640.29 324.98,640.48 326.32,640.36 327.67,640.38 329.01,640.19 330.35,640.13 331.7,640.01 333.04,639.76 334.38,639.74 335.73,639.47 337.07,639.17 338.41,638.98 339.75,639.02 341.1,638.98 342.44,638.76 343.78,638.7 345.13,638.51 346.47,638.23 347.81,638.09 349.15,638.14 350.5,637.84 351.84,637.72 353.18,637.58 354.53,637.52 355.87,637.29 357.21,637.24 358.56,636.9 359.9,636.77 361.24,636.63 362.58,636.56 363.93,636.23 365.27,636.28 366.61,636.19 367.96,635.99 369.3,635.67" fill="none" stroke="#6a9ad0" stroke-width="1.2" stroke-linejoin="round" />
<polyline points="224.46,651.36 225.53,650.76 226.6,649.71 227.67,649.23 228.74,648.49 229.81,647.74 230.89,647.35 231.96,646.78 233.03,646.41 234.1,645.7 235.17,645.28 236.24,645.16 237.31,644.82 238.38,644.38 239.45,644.06 240.53,643.69 241.6,643.57 242.67,643.24 243.74,643.16 244.81,642.93 245.88,642.77 246.95,642.43 248.02,642.25 249.09,642.07 250.16,641.8 251.24,641.87 252.31,641.72 253.38,641.55 254.45,641.26 255.52,641.36 256.59,641.25 257.66,641.1 258.73,640.91 259.8,640.95 260.87,640.9 261.94,640.62 263.02,640.59 264.09,640.51 265.16,640.61 266.23,640.46 267.3,640.43 268.37,640.27 269.44,640.03 270.51,639.93 271.58,639.91 272.66,640 273.73,639.88 274.8,639.7 275.87,639.83 276.94,639.75 278.01,639.59 279.08,639.65 280.15,639.55 281.22,639.53 282.29,639.32 283.37,639.37 284.44,639.45 285.51,639.43 286.58,639.17 287.65,639.29 288.72,639.05 288.72,640.85 288.92,640.75 288.92,634.74 289.67,623.43 290.41,617.32 291.15,613.65 291.89,611.47 292.64,610.32 293.38,609.24 294.12,608.65 294.86,608.21 295.61,607.86 296.35,607.55 297.09,607.39 297.83,607.05 298.58,606.95 299.32,606.84 300.06,606.34 300.8,606.14 301.55,606.17 302.29,605.94 303.03,605.81 303.78,605.49 304.52,605.51 305.26,605.14 306,605.25 306.75,604.99 307.49,604.73 308.23,604.7 308.97,604.69 309.72,604.61 310.46,604.28 311.2,604.38 311.94,604.21 312.69,604 313.43,604.01 314.17,604.01 314.91,603.67 315.66,603.62 316.4,603.58 317.14,603.67 317.88,603.47 318.63,603.25 319.37,603.33 320.11,603.35 320.85,603.07 321.6,603.21 322.34,603.1 323.08,603.16 323.82,602.88 324.57,602.9 325.31,602.9 326.05,602.87 326.05,599.95 326.26,599.91 326.46,602.86 327.53,603.95 328.6,604.51 329.67,605.18 330.74,606.01 331.81,606.48 332.89,606.72 333.96,607.21 335.03,607.6 336.1,607.7 337.17,607.84 338.24,608.26 339.31,608.35 340.38,608.52 341.45,608.65 342.52,608.75 343.6,608.74 344.67,608.84 345.74,608.9 346.81,609.03 347.88,609.06 348.95,609.11 350.02,609.15 351.09,609.2 352.16,609.21 353.24,609.47 354.31,609.45 355.38,609.31 356.45,609.4 357.52,609.48 358.59,609.35 359.66,609.51 360.73,609.34 361.8,609.49 362.87,609.3 363.94,609.5 365.02,609.29 366.09,609.51 367.16,609.36 368.23,609.58 369.3,609.46" fill="none" stroke="#d8286a" stroke-width="1.6" stroke-linejoin="round" />
<line x1="220.4" y1="551.9" x2="220.4" y2="652.3" stroke="#222" stroke-width="1.4"/>
<line x1="219.6" y1="651.5" x2="369.3" y2="651.5" stroke="#222" stroke-width="1.4"/>
<line x1="217.4" y1="651.5" x2="220.4" y2="651.5" stroke="#222" stroke-width="1.0"/>
<text x="217.6" y="654.6" font-size="8.6" text-anchor="end" fill="#222" stroke="#222" font-weight="normal" >0</text>
<line x1="217.4" y1="618.47" x2="220.4" y2="618.47" stroke="#222" stroke-width="1.0"/>
<text x="217.6" y="621.57" font-size="8.6" text-anchor="end" fill="#222" stroke="#222" font-weight="normal" >200</text>
<line x1="217.4" y1="585.43" x2="220.4" y2="585.43" stroke="#222" stroke-width="1.0"/>
<text x="217.6" y="588.53" font-size="8.6" text-anchor="end" fill="#222" stroke="#222" font-weight="normal" >400</text>
<line x1="217.4" y1="552.4" x2="220.4" y2="552.4" stroke="#222" stroke-width="1.0"/>
<text x="217.6" y="555.5" font-size="8.6" text-anchor="end" fill="#222" stroke="#222" font-weight="normal" >600</text>
<line x1="246.9" y1="651.5" x2="246.9" y2="654.3" stroke="#222" stroke-width="1.0"/>
<text x="246.9" y="663.7" font-size="8.6" text-anchor="middle" fill="#222" stroke="#222" font-weight="normal" >200</text>
<line x1="287.7" y1="651.5" x2="287.7" y2="654.3" stroke="#222" stroke-width="1.0"/>
<text x="287.7" y="663.7" font-size="8.6" text-anchor="middle" fill="#222" stroke="#222" font-weight="normal" >400</text>
<line x1="328.5" y1="651.5" x2="328.5" y2="654.3" stroke="#222" stroke-width="1.0"/>
<text x="328.5" y="663.7" font-size="8.6" text-anchor="middle" fill="#222" stroke="#222" font-weight="normal" >600</text>
<line x1="369.3" y1="651.5" x2="369.3" y2="654.3" stroke="#222" stroke-width="1.0"/>
<text x="369.3" y="663.7" font-size="8.6" text-anchor="middle" fill="#222" stroke="#222" font-weight="normal" >800</text>
<text x="204.6" y="538.4" font-size="13.6" text-anchor="start" fill="#111" stroke="#111" font-weight="bold" >I</text>
<text x="294.6" y="674" font-size="8.6" text-anchor="middle" fill="#222" stroke="#222" font-weight="normal" >Time(s)</text>
<text x="200.6" y="599" font-size="8.6" text-anchor="middle" fill="#222" stroke="#222" font-weight="normal" letter-spacing="1" transform="rotate(-90 200.6 599)">Ru</text>
<line x1="229.1" y1="547.7" x2="240" y2="547.7" stroke="#6a9ad0" stroke-width="1.3"/>
<text x="245.5" y="550.7" font-size="8.6" text-anchor="start" fill="#6a9ad0" stroke="#6a9ad0" font-weight="normal" >ACE2-ACE2</text>
<line x1="229.1" y1="566.3" x2="240" y2="566.3" stroke="#d8286a" stroke-width="1.8"/>
<text x="245.5" y="569.3" font-size="8.6" text-anchor="start" fill="#d8286a" stroke="#d8286a" font-weight="normal" >ACE2-nCoV617</text>
</svg></body></html>
